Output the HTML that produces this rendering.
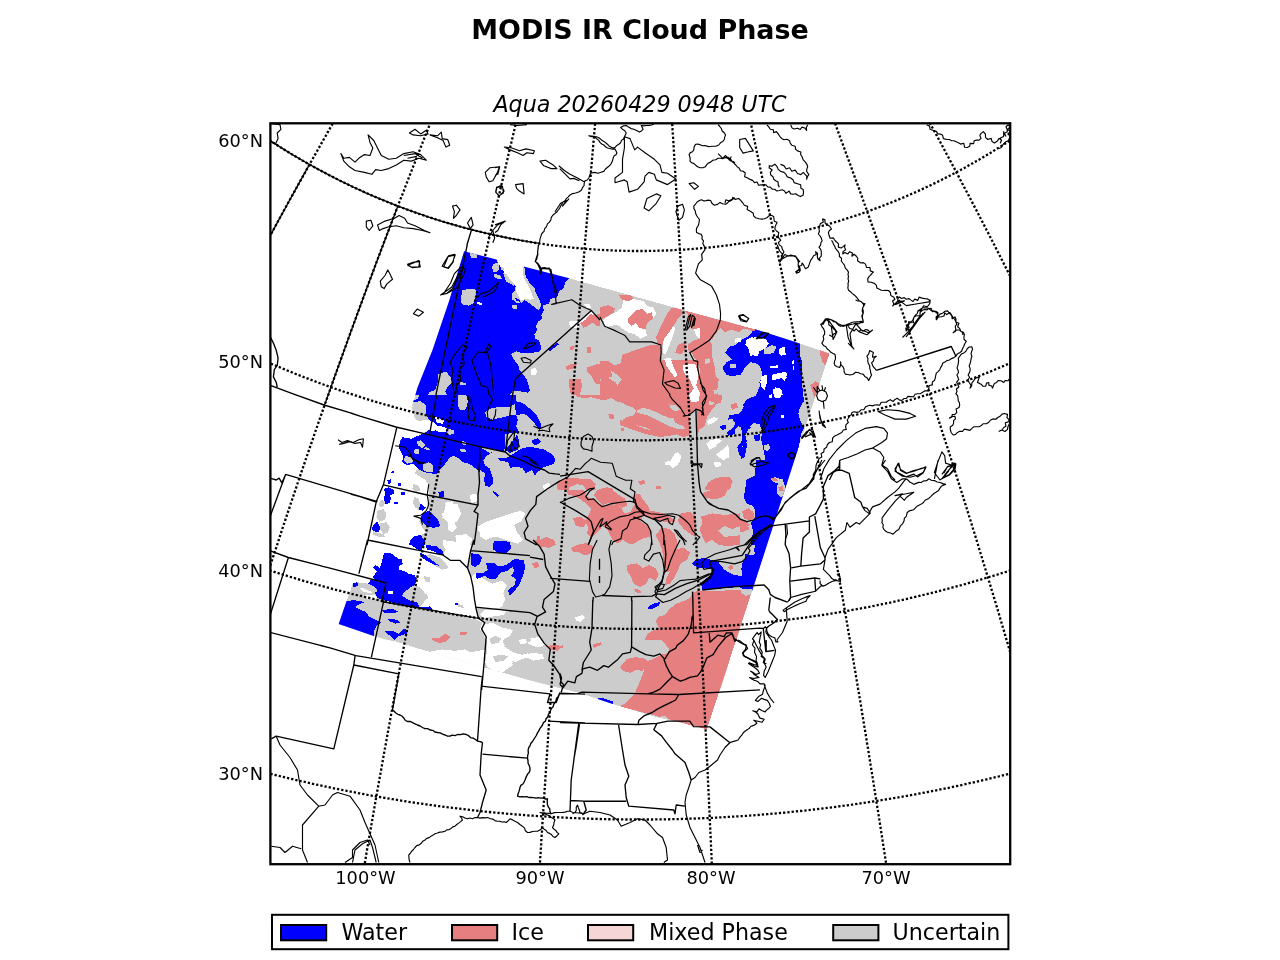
<!DOCTYPE html>
<html><head><meta charset="utf-8"><title>MODIS IR Cloud Phase</title>
<style>html,body{margin:0;padding:0;background:#fff}svg{display:block}.t{filter:grayscale(1)}</style></head>
<body>
<svg width="1280" height="960" viewBox="0 0 1280 960">
<defs><clipPath id="mc"><rect x="270.4" y="123.3" width="739.8" height="740.9"/></clipPath></defs>
<rect width="1280" height="960" fill="#fff"/>
<g clip-path="url(#mc)">
<clipPath id="sc"><path d="M464.1,251.2 L570.3,278.6 L682.8,309.8 L756.2,329.4 L795.3,341.9 L829.7,353.6 L794.5,460.0 L746.0,610.0 L707.0,729.4 L653.8,716.4 L619.4,706.2 L581.9,693.8 L530.0,680.6 L373.8,636.1 L338.7,624.0 L352.5,583.8 L413.8,400.0 L417.5,387.5 L432.5,350.0 L449.4,300.0Z"/></clipPath>
<g shape-rendering="crispEdges" clip-path="url(#sc)">
<path fill="#cccccc" d="M464.1,251.2 L570.3,278.6 L682.8,309.8 L756.2,329.4 L795.3,341.9 L829.7,353.6 L794.5,460.0 L746.0,610.0 L707.0,729.4 L653.8,716.4 L619.4,706.2 L581.9,693.8 L530.0,680.6 L373.8,636.1 L338.7,624.0 L352.5,583.8 L413.8,400.0 L417.5,387.5 L432.5,350.0 L449.4,300.0Z"/>
<path fill="#ffffff" d="M497.7,259.1 L523.4,266.1 L522.7,273.1 L524.2,278.6 L527.3,284.1 L530.5,290.3 L532.8,296.6 L534.4,298.9 L530.5,299.7 L525.0,298.9 L523.4,300.5 L520.3,299.7 L516.4,291.9 L515.6,286.4 L512.5,283.3 L506.2,278.6 L504.7,273.1 L503.1,270.0 L500.0,266.1 L497.7,263.0Z M603.1,320.0 L609.4,315.3 L615.6,312.2 L621.9,307.5 L623.4,299.7 L628.1,298.1 L637.5,299.7 L643.8,301.2 L646.9,305.9 L653.1,307.5 L656.2,313.8 L653.1,318.4 L651.6,312.2 L646.9,313.8 L642.2,309.1 L635.9,310.6 L628.1,318.4 L631.2,326.2 L635.9,323.1 L639.1,327.8 L645.3,329.4 L646.9,335.6 L640.6,338.8 L634.4,334.1 L628.1,332.5 L623.4,329.4 L617.2,324.7 L609.4,326.2 L606.2,327.8Z M664.1,334.1 L668.8,326.2 L673.4,323.1 L675.0,329.4 L671.9,338.8 L668.8,346.6 L665.6,354.4 L662.5,352.8 L662.5,345.0Z M664.1,359.1 L670.3,357.5 L675.0,363.8 L678.1,370.0 L676.6,377.8 L671.9,374.7 L667.2,370.0Z M682.8,368.4 L687.5,365.3 L693.8,363.8 L695.3,370.0 L693.8,377.8 L689.1,382.5 L684.4,379.4Z M693.8,329.4 L700.0,327.8 L703.1,332.5 L701.6,338.8 L696.9,337.2Z M297.5,395.0 L414.7,395.0 L412.3,404.4 L413.9,415.3 L418.6,420.8 L428.8,420.0 L433.4,422.3 L438.1,426.2 L433.4,430.9 L427.2,430.2 L422.5,434.1 L417.8,435.9 L411.6,438.8 L402.2,437.2 L399.8,441.9 L399.1,448.1 L403.0,455.9 L402.2,462.2 L406.9,465.3 L413.1,463.8 L417.8,468.4 L414.7,473.1 L419.4,476.2 L425.6,480.2 L428.8,485.6 L428.8,495.0 L427.2,504.4 L428.8,510.6 L422.5,515.3 L419.4,521.6 L422.5,527.8 L425.6,532.5 L419.4,535.6 L413.1,538.8 L410.0,545.0 L297.5,545.0Z M689.7,395.0 L700.6,395.0 L703.8,398.1 L700.6,402.8 L694.4,403.6 L689.7,399.7Z M706.1,445.0 L710.0,440.3 L717.8,438.8 L722.5,440.3 L716.2,445.0 L710.0,448.1Z M716.2,454.4 L722.5,449.7 L728.0,445.0 L729.5,451.2 L728.8,457.5 L724.1,459.1 L719.4,457.5Z M664.7,462.2 L670.9,460.6 L674.1,454.4 L677.2,452.0 L681.1,455.2 L680.3,460.6 L677.2,465.3 L672.5,468.4 L669.4,464.5 L665.5,464.5Z M706.9,421.6 L714.7,417.7 L717.8,418.4 L713.1,423.1 L708.4,424.7Z M314.4,544.7 L410.0,544.7 L470.6,544.7 L471.4,550.9 L469.1,560.3 L467.5,568.1 L470.6,575.9 L473.0,586.9 L474.5,599.4 L476.1,608.8 L478.4,618.1 L484.7,622.8 L481.6,629.1 L486.2,636.9 L484.7,649.4 L483.9,665.0 L483.1,690.0 L314.4,690.0Z M573.8,616.6 L583.1,615.8 L584.7,619.7 L578.4,622.8 L573.8,620.5Z M530.0,638.4 L540.9,636.9 L542.5,643.1 L534.7,644.7Z M530.0,652.5 L542.5,654.1 L544.1,658.8 L533.1,658.8Z M619.1,554.1 L623.8,554.8 L623.8,559.5 L619.8,558.0Z M574.8,618.0 L581.9,615.6 L585.0,617.2 L581.9,621.1 L576.4,621.1Z"/>
<path fill="#0000ff" d="M461.7,248.9 L470.3,250.9 L496.9,258.3 L497.7,263.0 L500.0,266.1 L503.1,270.0 L504.7,273.1 L506.2,278.6 L512.5,283.3 L515.6,286.4 L514.8,290.3 L512.5,293.4 L511.7,297.3 L518.8,298.9 L521.1,303.6 L524.2,299.7 L529.7,303.6 L535.9,308.3 L539.1,309.8 L541.4,305.2 L535.9,300.5 L532.8,296.6 L530.5,290.3 L527.3,284.1 L524.2,278.6 L522.7,273.1 L523.4,267.7 L526.2,264.5 L571.1,276.2 L565.6,281.7 L563.3,288.8 L559.4,291.1 L557.0,297.3 L550.0,298.9 L549.2,303.6 L543.0,305.2 L543.8,310.6 L541.4,315.3 L542.2,318.4 L538.3,321.6 L535.9,326.2 L537.5,330.2 L534.4,334.1 L535.2,338.8 L539.1,340.3 L540.6,345.0 L541.4,348.9 L539.1,352.0 L530.5,352.8 L520.3,352.8 L516.4,351.2 L510.9,354.4 L514.1,359.8 L518.8,366.1 L519.5,370.0 L523.4,374.7 L526.6,379.4 L528.9,385.6 L529.7,390.3 L528.1,392.7 L518.8,391.1 L512.5,391.1 L510.2,395.0 L412.5,395.0 L459.4,251.2Z M754.7,330.3 L800.0,342.2 L800.0,395.0 L785.2,395.0 L782.8,390.3 L776.6,388.8 L771.9,382.5 L765.6,390.3 L760.9,390.3 L759.4,382.5 L762.5,376.2 L760.9,368.4 L757.8,363.8 L750.0,362.2 L745.3,366.9 L740.6,374.7 L732.8,376.2 L725.0,373.1 L723.4,366.9 L726.6,362.2 L732.8,359.1 L731.2,354.4 L725.0,352.8 L729.7,346.6 L735.9,345.0 L740.6,340.3 L746.9,337.2 L750.0,334.1Z M753.1,328.6 L793.0,338.8 L795.3,346.6 L799.2,352.8 L801.6,360.6 L802.3,371.6 L801.6,382.5 L803.1,391.9 L803.9,401.2 L800.0,407.5 L798.4,413.8 L800.0,420.0 L803.9,427.8 L801.6,432.5 L800.0,438.8 L799.2,445.0 L797.7,451.2 L793.8,463.8 L792.2,470.0 L753.9,470.0 L757.8,466.9 L762.5,463.8 L765.6,460.6 L764.1,452.8 L762.5,445.0 L760.9,438.8 L762.5,432.5 L759.4,429.4 L753.1,426.2 L748.4,429.4 L745.3,435.6 L746.9,441.9 L743.8,445.0 L739.1,449.7 L737.5,446.6 L742.2,440.3 L742.2,432.5 L740.6,426.2 L735.9,421.6 L731.2,416.9 L728.9,415.3 L739.1,413.8 L743.8,407.5 L743.0,404.4 L750.0,399.7 L756.2,395.0 L759.4,387.2 L761.7,379.4 L763.3,371.6 L761.7,365.3 L756.2,361.4 L748.4,361.4 L745.3,365.3 L740.6,370.0 L735.9,373.1 L731.2,376.2 L726.6,374.7 L723.4,370.0 L722.7,366.1 L728.1,364.5 L732.8,360.6 L729.7,357.5 L725.8,353.6 L730.5,348.1 L737.5,346.6 L742.2,343.4 L746.9,341.9 L751.6,335.6Z M391.2,471.6 L393.6,471.2 L393.6,473.1 L391.2,473.1Z M387.3,480.2 L390.5,479.4 L391.2,483.3 L388.1,484.1Z M397.5,483.3 L400.6,483.3 L400.9,485.6 L397.8,485.6Z M401.4,491.9 L405.3,491.9 L405.3,495.0 L401.4,495.0Z M384.2,488.8 L388.9,487.2 L394.4,490.3 L393.6,494.2 L389.7,495.0 L391.2,498.1 L389.7,502.8 L385.8,504.4 L383.4,498.9 L385.0,495.0Z M394.4,502.0 L398.3,502.0 L398.3,504.4 L394.4,504.4Z M373.3,524.7 L377.2,521.6 L380.3,527.8 L378.8,532.5 L374.8,531.7 L371.7,529.4Z M413.9,536.4 L420.9,534.8 L424.1,540.3 L424.8,545.0 L409.2,545.0 L410.0,541.1Z M414.7,504.4 L419.4,502.8 L425.6,507.5 L422.5,510.6 L417.8,509.1Z M414.7,395.0 L413.1,402.0 L420.9,401.2 L426.4,405.9 L425.6,412.2 L428.8,420.0 L433.4,422.3 L438.1,426.2 L434.2,430.9 L428.8,430.2 L422.5,434.1 L417.8,435.9 L411.6,438.8 L402.2,437.2 L399.8,441.9 L399.1,448.1 L403.0,455.9 L402.2,462.2 L406.9,465.3 L413.1,463.8 L419.4,470.0 L427.2,473.1 L436.6,473.9 L441.2,468.4 L445.2,463.8 L450.6,456.7 L456.9,457.5 L463.1,462.2 L469.4,463.8 L475.6,468.4 L479.5,471.6 L479.5,447.3 L489.7,448.9 L497.5,450.5 L503.8,451.2 L508.4,446.6 L516.2,435.6 L519.4,432.5 L516.2,426.2 L517.8,420.0 L516.2,415.3 L510.0,415.3 L505.3,416.9 L497.5,418.4 L492.8,420.0 L486.6,416.9 L485.0,412.2 L491.2,408.3 L500.6,406.7 L508.4,407.5 L514.7,404.4 L516.2,401.2 L516.2,395.0Z M480.3,447.3 L489.7,452.8 L492.8,452.0 L486.6,455.9 L483.4,460.6 L485.0,465.3 L489.7,468.4 L491.2,473.1 L492.8,477.8 L492.8,484.1 L489.7,487.2 L485.0,485.6 L484.2,479.4 L485.0,473.1 L481.9,471.6 L479.5,468.4Z M516.2,401.2 L522.5,402.8 L530.3,409.1 L536.6,415.3 L541.2,424.7 L539.7,430.9 L536.6,426.2 L533.4,421.6 L527.2,415.3 L522.5,413.8 L516.2,415.3 L514.7,404.4Z M497.5,458.3 L506.9,457.5 L514.7,452.8 L522.5,448.1 L530.3,446.6 L544.4,449.7 L552.2,454.4 L555.3,459.1 L553.8,463.8 L549.1,465.3 L542.8,467.7 L536.6,473.1 L535.0,476.2 L531.9,470.0 L525.6,473.1 L522.5,468.4 L517.8,466.9 L510.0,467.7 L508.4,462.2 L500.6,460.6Z M531.9,440.3 L538.1,438.0 L541.2,441.9 L536.6,445.0 L532.7,444.2Z M505.3,434.1 L516.2,432.5 L519.4,441.9 L517.8,449.7 L510.0,452.8 L504.5,449.7Z M422.5,513.8 L428.8,510.6 L433.4,515.3 L438.1,520.0 L440.5,526.2 L433.4,527.8 L427.2,526.2 L422.5,521.6 L420.2,518.4Z M438.1,491.9 L443.6,491.1 L444.4,496.6 L439.7,497.3Z M493.6,491.1 L499.1,495.0 L497.5,496.6 L492.8,492.7Z M494.4,541.1 L506.9,541.1 L510.0,545.0 L492.8,545.0Z M413.1,395.0 L419.4,395.0 L417.8,398.9 L413.9,400.5Z M745.2,401.2 L749.1,398.1 L760.0,395.0 L760.0,423.9 L753.8,424.7 L747.5,424.7 L742.8,427.8 L738.1,426.2 L735.0,429.4 L731.9,434.1 L727.2,434.1 L728.8,430.9 L733.4,427.8 L735.0,423.1 L731.9,418.4 L727.2,420.0 L730.3,415.3 L735.0,416.9 L741.2,420.0 L744.4,415.3 L742.8,409.1Z M720.9,426.2 L725.6,424.7 L726.4,428.6 L721.7,430.2Z M737.3,447.3 L742.8,446.6 L744.4,441.9 L747.5,443.4 L745.9,451.2 L744.4,457.5 L740.5,459.1 L741.2,452.8Z M753.8,435.6 L760.0,434.1 L760.0,440.3 L755.3,441.9Z M745.9,480.2 L760.0,473.1 L760.0,545.0 L750.6,545.0 L752.2,535.6 L755.3,526.2 L753.8,520.0 L755.3,513.8 L753.8,504.4 L747.5,502.8 L744.4,498.1 L745.9,488.8Z M716.2,462.2 L719.4,461.4 L720.2,465.3 L717.0,466.1Z M756.2,460.0 L800.0,460.0 L756.2,591.2 L731.2,586.6 L702.3,590.0 L701.6,585.0 L704.7,581.9 L710.9,577.2 L713.3,570.9 L709.4,567.8 L703.1,569.4 L701.6,563.1 L704.7,560.0 L710.9,558.4 L715.6,560.0 L718.8,563.1 L723.4,567.8 L726.6,572.5 L732.8,576.4 L742.2,575.6 L741.4,569.4 L742.2,563.1 L744.5,560.0 L745.3,553.8 L751.6,555.3 L755.5,553.8 L753.9,550.6 L755.5,544.4 L757.8,536.6 L753.9,533.4 L752.3,528.8 L750.8,522.5 L753.1,520.9 L756.2,514.7 L754.7,508.4 L751.6,505.3 L746.9,503.8 L743.8,497.5 L745.3,488.1 L746.9,480.3 L754.7,475.6 L755.5,467.8Z M692.5,563.4 L698.8,558.8 L709.7,557.2 L717.5,560.3 L722.2,566.6 L730.0,568.9 L730.0,588.4 L703.4,590.0 L701.9,583.8 L706.6,579.1 L709.7,574.4 L705.0,571.2 L700.3,568.1 L694.1,567.3Z M648.8,605.6 L656.6,603.3 L659.7,605.6 L655.0,608.8 L648.8,608.8Z M648.3,606.2 L653.8,603.1 L660.0,603.9 L656.9,607.8 L650.6,609.4Z M597.5,697.7 L603.8,698.4 L613.1,701.6 L613.1,704.7 L605.3,703.1 L598.3,700.8Z"/>
<path fill="#cccccc" d="M470.3,252.8 L477.3,254.4 L476.6,258.3 L471.9,258.3 L470.0,255.2Z M493.0,263.8 L498.4,263.0 L499.2,268.4 L496.9,272.3 L493.0,271.6 L492.2,266.9Z M494.5,273.9 L500.0,275.5 L501.6,278.6 L496.9,278.6 L493.8,276.2Z M501.6,266.9 L503.9,268.4 L503.1,270.8 L500.8,269.2Z M503.1,272.3 L506.2,273.9 L509.4,278.6 L514.8,284.8 L514.1,286.4 L510.2,283.3 L506.2,281.7 L504.4,277.0Z M462.5,290.3 L467.2,289.1 L475.0,289.5 L476.6,291.9 L475.8,297.3 L473.4,303.6 L468.8,305.6 L464.1,305.2 L460.9,302.0 L461.2,296.6Z M511.7,305.2 L516.4,305.2 L517.5,308.3 L514.8,309.4 L511.7,307.5Z M511.7,296.6 L514.8,297.3 L516.4,300.5 L519.5,301.6 L520.3,303.6 L516.4,302.8 L512.5,299.7Z M437.5,374.7 L443.0,372.3 L446.9,372.3 L450.8,377.8 L452.3,382.5 L448.4,385.6 L445.3,391.1 L446.9,395.0 L428.1,395.0 L429.7,391.9 L435.2,390.3 L436.7,385.6 L438.3,380.2Z M460.2,382.2 L465.6,382.8 L465.6,384.8 L460.2,384.5Z M522.7,267.7 L525.0,268.4 L525.0,273.1 L526.6,277.8 L529.7,283.3 L534.4,288.0 L535.9,293.4 L539.1,298.9 L541.4,305.2 L539.1,309.8 L535.9,308.3 L529.7,303.6 L532.8,301.2 L534.4,298.9 L532.8,296.6 L530.5,290.3 L527.3,284.1 L524.2,278.6 L522.7,273.1Z M765.6,348.1 L771.9,345.0 L776.6,346.6 L773.4,352.8 L767.2,354.4Z M731.2,363.8 L735.9,363.8 L735.9,368.4 L731.2,368.4Z M764.1,348.9 L771.9,346.6 L776.6,348.1 L773.4,351.2 L768.8,354.4 L764.1,353.6Z M753.1,423.1 L759.4,423.9 L761.7,429.4 L757.8,432.5 L751.6,429.4 L750.0,426.2Z M764.1,445.0 L768.8,444.2 L770.3,448.1 L767.2,451.2 L764.1,449.7Z M752.3,441.9 L757.0,441.1 L758.6,445.0 L753.9,446.6Z M729.7,364.5 L733.6,363.8 L734.4,366.9 L730.5,367.7Z M413.1,402.8 L420.9,401.2 L425.6,405.9 L424.8,412.2 L421.7,416.9 L416.2,420.0 L413.9,415.3 L412.3,409.1Z M380.3,499.7 L385.0,501.2 L384.2,505.9 L380.3,507.5 L378.8,504.4Z M377.2,510.6 L383.4,509.1 L386.6,513.8 L385.0,520.0 L379.5,521.6 L376.4,516.9Z M380.3,523.1 L386.6,522.3 L389.7,527.0 L388.1,532.5 L383.4,534.1 L380.3,529.4Z M372.5,530.9 L377.2,532.5 L383.4,534.1 L385.0,537.2 L377.2,536.4 L372.5,534.8Z M413.1,484.1 L418.6,485.6 L420.2,490.3 L416.2,491.9 L412.3,488.8Z M413.9,496.6 L418.6,498.9 L420.2,504.4 L418.6,509.8 L415.5,507.5 L413.1,502.8Z M458.4,395.0 L466.2,395.0 L467.8,401.2 L466.2,409.1 L460.0,410.6 L457.7,404.4Z M416.2,441.9 L420.9,440.3 L425.6,445.0 L422.5,448.1 L418.6,445.8Z M424.8,446.6 L430.3,448.9 L428.8,450.5 L424.1,448.9Z M413.9,449.7 L419.4,448.9 L418.6,453.6 L414.7,454.4Z M460.0,448.9 L466.2,449.7 L466.2,452.0 L460.8,451.6Z M461.6,441.1 L466.2,441.9 L465.5,445.0 L461.6,444.2Z M405.3,455.9 L411.6,457.5 L413.1,462.2 L406.9,463.8 L403.8,460.6Z M422.5,463.8 L428.8,462.2 L433.4,465.3 L432.7,471.6 L427.2,472.3 L422.5,470.0Z M447.5,428.6 L453.8,430.2 L454.5,434.1 L449.1,434.8 L446.7,431.7Z M449.8,457.5 L453.8,455.9 L460.0,459.1 L456.9,461.4 L452.2,460.6Z M770.3,478.8 L775.0,477.2 L782.8,479.5 L785.2,486.6 L784.4,492.8 L781.2,497.5 L777.3,493.6 L776.6,488.1 L778.1,483.4 L773.4,481.9Z M352.7,583.0 L358.1,582.2 L365.9,584.5 L373.8,586.9 L383.1,591.6 L383.9,600.2 L392.5,602.5 L403.4,605.6 L411.2,607.2 L423.8,608.8 L433.1,610.3 L442.5,613.4 L455.0,615.0 L467.5,618.1 L476.9,619.7 L482.3,622.8 L480.0,629.1 L486.2,635.3 L485.5,649.4 L470.6,652.5 L464.4,649.4 L455.0,650.9 L442.5,649.4 L430.0,651.7 L423.8,650.2 L411.2,646.2 L398.8,642.3 L389.4,640.0 L381.6,640.0 L373.8,640.0 L333.1,627.5 L345.6,602.5 L350.3,591.6Z M401.9,595.5 L405.0,591.6 L411.2,586.9 L415.2,585.3 L419.1,586.9 L423.8,591.6 L426.9,597.8 L423.8,602.5 L419.8,607.2 L417.5,602.5 L411.2,600.9 L405.0,597.8Z M425.3,540.0 L439.4,540.0 L442.5,544.7 L445.6,549.4 L443.3,554.8 L439.4,554.8 L442.5,550.9 L436.2,546.2 L426.9,544.7Z M423.8,555.6 L430.0,554.1 L439.4,557.2 L445.6,563.4 L448.8,568.1 L442.5,569.7 L436.2,566.6 L430.0,561.9Z M451.9,540.0 L462.8,540.0 L459.7,544.7 L453.4,543.9Z M423.8,575.9 L430.0,577.5 L430.0,582.2 L425.3,581.4Z M420.6,593.1 L426.9,593.9 L428.4,599.4 L422.2,598.6Z M456.6,603.3 L462.8,605.6 L464.4,608.8 L458.1,606.4Z"/>
<path fill="#ffffff" d="M476.6,302.0 L482.0,302.8 L482.0,304.7 L476.6,304.4Z M568.8,322.3 L571.9,320.8 L579.7,321.6 L589.8,310.6 L593.8,313.8 L584.4,323.1 L576.6,327.8 L570.3,327.0Z M530.5,369.2 L535.2,367.7 L537.2,370.8 L535.9,374.7 L531.2,374.7Z M584.4,304.4 L589.8,304.1 L591.4,307.5 L586.7,307.8Z M746.9,338.8 L756.2,337.2 L765.6,338.8 L768.8,343.4 L765.6,348.1 L759.4,346.6 L756.2,354.4 L750.0,355.9 L748.4,348.1 L745.3,345.0Z M779.7,348.1 L784.4,346.6 L785.2,352.8 L781.2,355.9Z M770.3,366.1 L778.1,365.3 L778.1,368.4 L770.3,368.4Z M771.9,374.7 L785.9,371.6 L787.5,376.2 L776.6,379.4 L771.9,379.4Z M760.9,377.8 L765.6,376.2 L767.2,382.5 L764.1,388.8 L760.9,385.6Z M775.0,387.2 L781.2,388.8 L782.8,395.0 L776.6,395.0Z M735.9,338.8 L740.6,338.0 L741.4,341.9 L737.5,342.7Z M746.9,341.9 L751.6,337.2 L757.8,338.8 L765.6,340.3 L768.8,343.4 L765.6,348.1 L759.4,351.2 L757.8,355.9 L751.6,355.2 L750.0,349.7 L746.9,346.6Z M734.4,338.8 L739.1,338.0 L738.3,341.9 L735.2,342.7Z M779.7,348.1 L784.4,347.3 L785.9,354.4 L781.2,355.9 L778.9,352.8Z M770.3,366.1 L777.3,366.1 L777.3,367.7 L770.3,367.7Z M771.9,374.7 L785.9,372.3 L786.7,377.8 L784.4,380.9 L781.2,377.0 L775.0,380.2 L771.9,379.4Z M761.7,376.2 L767.2,374.7 L766.4,382.5 L764.8,390.3 L761.7,387.2 L760.2,382.5Z M773.4,388.8 L779.7,388.0 L782.0,391.9 L781.2,397.3 L775.0,398.1 L773.4,393.4Z M768.8,395.0 L771.9,394.2 L771.9,398.1 L768.8,398.1Z M780.5,414.5 L783.6,415.3 L784.4,418.4 L781.2,417.7Z M792.2,360.6 L793.8,360.3 L794.1,363.8 L792.5,364.1Z M793.0,366.1 L794.5,366.1 L794.2,370.0 L792.7,369.7Z M706.2,443.4 L712.5,440.3 L718.8,441.9 L715.6,446.6 L709.4,449.7Z M720.3,454.4 L725.0,452.8 L726.6,459.1 L721.9,460.6Z M707.8,420.0 L714.1,416.9 L717.2,420.0 L710.9,424.7Z M431.9,424.7 L441.2,426.2 L447.5,428.6 L445.2,432.5 L438.1,431.7 L432.7,428.6Z M435.0,416.9 L444.4,420.0 L442.8,423.9 L436.6,422.3Z M441.2,513.8 L447.5,510.6 L453.8,515.3 L450.6,520.0 L444.4,518.4Z M444.4,502.8 L452.2,501.2 L453.8,507.5 L447.5,509.1Z M469.4,495.0 L476.4,493.4 L477.2,501.2 L471.7,502.8Z M447.5,523.1 L453.8,521.6 L456.9,527.8 L452.2,532.5 L447.5,529.4Z M455.3,535.6 L466.2,534.1 L472.5,538.8 L469.4,545.0 L456.9,545.0Z M489.7,529.4 L500.6,527.8 L510.0,530.9 L505.3,535.6 L494.4,537.2Z M510.0,513.8 L520.9,510.6 L525.6,513.8 L516.2,518.4Z M500.6,518.4 L508.4,516.9 L506.9,523.1 L501.4,522.3Z M477.2,526.2 L485.0,524.7 L486.6,530.9 L478.8,532.5Z M542.8,485.6 L549.1,482.5 L550.6,487.2 L544.4,490.3Z M714.1,461.6 L720.3,461.6 L721.1,466.2 L714.8,467.0Z M475.3,572.8 L486.2,580.6 L492.5,583.8 L501.9,580.6 L506.6,585.3 L503.4,593.1 L505.0,599.4 L501.9,607.2 L492.5,608.8 L486.2,607.2 L476.9,607.2 L474.5,599.4 L473.0,586.9 L471.4,577.5Z M484.7,610.3 L495.6,609.5 L506.6,611.1 L503.4,615.0 L492.5,616.6 L484.7,618.1 L480.0,615.0Z M484.7,624.4 L492.5,622.8 L501.9,627.5 L509.7,629.1 L508.1,633.8 L498.8,635.3 L489.4,633.8 L486.2,630.6Z M487.8,640.0 L495.6,636.9 L501.9,640.0 L505.0,646.2 L498.8,649.4 L495.6,657.2 L500.3,663.4 L495.6,669.7 L489.4,665.0 L486.2,657.2Z M519.1,640.0 L525.3,638.4 L526.9,643.1 L520.6,644.7Z M505.0,658.8 L511.2,657.2 L512.8,663.4 L506.6,665.0Z"/>
<path fill="#e67f7f" d="M579.7,323.1 L585.2,320.0 L590.6,313.8 L594.5,315.3 L600.0,313.8 L600.0,326.2 L596.1,325.5 L592.2,322.3 L587.5,326.2 L583.6,327.8Z M570.3,346.6 L575.0,345.8 L573.4,349.7 L570.3,350.5Z M586.7,346.6 L590.6,346.6 L590.9,352.8 L587.2,352.8Z M565.6,366.9 L571.9,363.8 L577.3,364.5 L573.4,368.4 L567.2,370.0Z M586.7,368.4 L593.8,367.7 L600.0,374.7 L600.0,384.1 L595.3,383.3 L591.4,376.2 L587.5,371.6Z M569.5,379.4 L580.5,378.6 L582.0,385.6 L579.7,395.0 L571.1,395.0 L568.8,385.6Z M600.0,307.5 L607.8,305.2 L614.8,308.3 L614.1,312.2 L607.8,316.1 L601.6,319.2 L600.0,318.4Z M618.8,295.0 L631.2,295.0 L633.6,298.9 L628.1,301.2 L621.9,299.7Z M628.1,318.4 L635.9,310.6 L642.2,309.1 L646.9,313.8 L651.6,312.2 L653.1,318.4 L646.9,323.1 L645.3,329.4 L639.1,327.8 L635.9,323.1 L631.2,326.2 L628.1,323.1Z M671.9,307.5 L681.2,309.1 L682.8,313.8 L678.1,318.4 L673.4,326.2 L668.8,332.5 L664.1,338.8 L662.5,345.0 L657.8,345.0 L656.2,337.2 L659.4,329.4 L662.5,323.1 L667.2,313.8Z M684.4,310.6 L756.2,329.7 L753.9,331.2 L740.6,327.5 L729.7,325.0 L720.3,323.4 L718.8,321.6 L712.5,338.8 L701.6,345.0 L693.8,351.2 L689.1,352.8 L687.5,345.0 L693.8,340.3 L700.0,338.8 L703.1,332.5 L700.0,327.8 L693.8,329.4 L689.1,326.2 L687.5,313.8Z M623.4,354.4 L631.2,352.8 L640.6,357.5 L645.3,348.1 L651.6,345.0 L660.2,345.0 L661.7,354.4 L660.2,363.8 L662.5,370.0 L663.3,380.9 L668.8,390.3 L671.9,395.0 L645.3,395.0 L643.8,385.6 L637.5,384.1 L631.2,385.6 L623.4,380.9 L617.2,374.7 L609.4,370.0 L600.0,371.6 L600.0,360.6 L607.8,360.6 L614.1,365.3 L620.3,363.8Z M600.0,380.9 L607.8,377.8 L615.6,382.5 L620.3,390.3 L623.4,395.0 L600.0,395.0Z M692.2,352.8 L700.0,345.0 L709.4,340.3 L712.5,345.0 L711.7,354.4 L714.1,363.8 L715.6,373.1 L714.8,382.5 L717.2,391.9 L718.0,395.0 L706.2,395.0 L701.6,382.5 L700.0,370.0 L696.9,360.6 L693.8,357.5Z M681.2,363.8 L687.5,360.6 L689.1,370.0 L685.9,379.4 L681.2,374.7Z M675.0,352.8 L678.1,345.0 L684.4,341.9 L685.9,348.1 L681.2,354.4Z M820.3,348.9 L829.7,353.6 L825.0,365.3 L822.7,362.2 L820.3,355.9Z M810.2,385.6 L815.6,380.9 L820.3,384.1 L814.8,398.1 L812.5,391.9Z M700.0,320.0 L723.4,320.0 L720.3,327.8 L709.4,341.9 L712.5,351.2 L710.9,363.8 L712.5,371.6 L718.8,379.4 L717.2,390.3 L715.6,401.2 L710.9,407.5 L707.8,413.8 L704.7,426.2 L700.0,429.4Z M723.4,320.0 L745.3,327.0 L739.1,332.5 L731.2,329.4 L725.0,332.5 L720.3,327.8Z M556.9,482.5 L560.0,480.9 L560.0,491.9 L557.7,490.3Z M536.6,535.6 L544.4,537.2 L552.2,540.3 L555.3,545.0 L538.1,545.0Z M575.6,395.0 L669.4,395.0 L672.5,399.7 L681.9,407.5 L685.0,415.3 L689.7,416.9 L689.7,435.6 L683.4,437.2 L675.6,434.1 L667.8,432.5 L661.6,434.1 L653.8,432.5 L647.5,427.8 L641.2,426.2 L633.4,424.7 L625.6,423.1 L622.5,420.0 L627.2,416.9 L633.4,415.3 L636.6,410.6 L633.4,407.5 L627.2,405.9 L622.5,402.8 L616.2,401.2 L611.6,398.1 L606.9,399.7 L600.6,399.7 L591.2,397.3 L583.4,398.1 L577.2,396.6Z M695.9,395.0 L717.8,395.0 L716.2,404.4 L710.0,412.2 L705.3,420.0 L700.6,426.2 L697.5,434.1 L696.7,410.6Z M706.9,395.0 L722.5,395.0 L720.9,402.8 L714.7,404.4Z M730.3,404.4 L736.6,402.8 L738.1,407.5 L731.9,409.8Z M608.4,414.5 L613.1,413.8 L614.7,418.4 L610.0,419.2Z M620.9,427.8 L624.1,427.8 L624.1,430.9 L620.9,430.6Z M704.5,488.8 L708.4,482.5 L716.2,477.8 L725.6,477.0 L731.9,480.2 L731.1,487.2 L725.6,493.4 L717.8,497.3 L710.0,498.1 L704.5,495.0Z M560.0,480.2 L569.4,477.8 L580.3,478.6 L591.2,479.4 L595.9,484.1 L594.4,488.8 L600.6,491.9 L606.9,487.2 L613.1,488.8 L616.2,495.0 L622.5,496.6 L628.8,502.8 L635.0,504.4 L638.1,501.2 L641.2,507.5 L647.5,510.6 L656.9,512.2 L669.4,513.0 L678.8,515.3 L686.6,518.4 L689.7,523.1 L695.9,529.4 L697.5,538.8 L695.9,545.0 L560.0,545.0Z M700.6,516.9 L710.0,513.8 L722.5,515.3 L731.9,513.8 L739.7,518.4 L747.5,521.6 L749.1,529.4 L741.2,532.5 L731.9,530.9 L725.6,535.6 L719.4,543.4 L716.2,545.0 L697.5,545.0 L699.1,535.6 L695.9,529.4 L697.5,523.1Z M638.1,480.9 L644.4,480.2 L645.2,484.1 L639.7,484.8Z M656.1,486.4 L660.8,485.6 L660.8,488.8 L656.6,489.2Z M704.7,489.7 L710.9,480.3 L720.3,477.2 L729.7,477.2 L732.8,481.9 L729.7,488.1 L725.0,492.8 L718.8,495.9 L710.9,497.5 L706.2,495.9Z M700.0,519.4 L706.2,514.7 L717.2,512.3 L725.0,513.1 L731.2,517.8 L737.5,520.9 L745.3,522.5 L750.0,524.1 L746.9,528.8 L740.6,530.3 L736.7,527.2 L731.2,524.1 L723.4,525.6 L721.9,533.4 L725.0,541.2 L729.7,544.4 L727.3,549.1 L720.3,547.5 L715.6,542.8 L712.5,538.1 L707.8,539.7 L704.7,547.5 L700.0,547.5Z M742.2,511.6 L748.4,508.4 L753.1,511.6 L754.7,517.8 L750.0,520.2 L743.8,518.6Z M701.6,590.5 L752.3,589.4 L746.1,610.0 L700.0,610.0Z M651.9,540.0 L664.4,540.0 L662.8,549.4 L663.6,563.4 L661.2,571.2 L658.1,563.4 L655.0,552.5Z M664.4,540.0 L680.0,540.0 L676.9,549.4 L673.8,557.2 L670.6,565.0 L665.9,571.2 L664.4,577.5 L665.9,582.2 L662.8,586.9 L659.7,583.8 L658.1,577.5 L661.2,571.2 L662.8,563.4 L659.7,555.6 L658.1,549.4Z M680.0,549.4 L686.2,546.2 L695.6,544.7 L701.9,549.4 L711.2,549.4 L730.0,549.4 L730.0,557.2 L709.7,557.2 L698.8,557.2 L692.5,561.9 L686.2,563.4 L680.0,569.7 L676.9,575.9 L670.6,580.6 L665.9,580.6 L667.5,574.4 L672.2,566.6 L675.3,557.2Z M680.0,540.0 L730.0,540.0 L730.0,550.9 L701.9,549.4 L686.2,546.2 L678.4,547.8Z M692.5,591.6 L730.0,590.0 L730.0,658.8 L721.4,690.0 L636.2,690.0 L639.4,683.8 L642.5,675.9 L645.6,665.0 L651.9,661.9 L659.7,658.8 L665.9,655.6 L670.6,649.4 L676.9,646.2 L673.8,641.6 L667.5,646.2 L662.8,641.6 L658.1,636.9 L651.9,633.8 L644.1,635.3 L648.8,630.6 L655.0,629.1 L659.7,622.8 L655.0,618.1 L659.7,615.0 L664.4,611.9 L670.6,607.2 L676.9,602.5 L684.7,597.8Z M670.6,591.6 L678.4,586.9 L686.2,585.3 L692.5,586.9 L692.5,593.1 L684.7,597.8 L676.9,602.5 L670.6,602.5 L665.9,599.4Z M626.9,567.3 L633.1,565.0 L639.4,569.7 L645.6,568.1 L648.8,575.9 L653.4,577.5 L651.9,585.3 L645.6,586.9 L642.5,580.6 L637.8,582.2 L633.1,579.1 L630.0,572.8Z M533.1,540.0 L555.0,540.0 L553.4,544.7 L547.2,549.4 L542.5,547.8 L536.2,544.7Z M570.6,549.4 L576.9,544.7 L584.7,546.2 L587.8,552.5 L583.1,555.6 L576.9,552.5 L572.2,553.3Z M611.2,540.0 L626.9,540.0 L623.8,546.2 L617.5,549.4 L612.8,546.2Z M531.6,563.4 L537.8,561.9 L539.4,566.6 L534.7,568.1Z M620.6,666.6 L626.9,658.8 L636.2,657.2 L645.6,658.8 L645.6,665.0 L642.5,671.2 L636.2,669.7 L630.0,672.8 L623.8,671.2Z M592.5,644.7 L600.3,642.3 L601.9,644.7 L594.1,647.8Z M545.6,646.2 L555.0,644.7 L562.8,646.2 L558.1,650.9 L550.3,649.4Z M631.6,585.3 L637.8,586.9 L639.4,591.6 L634.7,590.8Z M675.6,600.0 L749.1,600.0 L706.9,729.4 L619.4,706.2 L625.6,703.1 L630.3,698.4 L635.0,693.8 L638.1,685.9 L641.2,678.1 L643.6,671.9 L644.4,665.6 L638.1,665.6 L631.9,667.2 L627.2,671.9 L622.5,670.3 L620.2,667.2 L622.5,664.1 L627.2,660.9 L631.9,657.8 L638.1,657.8 L644.4,658.6 L647.5,660.9 L652.2,659.4 L655.3,657.8 L661.6,654.7 L667.8,653.1 L669.4,648.4 L666.2,645.3 L663.1,640.6 L658.4,637.5 L650.6,635.9 L642.8,635.9 L644.4,632.8 L650.6,631.2 L656.9,629.7 L660.0,625.0 L655.3,623.4 L653.8,618.8 L660.0,617.2 L663.1,614.1 L667.8,610.9 L672.5,606.2Z M592.8,645.3 L600.6,642.2 L601.4,644.5 L594.4,646.9Z M560.0,646.1 L563.1,645.3 L563.1,648.4 L560.0,648.4Z M622.5,355.0 L635.0,350.0 L650.0,345.0 L660.0,347.5 L662.5,362.5 L665.0,380.0 L670.0,392.5 L680.0,405.0 L685.0,415.0 L680.0,420.0 L670.0,422.5 L660.0,420.0 L650.0,415.0 L640.0,405.0 L630.0,397.5 L620.0,395.0 L617.5,385.0 L625.0,375.0 L620.0,365.0Z M587.5,367.5 L597.5,363.8 L610.0,367.5 L612.5,376.2 L602.5,380.0 L592.5,377.5Z M620.0,420.0 L632.5,423.8 L645.0,428.8 L660.0,432.0 L675.0,430.0 L685.0,426.2 L687.5,430.0 L675.0,435.0 L660.0,437.0 L645.0,433.8 L630.0,428.8 L620.0,425.0Z M662.5,360.0 L697.5,360.0 L700.0,378.8 L705.0,395.0 L702.5,410.0 L695.0,408.8 L690.0,415.0 L683.8,415.0 L677.5,407.5 L670.0,396.2 L662.5,385.0 L661.2,372.5Z"/>
<path fill="#0000ff" d="M547.7,348.9 L557.8,342.7 L559.1,344.2 L550.0,351.2Z M719.5,426.2 L725.0,424.7 L726.6,427.8 L721.1,429.4Z M726.6,432.5 L734.4,429.4 L735.2,434.1 L728.1,435.6Z M737.5,448.1 L742.2,449.7 L743.0,457.5 L739.8,455.9Z M345.6,601.7 L351.9,600.2 L361.2,600.9 L363.6,602.5 L358.1,604.8 L355.0,607.2 L361.2,610.3 L365.9,611.9 L369.1,616.6 L375.3,619.7 L381.6,622.8 L376.9,625.2 L374.5,629.8 L373.8,640.0 L333.1,627.5 L340.9,602.5Z M353.4,583.0 L357.3,582.2 L358.1,586.1 L353.4,586.9Z M381.6,610.3 L392.5,608.8 L398.8,611.9 L392.5,613.4 L384.7,612.7Z M387.8,618.9 L397.2,619.7 L400.3,622.8 L395.6,623.6 L389.4,621.2Z M384.7,631.4 L392.5,630.6 L398.8,633.8 L403.4,629.1 L408.1,629.8 L406.6,633.8 L398.8,636.1 L394.1,640.0 L389.4,635.3Z M383.9,553.3 L390.9,553.3 L398.8,558.8 L401.9,559.5 L402.7,564.2 L398.8,565.8 L399.5,569.7 L405.0,571.2 L408.1,573.6 L414.4,575.2 L416.7,578.3 L415.2,584.5 L411.2,586.9 L405.0,591.6 L401.9,595.5 L405.0,597.8 L411.2,600.9 L417.5,602.5 L419.8,607.2 L430.0,606.4 L433.1,610.3 L423.8,608.8 L412.8,607.5 L403.4,605.6 L392.5,602.5 L383.9,600.2 L383.1,591.6 L386.2,583.0 L373.8,579.1 L373.0,576.7 L376.9,571.2 L373.0,568.1 L375.3,565.0 L380.0,568.1 L382.3,560.3Z M409.7,541.6 L414.4,540.0 L425.3,540.0 L423.8,546.2 L420.6,550.9 L417.5,549.4 L412.8,546.2Z M425.3,544.7 L436.2,546.2 L442.5,550.9 L444.1,555.6 L439.4,554.8 L433.1,550.9 L426.9,549.4Z M419.1,552.5 L423.8,554.1 L430.0,558.8 L436.2,563.4 L439.4,565.8 L434.7,565.0 L428.4,561.9 L422.2,558.0Z M455.0,602.8 L458.1,602.8 L458.4,604.8 L455.3,604.8Z M471.4,553.3 L478.4,554.1 L482.3,557.2 L480.0,563.4 L475.3,567.3 L471.4,565.0Z M492.5,543.1 L498.8,540.8 L509.7,542.3 L511.2,547.8 L506.6,552.5 L498.8,553.3 L493.3,549.4Z M486.2,563.4 L494.1,562.7 L498.8,566.6 L506.6,565.0 L514.4,558.8 L523.8,560.3 L525.3,568.1 L522.2,577.5 L519.1,585.3 L512.8,593.1 L509.7,596.2 L508.1,590.0 L514.4,585.3 L515.9,579.1 L511.2,575.9 L514.4,571.2 L512.8,566.6 L506.6,571.2 L500.3,572.8 L495.6,579.1 L489.4,579.1 L484.7,575.9 L476.9,579.1 L475.3,573.6 L483.1,572.8 L487.8,569.7Z"/>
<path fill="#cccccc" d="M704.7,359.1 L709.4,358.3 L710.2,363.0 L705.5,363.8Z M713.3,390.3 L717.2,389.5 L718.0,393.4 L714.1,394.2Z M709.4,401.2 L714.1,402.0 L713.3,405.2 L709.4,405.2Z M636.6,410.6 L642.8,407.5 L650.6,409.8 L660.0,413.8 L669.4,418.4 L675.6,423.1 L683.4,426.2 L685.0,429.4 L678.8,429.4 L669.4,426.2 L660.0,421.6 L653.8,418.4 L647.5,415.3 L641.2,413.8 L637.3,413.0Z M669.4,404.4 L675.6,405.2 L680.3,409.8 L675.6,411.4 L670.2,408.3Z M669.4,418.4 L674.1,418.4 L674.8,422.3 L670.2,423.1Z M722.5,398.1 L731.9,396.6 L735.0,402.8 L727.2,405.9Z M569.4,487.2 L577.2,484.1 L583.4,485.6 L586.6,490.3 L581.9,495.0 L574.1,496.6 L567.8,491.9Z M600.6,493.4 L606.9,490.3 L614.7,495.0 L619.4,501.2 L613.1,504.4 L605.3,502.8 L599.8,498.9Z M560.0,507.5 L572.5,510.6 L581.9,515.3 L588.1,518.4 L591.2,524.7 L588.1,530.9 L580.3,532.5 L577.2,537.2 L569.4,535.6 L563.1,529.4 L560.0,527.8Z M619.4,504.4 L628.8,504.4 L630.3,510.6 L625.6,513.8 L620.2,510.6Z M647.5,515.3 L660.0,513.8 L672.5,516.1 L674.8,521.6 L669.4,524.7 L660.0,521.6 L652.2,520.0Z M669.4,529.4 L678.8,526.2 L688.1,529.4 L692.8,535.6 L689.7,541.9 L681.9,545.0 L672.5,545.0 L669.4,535.6Z M611.6,532.5 L619.4,529.4 L625.6,526.2 L628.8,530.9 L622.5,535.6 L616.2,541.9 L611.6,545.0 L608.4,540.3Z M653.8,532.5 L661.6,530.9 L667.8,535.6 L666.2,545.0 L655.3,545.0 L652.2,538.8Z M722.5,524.7 L731.9,523.1 L738.1,527.8 L731.9,530.9 L724.1,529.4Z M740.6,589.7 L752.3,589.4 L750.8,594.4 L745.3,595.9 L741.4,592.8Z M698.8,541.6 L706.6,540.0 L711.2,544.7 L705.0,547.8 L699.5,546.2Z M717.5,540.0 L730.0,540.0 L730.0,547.8 L722.2,546.2Z M660.0,715.6 L666.2,716.4 L667.8,718.8 L661.6,718.0Z M540.0,490.0 L740.0,490.0 L740.0,640.0 L540.0,640.0Z"/>
<path fill="#ffffff" d="M359.7,588.4 L367.5,586.1 L375.3,591.6 L369.1,593.1 L362.8,591.6Z M362.8,594.7 L375.3,595.5 L378.4,598.6 L367.5,598.6Z M403.4,568.1 L408.9,567.3 L409.7,569.7 L404.2,570.5Z M387.8,591.6 L392.5,590.8 L393.3,593.9 L388.6,593.9Z"/>
<path fill="#e67f7f" d="M771.1,478.0 L775.0,477.5 L778.1,481.1 L773.4,481.1Z M778.1,487.3 L782.8,485.8 L783.6,490.5 L779.7,491.2Z M728.1,567.8 L731.2,564.7 L733.6,567.8 L730.5,570.2Z M431.6,638.4 L439.4,637.7 L445.6,633.8 L450.3,636.9 L445.6,641.6 L439.4,643.1 L433.1,640.8Z M459.7,632.2 L467.5,632.2 L465.9,635.3 L460.5,634.5Z M566.6,490.0 L583.8,490.0 L586.9,496.2 L593.1,499.4 L599.4,504.1 L605.6,505.6 L613.4,504.1 L621.2,507.2 L624.4,513.4 L630.6,511.9 L633.8,505.6 L640.0,504.1 L646.2,507.2 L649.4,511.9 L643.1,516.6 L640.0,521.2 L647.8,525.9 L652.5,532.2 L649.4,536.9 L643.1,538.4 L636.9,541.6 L632.2,544.7 L627.5,543.1 L622.8,540.0 L618.1,543.1 L613.4,541.6 L610.3,535.3 L607.2,529.1 L602.5,525.9 L599.4,530.6 L594.7,535.3 L590.0,536.9 L586.9,533.8 L588.4,527.5 L585.3,521.2 L588.4,515.0 L591.6,508.8 L586.9,504.1 L580.6,499.4 L574.4,496.2 L568.1,494.7Z M540.0,540.0 L546.2,536.9 L554.1,540.0 L555.6,544.7 L549.4,547.8 L543.1,547.0 L540.0,547.8Z M571.2,547.8 L577.5,544.7 L586.9,543.1 L593.1,546.2 L591.6,552.5 L585.3,555.6 L579.1,552.5 L572.8,551.7Z M572.8,518.1 L580.6,516.6 L586.9,521.2 L583.8,527.5 L575.9,525.9Z M627.5,565.0 L636.9,563.4 L643.1,568.1 L649.4,565.0 L655.6,568.1 L658.8,574.4 L655.6,580.6 L649.4,577.5 L646.2,583.8 L640.0,586.9 L633.8,583.8 L630.6,575.9 L626.7,569.7Z M633.8,588.4 L640.0,590.0 L641.6,593.1 L635.3,592.3Z M661.9,527.5 L669.7,529.1 L674.4,533.8 L677.5,541.6 L675.9,552.5 L672.8,563.4 L669.7,571.2 L665.0,572.8 L663.4,558.8 L661.9,549.4 L658.8,541.6 L655.6,535.3Z M680.6,513.4 L690.0,511.9 L696.2,516.6 L696.2,536.9 L690.0,533.8 L683.8,529.1 L677.5,521.2Z M674.4,549.4 L683.8,547.8 L690.0,552.5 L686.9,560.3 L680.6,563.4 L677.5,571.2 L674.4,577.5 L669.7,583.8 L665.0,585.3 L666.6,577.5 L671.2,568.1 L672.8,558.8Z M700.9,516.6 L711.9,513.4 L724.4,515.0 L740.0,513.4 L740.0,525.9 L732.2,529.1 L724.4,525.9 L718.1,530.6 L724.4,536.9 L740.0,535.3 L740.0,544.7 L727.5,546.2 L718.1,544.7 L711.9,540.0 L705.6,543.1 L702.5,536.9 L699.4,529.1 L702.5,522.8Z M643.1,510.3 L658.8,511.9 L669.7,516.6 L675.9,521.2 L669.7,522.8 L661.9,521.2 L652.5,519.7 L646.2,516.6Z M693.1,591.6 L740.0,590.0 L740.0,640.0 L644.7,640.0 L647.8,633.8 L652.5,630.6 L658.8,627.5 L655.6,621.2 L658.8,616.6 L665.0,615.0 L669.7,608.8 L675.9,604.1 L683.8,600.9 L690.0,597.8Z M702.5,493.1 L711.9,490.0 L727.5,490.0 L724.4,496.2 L715.0,499.4 L705.6,497.8Z M597.5,490.0 L605.0,487.5 L612.5,490.0 L618.8,495.0 L625.0,498.8 L627.5,505.0 L622.5,507.5 L616.2,505.0 L610.0,502.5 L602.5,505.0 L597.5,500.0 L593.8,495.0Z M633.8,495.0 L640.0,493.8 L642.5,498.8 L647.5,505.0 L650.0,510.0 L645.0,512.5 L640.0,510.0 L635.0,505.0 L632.5,500.0Z"/>
<path fill="#0000ff" d="M691.6,563.4 L697.8,558.8 L705.6,558.0 L711.9,560.3 L718.1,561.9 L724.4,569.7 L732.2,574.4 L740.0,575.9 L740.0,586.9 L702.5,590.0 L700.9,583.8 L705.6,579.1 L711.9,574.4 L713.4,569.7 L705.6,568.1 L697.8,568.1Z M647.8,607.2 L652.5,604.1 L660.3,601.7 L658.8,605.6 L652.5,608.8 L647.8,609.5Z M371.2,579.4 L386.2,583.8 L383.8,600.0 L377.5,598.1 L375.0,592.5 L371.2,588.8 L367.5,586.2 L368.8,582.5Z"/>
<path fill="#ffffff" d="M575.2,617.3 L582.2,615.0 L585.3,617.3 L580.6,622.0 L575.9,620.5Z M483.8,624.2 L489.6,628.5 L498.3,630.0 L507.1,628.5 L512.9,630.0 L510.0,635.8 L504.2,638.8 L501.3,644.6 L505.6,647.5 L510.0,650.4 L515.8,653.3 L521.7,654.8 L527.5,653.3 L533.3,654.8 L539.2,657.7 L542.1,659.2 L533.3,660.6 L527.5,657.7 L521.7,659.2 L515.8,662.1 L510.0,660.6 L512.9,665.0 L508.5,667.9 L502.7,672.3 L495.4,670.8 L488.1,667.9 L485.2,662.1 L486.7,654.8 L487.4,641.7 L482.3,632.9Z M518.8,641.7 L524.6,638.8 L527.5,641.7 L523.1,644.6Z M527.5,643.1 L536.3,637.3 L542.1,640.2 L545.0,644.6 L539.2,647.5 L533.3,646.0Z M475.0,589.2 L483.8,593.5 L489.6,597.9 L495.4,596.5 L504.2,597.9 L502.7,603.8 L495.4,606.7 L488.1,608.1 L475.0,607.4Z M480.0,525.0 L487.5,521.3 L498.8,517.5 L510.0,513.8 L517.5,511.9 L525.0,513.8 L521.3,521.3 L513.8,525.0 L517.5,532.5 L523.1,540.0 L517.5,543.8 L506.3,540.0 L495.0,536.3 L485.6,540.0 L480.0,536.3Z M446.3,502.5 L457.5,504.4 L461.3,513.8 L457.5,521.3 L450.0,525.0 L442.5,517.5Z M442.5,540.0 L457.5,541.9 L468.8,551.3 L468.8,558.8 L461.3,558.8 L450.0,551.3 L442.5,545.6Z M682.5,365.0 L695.0,363.8 L698.8,375.0 L696.2,385.0 L700.0,392.5 L698.8,401.2 L691.2,402.5 L688.8,395.0 L693.8,388.8 L690.0,380.0 L683.8,372.5Z M665.0,360.0 L671.2,360.0 L673.8,367.5 L677.5,375.0 L675.0,377.5 L670.0,371.2 L666.2,365.0Z"/>
<path fill="#cccccc" d="M489.6,638.8 L495.4,635.8 L501.3,638.8 L498.3,643.1 L491.0,643.9Z M492.5,656.3 L501.3,654.8 L508.5,656.3 L504.2,660.6 L495.4,662.1Z M358.8,583.8 L366.2,583.1 L373.8,586.2 L377.5,590.0 L376.2,592.5 L370.0,591.2 L363.8,588.8Z"/>
</g>
<path fill="none" stroke="#000" stroke-width="1.15" stroke-linejoin="round" d="M538.3,245.0 L537.5,254.4 L535.2,261.4 L537.5,263.8 L539.8,268.4 L540.6,273.9 L541.4,268.4 L550.8,269.2 L553.9,284.1 L556.2,290.3 L555.5,296.6 L556.2,303.6 L551.6,304.4 L571.9,299.7 L579.7,305.2 L591.4,310.6 L600.0,320.0 M476.6,298.1 L481.2,293.4 L487.5,291.9 L493.8,287.2 L498.4,282.5 L496.9,287.2 L493.8,291.9 L487.5,295.0 L482.8,297.3 M407.8,265.3 L418.8,260.6 L420.3,266.9 L412.5,267.7Z M443.8,266.9 L448.4,255.9 L454.7,254.4 L453.1,262.2 L448.4,268.4Z M440.6,295.0 L451.6,287.2 L462.5,266.9 L465.6,270.0 L457.8,287.2 L446.9,293.4Z M413.3,313.8 L417.2,309.1 L423.4,312.2 L418.8,316.1Z M493.8,395.0 L492.2,379.4 L490.6,363.8 L487.5,352.8 L478.1,352.0 L471.9,360.6 L475.0,370.0 L481.2,385.6 L487.5,387.2 L489.1,395.0 M457.8,395.0 L456.2,385.6 L460.9,380.9 L459.4,370.0 L464.1,363.8 L462.5,354.4 L467.2,346.6 L462.5,345.0 L454.7,354.4 L450.0,362.2 L453.1,370.0 L451.6,379.4 L454.7,395.0 M484.4,352.8 L489.1,343.4 L490.6,346.6 L485.9,352.8Z M523.4,348.9 L528.1,343.4 L535.9,342.7 L532.8,345.8 L526.6,348.1Z M521.1,358.3 L525.0,357.5 L531.2,360.6 L530.5,363.0 L523.4,362.2Z M703.9,245.0 L705.0,249.7 L701.6,254.4 L702.3,259.8 L698.4,263.8 L695.6,273.1 L700.0,279.4 L709.4,284.8 L711.7,286.4 L716.4,295.0 L719.5,304.4 L720.6,313.8 L720.3,320.0 L716.4,330.9 L709.4,340.3 L700.0,346.6 L689.8,352.8 L692.2,357.5 L693.8,360.6 L697.7,361.4 L697.7,368.4 L699.2,376.2 L703.1,390.3 L706.2,395.0 M600.0,316.9 L604.7,326.2 L615.6,330.9 L625.0,335.6 L629.7,341.9 L639.1,341.9 L651.6,341.9 L660.9,345.0 L661.2,352.8 L660.2,360.6 L664.1,370.0 L663.3,376.2 L662.5,384.1 L670.3,395.0 M664.8,382.5 L673.4,380.6 L678.1,383.3 L680.5,388.4 L675.0,388.0 L667.2,384.8Z M739.1,315.6 L743.0,314.5 L748.4,318.4 L746.9,321.6 L741.4,319.2Z M757.0,337.2 L764.1,332.8 L768.8,333.3 L762.5,338.0Z M685.2,329.4 L688.3,316.9 L690.6,314.5 L688.3,323.1 L686.7,330.2 L689.8,326.2 L692.2,315.3 L694.5,316.9 L691.4,327.8 L693.8,323.1 L695.3,318.4 L693.8,326.2 M777.3,245.0 L779.7,251.2 L782.8,254.4 L779.7,262.2 L782.0,259.1 L787.5,255.9 L795.3,255.9 L800.0,262.2 M800.0,268.4 L795.3,272.3 M700.0,382.5 L704.7,388.8 L706.2,396.6 L702.3,402.8 L703.1,410.6 L701.6,415.3 M756.2,338.8 L762.5,332.5 L768.8,333.3 L764.1,338.0Z M762.5,432.5 L761.7,421.6 L764.1,413.8 L768.8,407.5 L775.0,405.2 L773.4,410.6 L768.8,416.9 L767.2,423.1 L764.1,429.4Z M763.3,427.8 L765.6,416.9 L769.5,411.4 L773.4,407.5 M787.5,455.2 L790.6,452.5 L795.0,454.1 L794.5,457.5 L790.6,458.8Z M750.0,463.8 L754.7,459.1 L759.4,457.5 L760.9,461.4 L768.8,463.0 L762.5,465.3 L754.7,466.9Z M801.6,438.8 L806.2,434.1 L809.4,429.4 L812.5,432.5 L815.6,437.2 L812.5,435.6 L809.4,432.5 M395.2,445.8 L405.3,447.3 L410.0,452.8 L411.6,457.5 L419.4,462.2 L425.6,463.0 L419.4,463.8 L413.1,459.1 L408.4,454.4 M428.8,484.1 L427.2,495.0 L428.8,504.4 L426.4,510.6 L420.9,515.3 L413.9,516.1 L420.9,518.4 L422.5,524.7 M467.8,395.0 L469.4,402.8 L467.8,413.8 L469.4,420.0 L474.1,420.8 L475.6,415.3 L472.5,409.1 L470.9,401.2 L471.7,395.0 M489.7,395.0 L492.8,399.7 L489.7,404.4 L487.3,412.2 L488.1,420.0 L492.8,420.8 L495.2,415.3 L495.9,409.1 M506.1,449.7 L507.7,440.3 L512.3,434.1 L514.7,432.5 L513.9,438.8 L517.8,441.9 L519.4,446.6 L514.7,448.9 L511.6,441.9 L510.0,448.1 L512.3,451.2 L508.4,449.7 M533.4,426.2 L539.7,428.6 L547.5,425.5 L553.0,423.9 L549.1,427.8 L549.8,431.7 L542.8,430.2 L538.1,430.9 M522.5,455.9 L528.8,457.5 L531.9,462.2 L538.1,465.3 L535.0,462.2 L530.3,459.1 M669.4,395.0 L672.5,399.7 L680.3,407.5 L685.0,415.3 L683.4,416.1 L688.1,415.3 L692.8,412.2 L695.9,409.1 L700.6,410.6 L703.8,415.3 L702.2,407.5 L705.3,401.2 L706.9,395.0 M581.1,441.9 L583.4,436.4 L588.1,434.1 L592.0,436.4 L593.6,441.1 L592.0,446.6 L592.0,451.2 L588.1,449.7 L583.4,448.9 L581.1,445.8Z M560.0,480.9 L567.8,477.0 L575.6,468.4 L580.3,469.2 L585.0,463.8 L588.1,461.4 L591.2,458.3 L600.6,462.2 L612.3,463.3 L616.2,476.2 L625.6,480.2 L631.9,480.2 L630.3,488.8 L635.0,491.9 L633.4,501.2 L636.6,504.4 M560.0,502.8 L569.4,498.1 L580.3,495.0 L585.0,491.9 L589.7,488.8 L594.4,488.0 L589.7,491.1 L585.8,496.6 L588.1,499.7 L593.6,498.9 L599.1,504.4 L602.2,506.7 L611.6,503.6 L622.5,502.0 L630.3,501.2 L635.0,502.8 L638.1,507.5 L642.8,511.4 M588.1,545.0 L593.6,532.5 L600.6,520.0 L603.0,518.4 L599.8,527.0 L606.9,521.6 L605.3,527.0 L611.6,530.2 M611.6,529.4 L606.9,524.7 L610.0,521.6 L619.4,516.9 L628.8,515.3 L635.0,512.2 L642.8,511.4 L644.4,515.3 L635.0,518.4 L630.3,520.0 L627.2,527.8 L622.5,530.9 L620.9,538.8 L613.1,541.9 L611.6,545.0 M642.8,511.4 L650.6,513.8 L660.0,514.5 L672.5,513.8 L678.8,515.3 L685.0,520.0 L689.7,524.7 L692.8,530.9 L697.5,535.6 L699.8,537.2 L695.9,541.9 L692.8,545.0 M653.8,518.4 L661.6,516.9 L667.8,515.3 L674.8,516.9 L672.5,524.7 L669.4,523.1 L667.8,518.4 L663.1,520.0 L660.0,521.6Z M674.1,529.4 L678.8,535.6 L683.4,540.3 L685.0,545.0 M674.1,529.4 L677.2,530.9 L681.9,537.2 L686.6,541.9 M633.4,516.9 L641.2,520.0 L647.5,524.7 L650.6,530.9 L652.2,545.0 M691.2,460.6 L693.6,463.8 L697.5,463.8 L702.2,463.8 L701.4,467.7 L699.1,464.5 L694.4,465.3 L691.2,463.8Z M750.6,465.3 L751.4,460.6 L756.9,457.5 L760.0,458.3 M760.0,462.2 L753.8,463.8 L750.6,465.3 M760.0,530.9 L753.8,535.6 L747.5,541.9 L744.4,545.0 M773.4,520.2 L778.1,513.1 L784.4,503.8 L790.6,497.5 L798.4,491.2 L806.2,488.1 L812.5,480.3 L815.6,472.5 L821.9,460.0 M769.5,517.8 L775.0,517.8 L781.2,510.0 L785.2,502.2 L793.8,495.2 L801.6,489.7 L809.4,483.4 L814.1,475.6 L817.2,469.4 L825.0,460.0 M704.7,559.2 L715.6,553.8 L729.7,549.8 L737.5,546.7 L746.9,544.4 L753.1,537.3 L762.5,529.5 L771.9,525.6 M710.9,560.8 L721.9,561.6 L734.4,563.9 L742.2,561.6 L746.9,556.9 L750.0,550.6 L748.4,548.3 L751.6,544.4 L759.4,535.0 L768.8,527.2 L773.4,525.6 M704.7,559.2 L701.6,563.9 L703.9,569.4 L710.9,567.8 L713.3,571.7 L710.9,577.2 L704.7,581.9 L700.0,583.4 M729.7,549.8 L735.9,547.5 L739.1,550.6 L737.5,547.5 M787.5,602.2 L790.6,597.5 L801.6,594.4 L815.6,591.2 L821.9,585.0 M786.7,524.8 L787.5,533.4 L785.9,538.1 M825.0,560.0 L823.4,569.4 L829.7,575.6 M825.0,557.7 L828.1,549.1 L832.8,542.8 L835.9,538.1 L837.5,536.6 L845.3,530.3 L846.9,522.5 L850.0,527.2 L856.2,522.5 L859.4,524.1 L865.6,517.8 L870.3,513.1 L867.2,508.4 L862.5,506.9 M597.2,540.0 L592.5,549.4 L590.2,563.4 L589.4,579.1 L592.5,591.6 L595.6,597.0 L601.9,595.5 L605.0,593.9 L609.7,586.9 L612.0,575.9 L611.2,563.4 L608.9,549.4 L611.2,540.0 M651.9,540.0 L650.3,549.4 L644.8,554.8 L644.1,558.8 L648.8,561.1 L653.4,554.1 L659.7,552.5 L662.8,560.3 L664.4,571.2 L662.0,580.6 L658.1,585.3 L655.0,591.6 L656.6,596.2 M680.0,540.0 L675.3,549.4 L670.6,560.3 L667.5,569.7 L664.4,572.0 M655.0,586.9 L659.7,583.8 L664.4,584.5 L662.8,588.4 L656.6,590.0Z M658.1,591.6 L665.9,590.0 L673.8,585.3 L680.0,580.6 L687.8,579.8 L695.6,579.1 L701.9,576.7 L709.7,573.6 M655.0,596.2 L662.8,602.5 L670.6,600.2 L678.4,596.2 L686.2,591.6 L692.5,588.4 L700.3,583.8 L706.6,579.1 L712.0,574.4 M270.6,123.6 L280.0,124.6 L280.9,129.3 L277.2,133.0 L278.1,138.6 L275.3,144.3 L270.6,141.4 M340.9,153.6 L343.8,158.3 L349.4,157.4 L355.0,162.1 L358.8,158.3 L364.4,154.6 L370.0,155.5 L372.8,148.0 L370.0,142.4 L368.1,134.9 L373.8,140.5 L377.5,148.0 L381.3,155.5 L388.8,159.3 L396.3,158.3 L403.8,153.6 L413.1,151.8 L420.6,154.6 L426.3,160.2 L418.8,158.3 L411.3,161.1 L403.8,160.2 L396.3,164.9 L388.8,168.6 L381.3,170.5 L375.6,169.6 L371.9,174.3 L364.4,172.4 L355.0,170.5 L349.4,166.8 L343.8,161.1Z M403.8,155.5 L415.0,153.6 L422.5,158.3 M407.5,158.3 L416.9,156.4 M409.4,133.0 L415.0,129.3 L420.6,133.9 L426.3,130.2 L428.1,133.9 L420.6,135.8 L413.1,134.9Z M430.0,134.9 L437.5,135.8 L441.3,132.1 L442.2,138.6 L447.8,139.6 L449.7,145.2 L445.9,147.1 L443.1,140.5 L437.5,137.7Z M485.3,172.4 L490.0,167.7 L499.4,166.8 L497.5,172.4 L492.8,180.8 L489.1,181.8 L486.3,177.1Z M496.6,187.4 L501.3,185.5 L504.1,191.1 L499.4,195.8 L495.6,192.1Z M452.5,206.1 L456.3,205.2 L460.0,209.9 L456.3,215.5 L453.4,218.3 L454.4,211.8Z M467.5,223.0 L471.3,217.4 L473.1,224.9 L470.3,228.6Z M488.1,238.0 L492.8,230.5 L497.5,224.9 L505.0,221.1 M492.8,230.5 L494.7,238.0 L492.8,242.7 M377.5,224.9 L385.0,221.1 L394.4,218.3 L399.1,215.5 L404.7,218.3 L407.5,223.0 L415.0,225.8 L424.4,230.5 L430.0,232.8 L422.5,230.5 L413.1,228.6 L403.8,227.7 L396.3,225.8 L388.8,226.8 L383.1,228.6 L379.4,230.5Z M366.3,221.1 L370.9,220.2 L372.8,225.8 L369.1,230.5 L366.3,226.8Z M407.5,264.3 L413.1,262.4 L419.7,261.4 L418.8,267.1 L411.3,267.1Z M380.3,281.1 L385.0,275.5 L387.8,269.9 L389.7,273.6 L392.5,279.3 L386.9,283.9 L384.1,288.6 L381.3,286.8Z M442.2,266.1 L447.8,256.8 L455.3,254.9 L452.5,262.4 L447.8,268.0Z M443.1,294.3 L450.6,283.0 L454.4,273.6 L460.0,268.0 L463.8,266.1 L460.9,273.6 L456.3,281.1 L452.5,288.6 L446.9,293.3Z M555.9,298.0 L555.9,295.1 L555.0,292.4 L554.0,290.0 L553.7,287.4 L553.9,284.8 L552.8,282.4 L553.0,279.8 L552.2,277.4 L551.0,275.2 L550.8,272.7 L549.9,270.4 L549.4,268.0 L546.9,268.2 L544.4,267.6 L541.9,268.0 L541.4,271.0 L540.0,273.6 L540.3,270.8 L540.9,268.0 L539.4,265.6 L537.7,263.2 L535.3,261.4 L536.7,259.3 L537.2,256.8 L537.9,254.3 L537.5,251.7 L538.1,249.3 L538.3,246.4 L539.1,243.6 L539.8,241.2 L540.1,238.6 L540.9,236.1 L541.9,233.5 L544.0,231.4 L544.7,228.6 L546.5,226.6 L547.4,223.9 L549.4,222.1 L550.8,219.9 L551.3,217.4 L552.8,215.2 L554.9,213.5 L556.9,211.8 L558.3,210.0 L559.7,208.2 L560.6,206.1 L562.0,204.2 L562.9,202.0 L565.1,200.7 L566.3,198.6 L568.3,196.9 L570.0,194.9 L572.7,193.6 L575.6,193.0 L578.7,192.0 L581.3,190.2 L582.5,187.7 L584.1,185.5 L584.2,183.1 L585.0,180.8 L587.3,180.0 L588.8,178.0 L589.7,175.7 L590.6,173.3 L594.4,172.4 L598.1,173.3 L600.9,172.3 L603.8,171.4 L605.2,169.2 L607.3,167.5 L609.4,165.8 L611.2,163.6 L612.4,161.1 L613.1,158.3 L613.9,156.1 L616.0,154.8 L616.9,152.7 L615.0,148.9 L612.4,149.3 L610.0,148.5 L607.5,148.0 L605.5,146.8 L603.9,145.0 L601.7,144.0 L600.0,142.4 L598.5,140.1 L596.4,138.5 L594.4,136.8 L591.6,136.1 L588.8,135.8 L591.2,136.6 L593.8,136.2 L596.3,136.8 L598.4,137.5 L600.2,138.7 L601.9,140.3 L603.8,141.4 L605.7,142.7 L607.4,144.2 L609.0,145.9 L611.0,147.1 L613.1,148.0 L615.3,147.2 L616.8,145.4 L618.8,144.3 L620.6,142.7 L621.5,140.4 L623.5,139.0 L624.4,136.8 L626.3,133.0 L624.8,130.7 L622.5,129.3 L620.6,127.4 L623.3,125.9 L626.3,125.5 L628.6,127.1 L631.0,128.6 L633.8,129.3 L636.6,130.6 L639.4,132.1 L641.4,130.9 L643.1,129.3 L641.3,125.5 L643.8,125.9 L646.3,125.5 L648.8,125.5 L651.7,125.0 L654.4,123.6 M558.8,165.8 L564.4,170.5 L570.0,174.3 L577.5,178.0 L584.1,181.8 M559.7,168.6 L570.0,178.9 L573.8,178.4 L579.4,180.8 M555.0,211.8 L560.6,203.3 L566.3,200.5 L562.5,206.1 L569.1,198.6 M540.0,161.1 L545.6,160.2 L553.1,164.9 L556.9,168.6 L551.3,168.6 L543.8,165.8Z M504.4,147.1 L511.9,148.0 L519.4,150.8 L525.9,148.9 L534.4,150.8 L533.4,153.6 L526.9,152.7 L523.1,155.5 L517.5,152.7 L510.0,149.9Z M515.6,184.6 L523.1,183.6 L524.1,193.9 L519.4,191.1 L516.6,188.3Z M495.0,167.7 L499.7,166.8 L497.8,174.3 L495.0,175.2 M496.9,187.4 L502.5,186.4 L503.4,193.0 L498.8,195.8 L495.9,192.1Z M495.0,224.9 L505.3,221.1 L500.6,224.9 L497.8,230.5 L495.0,232.4 M510.0,124.6 L517.5,125.5 L526.9,124.6 M624.4,136.8 L630.0,138.6 L634.7,149.9 L637.5,147.1 L645.0,152.7 L654.4,159.3 L660.0,164.9 L661.9,172.4 L667.5,173.3 L675.9,178.9 L667.5,184.6 L656.3,179.9 L654.4,174.3 L648.8,172.4 L645.0,176.1 L644.1,181.8 L637.5,189.3 L629.1,192.1 L627.2,181.8 L624.4,179.9 L615.0,182.7 L615.0,178.0 L622.5,172.4 L622.5,159.3 L624.4,148.0Z M644.1,208.0 L646.9,198.6 L656.3,193.9 L660.9,195.8 L656.3,203.3 L648.8,210.8Z M675.9,211.8 L677.8,206.1 L682.5,204.3 L684.4,209.9 L682.5,217.4 L678.8,220.2Z M689.1,183.6 L693.8,182.7 L698.4,186.4 L694.7,189.3Z M718.1,124.6 L719.8,126.5 L721.3,128.5 L722.2,131.0 L724.2,132.8 L725.6,134.9 L724.7,137.1 L724.3,139.5 L722.8,141.4 L720.5,142.8 L718.7,145.0 L716.3,146.1 L713.9,146.2 L711.6,146.2 L709.2,146.7 L706.9,146.1 L704.7,145.5 L702.3,145.7 L700.2,144.7 L698.0,144.1 L695.6,144.3 L694.1,146.9 L693.8,149.9 L692.5,151.8 L690.3,152.6 L689.1,154.6 L689.8,156.7 L690.2,158.9 L690.0,161.1 L691.7,162.8 L694.0,163.6 L695.7,165.2 L697.5,166.8 L700.2,167.8 L703.1,167.7 L705.4,166.8 L706.7,164.6 L708.4,163.0 L710.6,162.1 L712.8,160.2 L715.7,159.7 L718.1,158.3 L720.5,158.2 L722.8,158.7 L725.2,157.5 L727.5,158.3 L729.4,159.5 L731.0,161.1 L733.3,161.5 L735.0,163.0 M718.1,153.6 L722.8,158.3 L725.6,155.5 L729.4,160.2 L731.3,156.4 M735.0,197.7 L732.3,199.4 L729.4,200.5 L727.8,202.7 L725.6,204.3 L722.6,203.8 L720.0,202.4 L717.5,204.4 L714.4,205.2 L711.9,203.3 L710.6,200.5 L708.4,200.1 L706.1,200.6 L703.9,200.9 L701.6,199.8 L699.4,200.5 L697.1,202.0 L695.5,204.1 L693.8,206.1 L693.9,208.6 L695.2,210.8 L695.6,213.2 L696.6,215.5 L697.9,217.5 L699.4,219.3 L699.2,221.5 L698.8,223.7 L698.1,225.8 L696.8,227.9 L696.3,230.0 L696.6,232.4 L698.8,233.6 L701.3,234.3 L702.2,236.4 L701.9,238.8 L703.5,240.8 L702.8,243.3 L703.7,245.5 M790.7,124.8 L792.0,127.9 L794.3,129.0 L797.5,128.2 L800.2,129.5 L802.0,127.1 L804.8,128.0 L806.6,130.5 L806.3,127.5 L807.7,124.8 M766.9,124.8 L768.8,126.9 L770.3,129.3 L773.3,129.7 L773.7,132.7 L776.4,131.6 L778.2,133.9 L779.7,136.3 L781.6,138.4 L784.1,139.7 L787.1,139.3 L789.6,140.7 L790.2,143.2 L791.8,145.2 L795.2,146.3 L795.5,149.0 L797.5,150.9 L800.9,152.0 L800.6,154.5 L802.0,156.5 L803.2,159.9 L805.4,162.2 L806.9,164.3 L807.7,166.7 L806.9,168.9 L806.6,171.2 L808.8,174.6 L807.4,176.8 L806.6,179.2 L806.8,176.2 L805.0,174.3 L803.2,172.4 L800.9,174.6 L797.5,173.5 L795.2,170.1 L791.8,171.2 L789.6,167.8 L786.2,169.0 L783.9,165.6 L780.5,164.4 M769.2,165.6 L771.8,166.3 L774.8,164.2 L777.1,166.7 L778.2,169.4 L780.5,171.2 L783.9,172.4 L786.0,174.4 L787.3,176.9 L790.7,178.0 L793.0,179.8 L794.1,182.6 L797.5,183.7 L800.7,184.8 L800.9,188.2 L803.2,189.4 L803.5,192.2 L803.2,195.0 L800.5,196.6 L798.1,195.5 L795.7,193.8 L793.2,194.2 L790.7,193.9 L789.1,191.1 L785.9,193.3 L784.2,190.7 L782.1,189.7 L779.4,190.5 L776.6,190.9 L774.7,189.2 L772.2,189.1 L770.3,187.1 L767.8,187.0 L766.0,184.8 L763.5,184.8 L761.1,184.9 L758.6,185.3 L757.0,182.0 L754.5,182.6 L752.6,180.4 L750.0,179.4 L747.7,178.0 L744.6,176.8 L745.3,173.0 L743.1,171.2 L740.4,170.7 L739.3,168.3 L737.3,166.9 L735.8,165.0 L734.1,163.3 L732.0,161.6 L730.5,158.9 L728.3,157.4 L725.0,157.6 M769.2,165.6 L769.2,167.9 L772.1,169.8 L770.3,172.4 L770.8,175.0 L773.0,176.7 L773.7,179.2 L775.7,180.7 L778.1,182.0 L778.2,184.9 L779.4,187.1 M739.7,139.5 L745.4,138.4 L753.3,150.9 L747.7,152.0 L743.1,153.1 L739.7,147.5Z M725.0,203.0 L725.8,199.8 L729.8,201.3 L731.9,200.0 L732.9,197.3 L735.1,199.4 L738.7,198.5 L740.9,200.7 L742.7,202.8 L744.3,205.2 L747.7,206.4 L747.1,209.5 L749.9,210.9 L753.3,213.2 L753.6,215.9 L755.6,217.7 L759.0,218.8 L761.7,219.1 L764.4,218.8 L766.9,217.7 L768.9,215.9 L771.2,215.3 L773.7,216.6 L774.0,219.0 L774.3,221.3 L777.1,222.2 L776.1,224.4 L775.2,226.6 L774.8,229.0 L776.5,231.0 L778.8,232.7 L778.2,235.8 L778.8,238.0 L780.8,240.1 L778.3,242.7 L779.4,244.9 L781.7,246.6 L782.4,249.4 L783.9,251.7 L782.9,253.9 L781.2,255.8 L782.3,258.8 L780.5,260.7 L782.8,257.3 L784.8,254.5 L788.1,256.1 L790.7,255.1 L793.5,255.9 L795.9,257.0 L797.5,259.6 L798.4,262.2 L798.1,265.1 L799.8,267.5 L800.3,270.4 L799.1,272.2 L796.4,273.2 L797.4,271.1 L799.8,269.8 L798.2,266.2 L801.7,265.5 L802.0,263.0 L803.5,264.7 L804.4,266.7 L805.4,268.7 L808.1,267.2 L809.1,264.7 L810.0,262.1 L811.1,259.6 L812.5,257.8 L813.6,255.8 L816.2,254.6 L815.6,251.7 L817.6,253.5 L817.3,256.5 L818.0,259.0 L820.2,260.7 L819.2,258.5 L821.2,256.1 L821.3,253.8 L821.3,251.5 L820.7,249.3 L819.0,247.1 L820.6,245.1 L820.9,242.8 L822.1,240.7 L821.3,238.1 L820.1,236.0 L818.4,234.0 L819.4,231.3 L819.0,229.0 L819.6,226.4 L820.3,223.8 L823.3,221.9 L822.4,218.8 M822.4,218.8 L825.0,219.9 L825.0,222.9 L827.0,224.5 L829.7,226.3 L831.5,229.0 L829.2,230.8 L828.4,233.0 L829.2,235.8 L830.1,238.2 L833.3,237.9 L834.5,239.8 L836.0,241.5 L838.5,243.8 L838.3,247.1 L841.1,248.0 L843.1,246.6 L845.1,244.9 L844.5,247.1 L845.6,249.8 L843.0,251.6 L842.8,253.9 L844.9,252.6 L847.9,254.0 L849.6,251.7 L852.4,253.1 L851.9,256.2 L854.1,254.2 L856.4,256.2 L857.8,258.3 L857.5,260.7 L860.9,263.0 L863.4,262.6 L865.5,264.1 L866.5,267.4 L870.0,267.5 L870.3,270.9 L873.4,272.1 L871.8,273.6 L870.4,275.4 L868.8,276.9 L867.7,278.9 L868.0,281.9 L871.1,282.3 L874.5,283.4 L876.4,285.3 L876.8,287.9 L879.0,289.1 L881.3,290.2 L883.6,290.5 L885.9,290.2 L888.5,290.5 L890.4,292.5 L890.8,295.5 L893.5,296.9 L894.9,299.2 L892.6,301.0 L893.8,303.9 L892.7,306.0 L894.1,304.3 L896.4,303.2 L897.9,301.5 L897.8,298.6 L899.5,297.0 L901.5,298.5 L904.3,297.6 L906.2,299.2 L909.0,298.6 L911.0,300.1 L913.0,301.5 L914.7,299.1 L917.8,300.4 L919.1,297.1 L922.1,298.1 L924.8,298.6 L927.6,298.9 L930.0,300.4 L930.0,302.8 L928.9,304.9 L927.0,306.8 L923.6,305.7 L922.1,308.3 L920.8,310.4 L918.0,311.0 L917.2,313.6 L915.3,315.1 L914.0,317.2 L913.3,319.9 L911.5,321.5 L908.5,321.9 L909.0,324.4 L907.2,326.4 L907.2,328.8 L906.2,331.0 L905.8,328.1 L909.1,327.5 L907.9,324.3 L909.8,322.8 L913.5,322.5 L913.0,319.6 L914.1,317.1 L916.4,315.8 L920.0,315.7 L920.1,312.2 L922.1,310.6 L924.2,309.4 L926.7,309.9 L928.8,308.5 L931.2,308.3 L932.2,311.6 L935.8,311.2 L938.0,312.8 L937.7,315.1 L937.3,317.4 L936.8,319.6 L938.1,317.1 L941.3,316.8 L944.0,316.0 L944.8,312.8 L946.7,314.6 L949.9,312.6 L951.6,315.1 L953.0,317.4 L954.7,319.5 L956.1,321.9 L958.9,323.3 L957.7,326.8 L959.8,328.6 L960.6,331.0 L962.6,332.6 L962.9,335.0 M831.5,240.3 L832.8,242.1 L833.5,244.3 L834.7,246.1 L835.4,248.2 L836.8,250.0 L838.3,251.7 L839.4,253.9 L839.4,256.5 L841.6,258.2 L841.3,261.0 L842.8,263.0 L844.5,265.1 L845.2,267.8 L847.0,269.8 L848.5,272.1 L848.0,274.3 L848.5,276.6 L848.0,278.9 L848.7,281.1 L848.0,283.4 L848.2,285.7 L847.8,287.9 L848.5,290.2 L850.6,291.8 L852.4,293.6 L854.5,295.2 L856.4,297.0 L857.8,298.9 L859.3,300.9 L861.6,302.0 L863.2,303.8 L863.9,306.0 L862.5,308.3 L863.2,310.6 L863.3,312.8 L862.6,315.1 L862.4,317.4 L862.7,319.6 L863.2,321.9 L860.9,321.4 L858.7,321.9 L856.4,321.9 L854.0,322.0 L851.8,322.5 L849.6,323.5 L847.3,324.2 L845.2,325.6 L842.8,326.4 L840.7,324.7 L838.1,323.7 L836.0,321.9 L833.5,321.6 L831.6,320.0 L829.2,319.5 L827.0,318.5 M820.2,324.2 L823.4,324.1 L824.7,321.2 L827.0,319.6 L828.6,321.8 L828.9,324.9 L831.5,326.4 L833.3,328.5 L835.4,330.4 L836.0,333.2 L833.8,333.9 L832.0,336.5 L829.2,335.0 M847.3,324.2 L848.4,326.5 L849.8,328.5 L852.4,329.3 L854.1,331.0 L856.1,328.9 L858.9,331.6 L860.9,329.8 L863.0,331.2 L865.8,329.5 L868.1,330.1 L870.0,332.1 M926.6,124.8 L929.7,126.1 L930.0,129.3 L933.4,130.5 L936.3,131.4 L938.0,133.9 L940.3,134.1 L942.5,135.0 L943.4,138.6 L947.0,139.5 L949.4,139.5 L951.6,140.7 L953.9,140.7 L956.1,141.8 L958.4,142.8 L960.6,144.1 L963.8,143.3 L964.6,147.3 L967.4,147.5 L969.7,146.3 L970.1,143.4 L973.7,143.6 L974.2,140.7 L976.5,140.1 L979.1,140.1 L981.0,138.4 L979.8,135.5 L981.1,133.4 L983.3,131.6 L985.4,134.0 L985.5,137.3 L987.8,139.5 L991.2,138.4 L992.0,141.4 L994.6,142.9 L997.3,141.1 L999.1,138.4 L1001.5,140.2 L1000.3,142.9 L1001.5,140.8 L1000.3,138.0 L1003.6,136.5 L1003.7,134.1 L1003.7,131.6 L1004.4,134.1 L1005.9,136.1 L1004.2,133.4 L1007.3,131.7 L1007.1,129.3 L1006.0,126.7 L1008.2,124.8 L1010.0,126.9 L1007.6,129.4 L1010.6,131.4 L1007.8,134.0 L1010.3,136.0 L1009.3,138.4 L1008.4,140.8 L1005.9,141.8 L1004.1,143.4 L1002.6,145.2 L1001.3,147.4 L999.1,148.6 M738.6,316.2 L743.1,315.1 L748.8,318.5 L746.5,321.9 L740.9,320.8Z M876.3,370.3 L874.9,368.5 L873.4,366.9 L872.5,364.9 L871.6,362.8 L873.5,360.9 L874.1,358.0 L876.3,356.3 L872.5,357.2 L872.8,354.8 L873.4,352.5 L869.7,350.6 L868.8,353.7 L866.9,356.3 L867.9,358.5 L867.8,361.1 L868.3,363.5 L869.7,365.6 L869.7,368.1 L870.4,370.4 L870.7,372.7 L871.6,375.0 L870.1,377.8 L868.8,380.6 L867.3,378.1 L864.8,376.4 L863.1,374.1 L860.6,373.7 L858.2,372.5 L855.6,372.2 L853.1,374.2 L850.0,375.0 L847.7,374.5 L845.3,374.1 L844.1,371.7 L844.0,369.0 L842.8,366.6 L840.9,364.6 L840.6,361.9 L840.7,364.8 L839.7,367.5 L837.2,366.8 L835.0,365.6 L834.2,363.4 L834.6,361.1 L835.5,358.9 L835.4,356.6 L835.0,354.4 L832.9,353.5 L830.9,352.3 L829.4,350.6 L827.3,349.0 L825.8,346.7 L823.4,345.4 L821.9,343.1 L823.1,341.0 L823.8,338.8 L823.1,336.3 L824.6,334.2 L824.7,331.9 L823.8,329.2 L822.1,326.9 L820.9,324.4 L822.9,322.8 L824.2,320.7 L825.6,318.8 L828.2,318.9 L830.7,319.5 L833.1,320.6 L835.2,321.8 L836.9,323.4 L838.5,325.2 L840.6,326.3 L843.0,325.2 L845.6,325.4 L848.2,325.1 L850.6,324.5 L853.1,324.0 L855.6,323.4 L858.2,323.9 L860.6,322.8 L863.1,322.5 L863.1,320.2 L862.3,318.0 L861.8,315.8 L863.1,313.4 L862.2,311.3 L862.5,308.5 L863.5,306.1 L865.0,303.8 L862.5,303.1 L860.6,301.2 L857.9,301.0 L855.6,300.0 M827.5,318.8 L836.9,331.9 L833.1,339.4 L831.3,326.3 M846.3,325.3 L848.1,337.5 L851.9,346.9 L850.0,333.8 L855.6,324.4 M855.6,323.4 L861.3,330.0 L868.8,332.8 L872.5,330.0 L866.9,334.7 L859.4,331.9 M848.1,343.1 L853.8,348.8 L850.0,344.1 M893.1,305.6 L896.9,301.9 L904.4,300.9 L895.0,304.7 M898.8,300.0 L906.3,305.6 L917.5,303.8 L928.8,301.9 L930.6,300.0 M928.8,308.4 L931.2,310.6 L934.4,311.3 L936.6,312.8 L938.1,315.0 L936.1,316.9 L936.3,319.7 L936.6,317.2 L938.6,315.8 L940.0,314.1 L942.7,313.2 L944.7,311.3 L947.5,310.9 L949.4,313.1 L951.7,315.5 L952.2,318.8 L955.0,316.9 L956.0,319.3 L955.8,322.0 L956.9,324.4 L955.2,326.2 L955.8,328.9 L955.4,331.3 L953.1,332.8 L954.9,330.8 L957.1,330.0 L959.7,330.0 L961.2,331.6 L963.5,332.4 L964.4,334.7 L963.9,337.2 L964.1,339.5 L966.3,341.3 L964.8,343.7 L963.8,346.3 L962.5,348.8 L961.6,351.3 L959.6,352.8 L957.2,354.1 L955.9,356.3 L953.8,357.6 L951.5,358.6 L949.4,360.0 L946.9,360.6 L945.0,362.0 L942.8,363.0 L941.9,365.6 L940.6,367.6 L939.7,369.8 L938.1,371.6 L936.3,373.1 L935.7,375.6 L935.2,378.2 L934.4,380.6 L932.3,382.0 L932.3,384.9 L929.2,385.5 L928.8,388.1 L927.8,390.9 L925.0,390.7 L922.6,392.3 L920.3,393.7 L917.5,393.8 L915.1,394.2 L913.5,396.8 L910.8,396.6 L908.0,396.4 L906.3,398.4 L904.0,398.5 L901.9,400.4 L899.6,400.1 L897.2,398.2 L895.0,399.4 L893.1,401.5 L890.3,399.7 L888.2,400.7 L886.2,402.3 L883.8,402.2 L881.2,402.2 L879.7,405.2 L877.2,404.9 L874.7,405.0 L872.5,405.9 L869.8,405.3 L867.5,406.0 L865.4,407.1 L863.8,409.7 L861.3,409.7 L859.3,411.7 L856.9,412.4 L854.2,411.8 L851.9,412.5 L851.4,414.8 L849.1,416.0 L848.4,418.2 L847.2,420.0 L848.3,422.5 L846.0,424.6 L845.6,426.9 L846.3,429.4 L843.4,430.0 L841.7,432.5 L839.3,433.7 L836.9,435.0 L834.3,436.2 L832.6,438.2 L832.3,441.7 L829.4,442.5 L827.4,444.5 L826.6,447.2 L824.1,448.9 L823.8,451.9 L821.1,453.5 L821.8,457.1 L819.0,458.6 L818.1,461.3 L816.7,463.3 L816.0,465.6 L815.9,468.0 L815.7,470.4 L814.4,472.5 L813.1,474.9 L814.0,477.5 L813.4,480.0 M928.8,308.4 L923.1,307.5 L917.5,311.3 M902.5,337.5 L908.1,331.9 L917.5,320.6 L925.0,312.2 L919.4,316.9 L913.8,324.4 L910.0,331.9 L906.3,336.6 L913.8,326.3 L923.1,313.1 M967.2,348.8 L969.2,347.0 L971.9,346.9 L972.5,349.2 L971.6,351.6 L971.0,353.9 L971.9,356.3 L971.1,358.7 L970.7,361.3 L970.0,363.8 L969.1,365.9 L970.1,368.4 L970.1,370.7 L969.3,372.9 L968.1,375.0 L969.7,377.3 L967.8,380.1 L969.1,382.5 L971.0,385.1 L970.0,388.1 L971.7,385.8 L971.9,382.8 L973.8,380.6 L975.1,378.6 L977.1,377.6 L979.4,376.9 L978.4,379.7 L977.5,382.5 L979.6,383.4 L981.5,384.6 L983.1,386.3 L985.8,386.1 L986.5,383.1 L988.8,382.5 L988.8,385.1 L991.6,386.0 L992.5,388.1 L993.4,385.8 L994.3,383.6 L996.6,382.4 L998.1,380.6 L1001.2,380.7 L1003.8,382.5 L1005.1,380.5 L1008.1,380.8 L1009.4,378.8 M967.2,348.8 L965.9,351.2 L963.9,352.9 L961.3,354.1 L959.7,356.3 L958.3,358.4 L958.6,360.9 L958.3,363.3 L957.8,365.6 L957.0,367.9 L958.2,370.4 L958.4,372.8 L956.9,375.0 L957.9,377.3 L958.7,379.6 L956.6,382.1 L957.8,384.4 L958.8,387.0 L956.4,389.0 L957.0,391.5 L955.9,393.8 L957.6,395.7 L958.0,398.0 L958.2,400.5 L959.3,402.6 L959.7,405.0 L959.0,407.6 L956.1,409.1 L956.8,412.4 L955.0,414.4 L952.4,414.5 L951.5,417.3 L949.4,418.1 L952.0,416.6 L955.0,416.3 L955.4,418.8 L953.6,420.7 L953.6,423.1 L952.7,425.3 L950.2,426.9 L950.3,429.4 L951.1,432.5 L953.1,435.0 L955.6,434.4 L957.5,432.4 L959.8,431.3 L962.5,431.3 L964.4,429.1 L967.1,429.6 L969.9,430.4 L971.9,428.4 L974.0,426.8 L976.5,426.7 L979.1,426.8 L981.3,425.6 L983.3,423.7 L986.4,423.7 L988.8,422.2 L990.6,420.0 L992.9,418.9 L995.8,419.3 L997.8,417.5 L1000.0,416.3 L1002.1,414.1 L1004.6,413.5 L1007.5,414.4 L1007.0,417.7 L1009.4,420.0 L1008.1,421.9 L1005.3,422.8 L1005.9,426.2 L1003.8,427.5 L1001.9,430.0 L999.1,431.3 L1001.7,430.0 L1005.0,431.5 L1007.5,429.4 L1008.0,426.4 L1009.4,423.8 M878.1,411.6 L887.5,409.7 L898.8,410.6 L910.0,413.4 L915.6,416.3 L906.3,419.1 L895.0,419.1 L885.6,415.3Z M820.0,480.0 L823.8,468.8 L829.4,459.4 L836.9,450.0 L846.3,440.6 L855.6,433.1 L865.0,428.4 L876.3,426.6 L883.8,428.4 L887.5,433.1 L886.6,438.8 L881.9,442.5 L872.5,448.1 L865.0,450.0 L857.5,453.8 L848.1,457.5 L839.7,460.3 M872.5,448.1 L880.0,451.9 L883.8,457.5 L881.9,465.0 L887.5,468.8 L891.3,476.3 L895.0,480.0 M895.0,468.8 L898.8,463.1 L900.6,470.6 L906.3,473.4 L913.8,470.6 L921.3,468.8 L925.9,466.9 L923.1,472.5 L917.5,475.3 L910.0,477.2 L902.5,476.3 L896.9,472.5Z M940.0,480.0 L934.4,472.5 L938.1,461.3 L941.9,451.9 L944.7,455.6 L945.6,463.1 L951.3,465.0 L955.0,463.1 L954.1,468.8 L949.4,474.4 L943.8,477.2 L940.0,480.0 M941.9,474.4 L947.5,466.9 L953.1,465.0 M816.6,395.6 L818.1,391.5 L821.9,390.0 L826.0,391.9 L827.5,396.0 L825.6,400.3 L821.9,401.6 L818.1,399.8Z M813.4,387.2 L817.2,392.8 L817.2,386.3 L820.0,390.9 M821.9,385.3 L822.8,390.0 M825.6,387.2 L824.1,391.5 M823.4,401.6 L824.1,408.8 M819.1,410.6 L820.0,418.1 L822.8,425.6 L825.6,427.5 L820.9,420.0 L819.6,414.4 M801.3,437.8 L806.9,431.3 L812.5,429.4 L815.3,436.9 L811.6,434.1 L805.0,436.9 M788.1,453.8 L791.9,452.3 L795.3,455.3 L793.8,458.4 L789.6,457.9Z M862.6,506.9 L865.0,510.6 L868.8,513.4 L872.5,506.9 L880.0,504.1 L887.5,497.5 L895.0,491.9 L898.8,488.1 L904.4,480.6 L906.3,478.8 M881.9,518.1 L887.5,510.6 L895.0,501.3 L902.5,493.8 L895.0,495.6 L906.3,493.8 L913.8,492.3 L906.3,497.5 L904.4,500.3 L900.6,496.6 M881.9,518.1 L882.3,520.4 L881.9,522.7 L883.3,524.8 L882.9,527.2 L883.8,529.4 L885.5,531.0 L887.5,532.2 L890.4,533.0 L893.1,534.1 L895.9,531.3 L898.8,529.4 L900.6,525.6 L902.5,523.8 L904.0,521.1 L904.4,518.1 L906.3,516.3 L907.2,512.5 L910.0,510.6 L913.8,509.7 L915.6,507.7 L917.5,505.9 L921.3,504.1 L923.5,502.5 L925.0,500.3 L928.8,498.4 L930.7,496.6 L932.5,494.7 L934.3,493.2 L936.3,491.9 L938.6,490.4 L940.0,488.1 L941.4,486.2 L943.4,485.1 L945.6,484.4 L942.8,483.6 L940.0,482.5 L937.1,482.0 L934.4,480.6 L931.4,480.2 L928.8,478.8 L926.6,480.7 L923.6,480.9 L921.3,482.5 L918.6,482.4 L916.2,483.4 L913.8,484.4 L911.8,483.0 L909.7,482.0 L908.1,480.2 L906.3,478.8 M934.4,478.8 L936.3,469.4 L938.1,460.0 M941.9,478.8 L947.5,471.3 L953.1,465.6 L955.9,463.8 L955.0,469.4 L949.4,475.0 L943.8,477.8 L941.9,478.8 M943.8,473.1 L947.5,466.6 L952.2,464.7 L948.4,471.3 L944.7,475.9 M895.0,471.3 L897.8,463.8 L900.6,469.4 L906.3,473.1 L913.8,471.3 L921.3,468.4 L925.9,467.5 L923.1,473.1 L917.5,476.9 L913.8,474.1 L906.3,476.9 L900.6,474.1Z M885.6,460.0 L881.9,465.6 L887.5,471.3 L891.3,478.8 L896.9,482.5 L902.5,478.8 L906.3,478.8 M786.3,608.1 L787.2,621.3 L782.5,632.5 L776.9,640.0 M276.2,736.2 L280.0,745.0 L290.0,757.5 L297.5,770.0 L300.0,785.0 L307.5,795.0 L318.8,806.2 L325.0,805.0 L332.5,795.0 L337.5,792.5 L350.0,796.2 L360.0,810.0 L365.0,822.5 L370.0,833.8 L375.0,845.0 L378.8,862.5 M318.8,806.2 L302.5,825.0 L302.5,850.0 L307.5,862.5 M271.2,846.2 L280.0,847.5 L285.0,852.5 L292.5,846.2 L301.2,848.8 M345.0,862.5 L352.5,857.5 L352.5,850.0 L360.0,842.5 L367.5,840.0 L370.0,845.0 M410.0,862.5 L409.2,860.1 L408.9,857.5 L408.8,855.0 L410.4,853.2 L411.8,851.2 L413.5,849.5 L415.0,847.5 L416.7,845.6 L419.3,844.9 L421.2,843.3 L422.8,841.2 L425.0,840.0 L426.8,838.4 L429.1,837.6 L430.9,836.2 L433.1,835.1 L435.0,833.8 L437.5,833.0 L439.9,832.1 L442.5,831.9 L445.0,831.2 L446.8,829.9 L449.2,829.6 L451.1,828.4 L452.8,826.9 L455.0,826.2 L456.7,824.5 L458.7,823.1 L460.6,821.6 L462.5,820.0 L461.4,818.0 L460.0,816.2 L462.6,816.7 L465.0,818.0 L467.5,818.8 L469.9,818.0 L472.6,818.7 L475.0,817.6 L477.5,817.5 L480.0,818.1 L482.5,817.6 L485.0,817.9 L487.5,817.5 L490.0,818.5 L492.6,819.1 L494.9,820.6 L497.5,821.2 L499.7,821.2 L501.9,822.0 L504.1,821.7 L506.2,822.5 L508.2,820.7 L510.0,818.8 L512.6,819.9 L515.0,821.3 L517.5,822.5 L519.9,824.5 L522.5,826.2 L524.5,828.1 L525.4,830.8 L527.5,832.5 L530.0,832.4 L532.5,831.5 L535.0,831.3 L537.5,831.2 L540.3,829.8 L542.5,827.5 L544.1,829.2 L546.2,830.5 L547.5,832.5 L549.6,833.4 L551.5,834.6 L552.9,836.5 L555.0,837.5 L557.0,835.7 L558.8,833.8 L557.0,832.4 L555.8,830.4 L554.0,829.2 L552.5,827.5 L553.7,825.1 L554.0,822.5 L555.0,820.0 L553.3,818.6 L551.2,817.5 L549.6,815.9 L547.5,815.0 L545.1,814.0 L542.5,813.3 L540.0,812.5 L542.2,812.8 L544.5,812.7 L546.8,813.2 L549.0,813.4 L551.2,813.8 L554.3,812.6 L557.5,812.5 L560.0,812.5 L562.6,812.4 L565.1,812.1 L567.5,811.2 L570.1,811.2 L572.5,812.3 L575.0,812.5 L576.3,810.2 L576.2,807.4 L577.5,805.0 L578.3,807.5 L579.3,810.0 L580.0,812.5 L582.5,813.3 L585.0,813.8 M352.5,862.5 L355.0,850.0 L362.5,843.8 L370.0,840.0 L372.5,847.5 L375.0,857.5 L376.2,862.5 M730.0,742.5 L725.0,747.5 L720.0,755.0 L717.5,760.0 L710.0,766.2 L705.0,770.0 L698.8,772.5 L695.0,777.5 L691.2,780.0 L688.8,787.5 L686.2,795.0 L685.0,802.5 L686.2,815.0 L690.0,827.5 L695.0,837.5 L700.0,847.5 L705.0,862.5 M697.5,845.0 L700.0,852.5 L702.5,850.0 M572.5,813.8 L575.0,812.5 L583.8,813.8 L590.0,811.2 L600.0,812.5 L610.0,815.0 L617.5,820.0 L621.2,826.2 L630.0,822.5 L637.5,818.8 L645.0,820.0 L650.0,825.0 L657.5,833.8 L662.5,837.5 L666.2,847.5 L667.5,860.0 L663.8,862.5 M338.1,439.7 L341.9,442.5 L347.5,440.6 L353.1,442.5 L358.8,439.7 L363.4,438.8 L362.5,447.2 L360.6,442.5 L355.0,443.4 L349.4,441.6 L343.8,443.4 L339.1,444.4 M738.1,640.0 L740.5,641.2 L742.3,643.1 L744.3,644.3 L746.5,645.2 L745.4,649.4 L742.8,652.5 L743.3,655.6 L745.3,656.9 L747.5,657.7 L749.5,659.0 L751.7,659.8 L753.9,660.5 L755.8,661.9 L757.9,665.0 L753.8,664.5 L751.2,663.5 L748.5,663.4 L751.2,665.2 L753.8,667.1 L755.9,668.5 L757.9,670.2 L759.5,673.3 L755.8,674.4 L753.4,672.6 L750.6,671.2 L752.5,672.5 L753.9,674.3 L755.8,675.4 L759.0,677.5 L756.3,677.9 L753.8,678.5 L749.6,677.5 L751.6,678.9 L753.8,680.1 L755.9,680.7 L757.9,681.7 L760.0,683.8 L764.2,683.8 L765.2,685.8 L764.2,688.4 M764.2,684.8 L767.3,693.1 L770.4,698.3 L774.1,703.0 M753.8,640.0 L755.8,644.2 L759.0,650.4 L762.1,655.6 L765.2,658.8 L764.2,662.9 L766.2,667.1 L764.2,671.2 L763.6,675.4 L765.2,677.5 L768.3,671.2 L770.4,666.0 L772.5,660.8 L774.6,655.6 L775.6,650.4 L773.5,645.2 L771.5,640.0 M764.2,688.4 L763.2,691.2 L762.6,694.2 L759.0,696.2 L757.1,698.3 L755.3,700.4 L757.9,701.5 L759.7,699.9 L761.6,698.3 L764.2,699.4 L767.3,700.4 L769.4,703.5 L770.4,706.7 L768.3,708.8 L766.5,710.1 L765.2,711.9 L762.1,710.8 L759.0,708.8 L756.9,711.9 L752.7,710.8 L755.6,712.0 L757.9,714.0 L758.8,716.1 L760.0,718.1 L764.2,719.2 L762.1,722.3 L757.9,721.2 L753.8,720.2 L755.5,721.6 L756.9,723.3 L753.8,725.4 L750.6,726.5 L749.4,728.3 L747.5,729.6 L745.3,731.0 L743.3,732.7 L742.0,734.9 L740.2,736.9 L738.1,740.0 L735.4,740.9 L732.7,741.6 L730.0,742.5 M776.9,640.0 L777.9,641.9 L775.8,641.9 L774.8,637.7 L771.7,636.7 L768.5,634.6 L767.0,631.5 L766.5,628.3 M765.9,632.5 L769.6,637.7 L771.5,640.0 M753.8,640.0 L752.4,638.8 L754.0,636.7 L755.5,634.6 L757.1,632.5 L758.6,634.6 L761.2,632.0 L760.9,634.4 L760.2,636.7 L759.7,640.0 M759.7,640.0 L759.2,641.9 L760.7,645.0 L759.7,648.1 L761.1,650.1 L762.3,652.3 L761.2,656.5 L764.4,658.5 L763.3,662.7 L766.5,663.8 M753.8,640.0 L753.4,641.9 L752.4,645.0 L755.0,648.1 L754.5,652.3 L755.6,654.4 L756.6,656.5 L756.0,660.6 L757.6,663.8 M829.7,575.6 L831.6,578.3 L834.2,579.9 L836.2,579.9 L838.2,581.0 L840.4,581.5 L839.9,578.9 L839.9,576.2 L837.3,574.2 L839.4,573.6 L839.6,576.6 L840.6,579.4 L840.4,581.5 L836.2,580.4 L832.1,581.5 L829.0,583.0 L825.8,585.1 L822.7,586.1 L820.1,583.5 L820.1,580.4 M783.1,610.1 L788.3,606.5 L794.6,602.3 L800.8,599.2 L807.1,596.6 L810.2,595.5 L807.1,598.6 L806.0,601.2 L800.8,603.3 L794.6,605.9 L788.3,609.1 L784.2,611.7Z"/>
<path fill="none" stroke="#000" stroke-width="1.35" stroke-linejoin="round" d="M467.2,245.0 L435.9,395.0 M591.4,310.6 L515.6,378.6 L512.5,395.0 M350.6,413.0 L360.0,416.1 L395.9,427.0 L429.5,434.8 L479.5,446.6 L505.3,452.0 L510.0,455.9 L522.5,460.6 L535.0,466.9 L544.4,470.0 L549.1,473.1 L555.3,473.9 L560.0,474.4 M396.7,427.8 L383.4,484.8 L376.4,501.2 L367.0,545.0 M383.4,484.8 L427.2,495.0 L478.0,505.2 M479.5,446.6 L480.0,457.5 L478.8,470.0 L479.5,482.5 L478.0,495.0 L478.0,505.2 L474.1,511.4 L478.0,513.8 L476.4,527.8 L474.1,545.0 M350.6,494.2 L360.0,496.6 L376.4,502.0 M436.6,395.0 L429.5,434.8 M512.3,395.0 L505.3,452.0 M560.0,480.9 L547.5,488.8 L536.6,496.6 L535.8,504.4 L530.3,510.6 L525.6,518.4 L528.0,526.2 L524.1,532.5 L525.6,538.8 L536.6,545.0 M695.9,409.1 L696.7,434.1 L697.5,463.8 L699.1,482.5 L700.6,491.9 L706.9,501.2 L713.9,506.2 M560.0,476.2 L588.1,471.6 L635.0,499.7 L636.6,507.5 L644.4,515.3 L655.3,520.0 L661.6,526.2 L663.9,535.6 L663.9,545.0 M560.0,502.0 L575.6,510.6 L588.1,518.4 L591.2,521.6 L593.6,530.9 L591.2,537.2 L588.9,543.4 M707.0,501.4 L709.4,503.8 L718.8,508.4 L728.1,510.0 L735.9,514.7 L740.6,519.4 L746.9,521.7 L753.1,520.2 L759.4,517.0 L765.6,515.9 L770.3,517.0 L773.4,520.2 M709.4,561.6 L742.2,555.3 L751.6,541.2 L760.9,531.1 L770.3,524.8 L773.4,525.6 M709.4,561.6 L712.5,569.4 L710.9,577.2 L703.1,583.4 L700.0,585.0 M702.3,590.0 L731.2,586.9 L764.1,585.0 L768.8,589.7 L770.3,594.4 L775.0,597.5 L787.5,602.2 M770.3,597.5 L768.8,610.0 M773.4,525.6 L785.2,524.1 L809.4,520.9 M785.2,524.1 L785.9,535.0 L785.2,544.4 L789.1,553.8 L790.6,567.8 L789.8,580.3 L790.6,597.5 L789.1,600.6 M809.4,520.9 L809.4,531.9 L803.1,538.1 L801.6,553.8 L800.8,566.2 M791.4,567.8 L800.8,566.2 L820.3,563.9 L825.0,560.0 M814.8,516.2 L820.3,547.5 L825.0,557.7 L825.0,560.0 M809.4,520.9 L809.4,517.0 L815.6,513.9 L823.4,499.1 L823.4,486.6 L828.1,475.6 L834.4,470.9 L839.1,466.2 L839.8,460.0 M834.4,470.9 L841.4,470.2 L849.2,473.3 L854.7,497.5 L860.9,502.2 L862.5,506.9 M790.6,581.1 L814.8,578.0 L820.3,578.8 M814.8,578.0 L815.6,591.2 M367.5,540.0 L358.9,573.6 M320.6,565.8 L330.0,568.1 L386.2,583.0 L381.6,601.7 M381.6,601.7 L423.8,608.8 L476.9,618.1 M383.9,600.2 L371.4,657.2 M320.6,645.5 L330.0,647.8 L355.8,655.6 L481.6,676.7 M367.5,540.0 L417.5,550.2 L442.5,554.8 L450.3,560.3 L459.7,560.3 L467.5,568.1 L470.6,575.9 L473.0,586.9 L474.5,599.4 L476.1,608.8 L478.4,618.1 L484.7,622.8 L481.6,629.1 L486.2,636.9 L483.9,665.0 L481.6,690.0 M473.8,540.0 L470.6,550.9 L467.5,568.1 M470.6,550.6 L530.0,555.6 M475.3,607.2 L530.0,612.7 M599.5,558.8 L599.5,569.7 M599.5,575.9 L599.5,583.0 M664.4,540.0 L665.9,554.1 L664.4,571.2 L662.0,582.2 L658.9,586.9 L656.6,593.9 L664.4,594.7 L675.3,588.4 L686.2,583.8 L698.8,579.8 L711.2,573.6 L714.4,568.9 M550.3,578.3 L590.2,581.4 M533.1,540.0 L539.4,546.2 L544.1,554.1 L545.6,566.6 L550.3,575.9 L555.0,583.8 L553.4,591.6 L544.1,599.4 L542.5,607.2 L545.6,611.9 L537.0,616.6 L534.7,624.4 L537.8,633.8 L544.1,643.1 L550.3,649.4 L548.8,660.3 L553.4,665.0 L559.7,674.4 L561.2,682.2 L563.6,684.5 M530.0,557.2 L543.3,559.5 M593.3,597.0 L592.8,602.5 M601.9,595.5 L631.6,596.6 L651.9,596.2 L656.6,593.9 M631.6,596.6 L631.6,600.9 M692.5,591.6 L693.0,602.5 M530.0,612.7 L537.0,616.2 M563.6,684.5 L561.2,692.3 M592.8,600.0 L592.0,628.1 L589.7,642.2 L591.2,650.0 L583.4,662.5 L581.9,670.3 M631.9,600.0 L631.6,646.9 M560.0,684.4 L563.1,687.5 L567.8,681.2 L574.8,682.8 L576.4,676.6 L581.9,673.4 L582.7,668.8 L589.7,667.2 L597.5,670.3 L603.8,665.6 L608.4,667.2 L613.1,663.3 L617.8,659.4 L622.5,653.9 L630.3,652.3 L631.6,646.9 L639.7,651.6 L645.9,654.7 L653.8,656.2 L660.0,653.9 L664.7,659.4 M664.7,659.4 L669.4,651.6 L675.6,648.4 L677.2,645.3 L683.4,640.6 L688.1,634.4 L691.2,625.0 L692.0,617.2 L692.8,615.6 M663.9,659.4 L666.2,665.6 L669.4,671.9 L672.5,676.6 L680.3,681.2 L685.0,679.7 L689.7,677.3 L697.5,675.8 L700.6,671.9 L703.8,665.6 L706.9,657.8 L713.1,654.7 L717.8,646.9 L725.6,637.5 L731.9,633.6 L735.0,641.4 L736.6,639.1 M672.5,676.6 L666.2,682.8 L660.0,689.1 L653.8,692.2 L647.5,693.8 M692.8,600.0 L693.6,632.8 L760.0,628.1 M709.2,633.1 L710.0,642.2 L717.8,635.2 L724.1,636.7 L726.4,632.8 L731.9,632.8 L735.0,640.6 M735.0,639.1 L739.7,642.2 L745.9,645.3 L747.5,648.4 L742.8,653.1 L744.4,656.2 L750.6,659.4 M560.0,693.8 L577.2,693.8 L581.9,692.2 L647.5,693.8 L678.8,694.5 L760.0,689.8 M678.8,694.5 L675.6,700.0 L669.4,703.1 L663.1,706.2 L656.9,709.4 L652.2,712.5 L644.4,715.6 L638.9,720.3 L638.1,724.2 M560.0,722.7 L638.1,724.5 L656.9,723.4 L667.8,721.1 L689.7,721.1 L693.6,726.6 L710.0,726.9 L730.3,743.0 M579.5,724.2 L575.6,750.0 M618.6,725.0 L622.5,750.0 M656.9,723.4 L653.8,729.7 L661.6,735.9 L666.2,742.2 L672.5,750.0 M560.0,673.4 L561.6,678.1 L560.0,684.4 M226.6,109.5 L236.0,116.6 L245.5,123.6 L255.0,130.4 L264.7,137.0 L274.5,143.4 L284.3,149.6 L294.2,155.7 L304.2,161.5 L314.3,167.2 L324.5,172.7 L334.7,178.0 L345.0,183.1 L355.3,188.0 L365.8,192.8 L376.3,197.3 L386.8,201.7 L397.4,205.9 L408.0,209.9 L418.7,213.7 L429.5,217.3 L440.3,220.8 L451.1,224.0 L462.0,227.1 L472.9,230.0 L483.8,232.7 L494.8,235.2 L505.8,237.5 L516.9,239.7 L527.9,241.6 L539.0,243.4 M309.5,164.5 L304.5,173.4 L299.5,182.3 L294.6,191.2 L289.7,200.0 L284.8,209.0 L279.9,217.9 L275.0,226.8 L270.2,235.7 L265.3,244.6 L260.5,253.6 L255.7,262.5 L250.9,271.5 M397.9,206.1 L391.5,222.7 L385.2,239.3 L378.9,255.8 L372.7,272.4 L366.5,289.0 L360.4,305.6 L354.3,322.2 L348.3,338.8 L342.3,355.5 L336.3,372.1 L330.4,388.7 L324.5,405.4 M471.3,230.5 L466.8,245.5 M876.3,370.3 L951.3,346.5 L955.9,356.3 M829.4,480.0 L833.1,472.5 L839.7,468.8 L839.7,460.3 M355.0,656.2 L353.8,665.0 L398.8,673.8 L392.5,710.0 M353.8,665.0 L333.8,748.8 L276.2,736.2 L271.2,738.8 M392.5,710.0 L394.3,711.4 L395.9,713.0 L397.8,714.3 L400.0,715.0 L402.1,716.3 L403.8,717.9 L405.0,720.0 L407.3,721.5 L410.2,721.4 L412.5,722.7 L415.0,723.8 L417.5,725.0 L420.1,726.0 L422.5,727.5 L424.9,728.6 L427.7,728.6 L430.0,730.0 L432.7,730.3 L434.9,732.0 L437.5,732.5 L440.2,732.9 L442.6,734.1 L445.1,735.0 L447.5,736.2 L450.0,736.0 L452.5,735.2 L455.1,735.6 L457.5,734.5 L460.4,734.7 L463.3,733.8 L466.2,734.5 L468.6,735.7 L470.5,737.6 L473.2,738.2 L475.5,739.5 L477.5,741.2 L480.1,741.6 L482.5,742.5 M482.5,676.2 L481.2,687.5 L477.5,741.2 M481.2,686.2 L550.0,693.8 L547.5,702.5 L556.2,702.5 L560.0,692.5 M482.5,742.5 L481.2,753.8 L480.0,775.0 L486.2,790.0 L482.5,802.5 L480.0,812.5 L477.5,817.5 M482.5,754.2 L527.5,758.2 M560.0,692.5 L559.1,694.5 L558.1,696.6 L556.6,698.3 L556.0,700.5 L555.0,702.5 L553.7,704.3 L553.2,706.6 L551.6,708.3 L550.6,710.3 L550.0,712.5 L548.4,714.4 L547.8,716.8 L546.1,718.7 L545.4,721.1 L543.3,722.7 L542.5,725.0 L541.1,727.0 L539.6,728.9 L538.7,731.2 L537.3,733.2 L536.3,735.5 L535.0,737.5 L533.7,739.5 L532.5,741.5 L530.9,743.3 L530.1,745.6 L528.8,747.5 L528.1,750.1 L528.4,752.9 L527.7,755.5 L527.5,758.2 L528.0,760.6 L528.0,763.0 L529.1,765.3 L529.9,767.6 L530.0,770.0 L529.3,772.2 L527.7,773.9 L526.7,775.9 L525.8,777.9 L525.0,780.0 L524.1,782.1 L522.9,784.0 L520.8,785.4 L520.0,787.5 L519.5,789.7 L518.8,791.9 L518.0,794.0 L517.5,796.2 L519.8,796.9 L522.1,796.7 L524.4,796.9 L526.8,796.6 L529.0,797.5 L531.3,797.5 L533.6,797.7 L535.9,798.2 L538.3,797.7 L540.6,798.1 L542.9,797.9 L545.2,799.0 L547.5,798.8 L547.2,801.9 L547.5,805.0 L548.5,807.2 L549.8,809.2 L550.0,811.7 L551.2,813.8 M548.8,721.2 L585.0,723.0 M578.8,723.0 L571.2,780.0 L570.0,811.2 M560.0,693.2 L585.0,694.2 M575.5,750.0 L573.8,760.0 M622.5,750.0 L625.0,765.0 L628.8,776.2 L625.0,785.0 L626.2,797.5 L628.8,806.2 L673.8,810.0 L675.0,813.8 L676.2,805.0 L685.0,806.2 M570.0,800.5 L583.8,801.2 L626.2,801.2 M583.8,801.2 L586.2,810.0 L582.5,815.0 M672.5,750.0 L675.0,753.8 L685.0,762.5 L688.8,772.5 L691.2,780.0 M268.8,384.8 L293.1,393.8 L324.1,405.0 L351.3,413.1 M270.6,337.5 L273.4,343.1 L276.3,350.6 L278.1,358.1 L277.2,365.6 L274.4,369.4 L273.4,376.9 L276.3,382.5 L277.2,387.2 M285.6,474.4 L377.5,501.6 M268.8,477.8 L276.3,480.0 L279.1,478.1 L281.9,482.8 L285.6,474.4 L272.5,510.0 M272.5,510.1 L268.8,520.0 M268.8,550.4 L288.4,557.5 L321.3,565.9 M288.4,557.5 L268.8,619.4 M268.8,632.1 L321.3,645.6 M766.2,640.0 L766.2,651.5 L774.6,650.4 M768.8,610.0 L769.6,611.7 L772.7,614.8 L775.8,617.9 L777.4,619.5 L774.8,622.1 L771.7,624.2 L768.5,626.2 L766.5,628.3 L765.9,632.5 M760.0,628.1 L763.3,628.5 L765.9,652.3 M763.3,628.5 L765.4,626.8 L766.5,628.3 M750.6,659.4 L756.0,662.7 L758.1,666.9 L754.0,665.8 L748.8,662.7"/>
<path fill="none" stroke="#000" stroke-width="2.3" stroke-dasharray="2.3 1.97" d="M-919.0,190.1 L-912.8,199.1 L-906.6,208.1 L-900.4,216.9 L-894.1,225.7 L-887.9,234.5 L-881.5,243.2 L-875.2,251.8 L-868.8,260.4 L-862.4,268.8 L-856.0,277.3 L-849.6,285.6 L-843.1,293.9 L-836.6,302.2 L-830.1,310.3 L-823.5,318.5 L-816.9,326.5 L-810.3,334.5 L-803.7,342.4 L-797.1,350.3 L-790.4,358.1 L-783.7,365.8 L-777.0,373.5 L-770.3,381.1 L-763.6,388.7 L-756.8,396.2 L-750.0,403.6 L-743.2,411.0 L-736.4,418.3 L-729.6,425.6 L-722.7,432.8 L-715.8,440.0 L-709.0,447.0 L-702.0,454.1 L-695.1,461.1 L-688.2,468.0 L-681.2,474.8 L-674.3,481.7 L-667.3,488.4 L-660.3,495.1 L-653.3,501.8 L-646.3,508.3 L-639.2,514.9 L-632.2,521.4 L-625.1,527.8 L-618.0,534.2 L-610.9,540.5 L-603.8,546.8 L-596.7,553.0 L-589.6,559.1 L-582.4,565.2 L-575.3,571.3 L-568.1,577.3 L-561.0,583.3 L-553.8,589.2 L-546.6,595.0 L-539.4,600.8 L-532.2,606.6 L-525.0,612.3 L-517.7,617.9 L-510.5,623.5 L-503.3,629.1 L-496.0,634.6 L-488.8,640.0 L-481.5,645.4 L-474.2,650.8 L-466.9,656.1 L-459.6,661.4 L-452.3,666.6 L-445.0,671.8 L-437.7,676.9 L-430.4,682.0 L-423.1,687.0 L-415.7,692.0 L-408.4,696.9 L-401.0,701.8 L-393.7,706.6 L-386.3,711.4 L-379.0,716.2 L-371.6,720.9 L-364.2,725.6 L-356.8,730.2 L-349.5,734.8 L-342.1,739.3 L-334.7,743.8 L-327.3,748.2 L-319.9,752.6 L-312.5,757.0 L-305.0,761.3 L-297.6,765.6 L-290.2,769.8 L-282.8,774.0 L-275.4,778.2 L-267.9,782.3 L-260.5,786.3 L-253.1,790.3 L-245.6,794.3 L-238.2,798.3 L-230.7,802.2 L-223.3,806.0 L-215.8,809.8 L-208.4,813.6 L-200.9,817.4 L-193.4,821.1 L-186.0,824.7 L-178.5,828.3 L-171.0,831.9 L-163.6,835.4 L-156.1,838.9 L-148.6,842.4 L-141.2,845.8 L-133.7,849.2 L-126.2,852.6 L-118.7,855.9 L-111.2,859.1 L-103.7,862.4 L-96.2,865.6 L-88.8,868.7 L-81.3,871.9 L-73.8,874.9 L-66.3,878.0 L-58.8,881.0 L-51.3,884.0 L-43.8,886.9 L-36.3,889.8 L-28.8,892.7 L-21.3,895.5 L-13.8,898.3 L-6.3,901.0 L1.2,903.8 L8.7,906.5 L16.2,909.1 L23.7,911.7 L31.2,914.3 L38.8,916.8 L46.3,919.3 L53.8,921.8 L61.3,924.3 L68.8,926.7 L76.3,929.0 L83.8,931.4 L91.3,933.7 L98.8,935.9 L106.3,938.2 L113.9,940.4 L121.4,942.5 L128.9,944.7 L136.4,946.8 L143.9,948.8 L151.4,950.9 L158.9,952.9 L166.5,954.8 L174.0,956.8 L181.5,958.7 L189.0,960.5 L196.5,962.4 L204.0,964.2 L211.6,966.0 L219.1,967.7 L226.6,969.4 L234.1,971.1 L241.6,972.7 L249.1,974.3 L256.7,975.9 L264.2,977.4 L271.7,979.0 L279.2,980.4 L286.7,981.9 L294.2,983.3 L301.8,984.7 L309.3,986.0 L316.8,987.4 L324.3,988.7 L331.8,989.9 L339.3,991.2 L346.8,992.4 L354.4,993.5 L361.9,994.7 L369.4,995.8 L376.9,996.8 L384.4,997.9 L391.9,998.9 L399.5,999.9 L407.0,1000.8 L414.5,1001.7 L422.0,1002.6 L429.5,1003.5 L437.0,1004.3 L444.5,1005.1 L452.1,1005.9 L459.6,1006.6 L467.1,1007.3 L474.6,1008.0 L482.1,1008.7 L489.6,1009.3 L497.1,1009.9 L504.7,1010.4 L512.2,1010.9 L519.7,1011.4 L527.2,1011.9 L534.7,1012.3 L542.2,1012.7 L549.7,1013.1 L557.3,1013.5 L564.8,1013.8 L572.3,1014.1 L579.8,1014.3 L587.3,1014.5 L594.8,1014.7 L602.3,1014.9 L609.8,1015.0 L617.4,1015.1 L624.9,1015.2 L632.4,1015.3 L639.9,1015.3 L647.4,1015.3 L654.9,1015.2 L662.4,1015.1 L670.0,1015.0 L677.5,1014.9 L685.0,1014.7 L692.5,1014.6 L700.0,1014.3 L707.5,1014.1 L715.0,1013.8 L722.5,1013.5 L730.1,1013.1 L737.6,1012.8 L745.1,1012.4 L752.6,1011.9 L760.1,1011.5 L767.6,1011.0 L775.1,1010.4 L782.7,1009.9 L790.2,1009.3 L797.7,1008.7 L805.2,1008.0 L812.7,1007.4 L820.2,1006.6 L827.7,1005.9 L835.3,1005.1 L842.8,1004.3 L850.3,1003.5 L857.8,1002.7 L865.3,1001.8 L872.8,1000.9 L880.3,999.9 L887.9,998.9 L895.4,997.9 L902.9,996.9 L910.4,995.8 L917.9,994.7 L925.4,993.5 L933.0,992.4 L940.5,991.2 L948.0,990.0 L955.5,988.7 L963.0,987.4 L970.5,986.1 L978.1,984.7 L985.6,983.3 L993.1,981.9 L1000.6,980.5 L1008.1,979.0 L1015.6,977.5 L1023.1,975.9 L1030.7,974.4 L1038.2,972.8 L1045.7,971.1 L1053.2,969.4 L1060.7,967.7 L1068.2,966.0 L1075.8,964.2 L1083.3,962.4 L1090.8,960.6 L1098.3,958.7 L1105.8,956.8 L1113.3,954.9 L1120.9,952.9 L1128.4,950.9 L1135.9,948.9 L1143.4,946.8 L1150.9,944.7 L1158.4,942.6 L1165.9,940.4 L1173.5,938.2 L1181.0,936.0 L1188.5,933.7 L1196.0,931.4 L1203.5,929.1 L1211.0,926.7 L1218.5,924.3 L1226.0,921.9 L1233.5,919.4 L1241.1,916.9 L1248.6,914.4 L1256.1,911.8 L1263.6,909.2 L1271.1,906.5 L1278.6,903.8 L1286.1,901.1 L1293.6,898.4 L1301.1,895.6 L1308.6,892.7 L1316.1,889.9 L1323.6,887.0 L1331.1,884.0 L1338.6,881.1 L1346.1,878.1 L1353.6,875.0 L1361.1,871.9 L1368.6,868.8 L1376.1,865.7 L1383.5,862.5 L1391.0,859.2 L1398.5,856.0 L1406.0,852.7 L1413.5,849.3 L1421.0,845.9 L1428.4,842.5 L1435.9,839.0 L1443.4,835.5 L1450.9,832.0 L1458.3,828.4 L1465.8,824.8 L1473.3,821.1 L1480.7,817.5 L1488.2,813.7 L1495.6,809.9 L1503.1,806.1 L1510.5,802.3 L1518.0,798.4 L1525.4,794.4 L1532.9,790.4 L1540.3,786.4 L1547.7,782.4 L1555.2,778.3 L1562.6,774.1 L1570.0,769.9 L1577.4,765.7 L1584.9,761.4 L1592.3,757.1 L1599.7,752.7 L1607.1,748.3 L1614.5,743.9 L1621.9,739.4 L1629.3,734.9 L1636.6,730.3 L1644.0,725.7 L1651.4,721.0 L1658.8,716.3 L1666.1,711.6 L1673.5,706.8 L1680.8,701.9 L1688.2,697.0 L1695.5,692.1 L1702.9,687.1 L1710.2,682.1 L1717.5,677.0 L1724.8,671.9 L1732.1,666.7 L1739.4,661.5 L1746.7,656.3 L1754.0,650.9 L1761.3,645.6 L1768.6,640.2 L1775.8,634.7 L1783.1,629.2 L1790.3,623.7 L1797.6,618.1 L1804.8,612.4 L1812.0,606.7 L1819.2,601.0 L1826.4,595.2 L1833.6,589.3 L1840.8,583.4 L1848.0,577.5 L1855.1,571.5 L1862.3,565.4 L1869.4,559.3 L1876.5,553.1 L1883.6,546.9 L1890.7,540.6 L1897.8,534.3 L1904.9,528.0 L1912.0,521.5 L1919.0,515.1 L1926.1,508.5 L1933.1,501.9 L1940.1,495.3 L1947.1,488.6 L1954.1,481.8 L1961.1,475.0 L1968.0,468.2 L1974.9,461.2 L1981.9,454.3 L1988.8,447.2 L1995.7,440.1 L2002.5,433.0 L2009.4,425.8 M-682.4,43.9 L-677.8,51.9 L-673.2,60.0 L-668.6,67.9 L-664.0,75.9 L-659.3,83.7 L-654.5,91.5 L-649.8,99.3 L-645.0,107.0 L-640.2,114.7 L-635.3,122.3 L-630.5,129.9 L-625.5,137.4 L-620.6,144.9 L-615.6,152.3 L-610.6,159.6 L-605.6,167.0 L-600.5,174.2 L-595.4,181.4 L-590.3,188.6 L-585.2,195.7 L-580.0,202.8 L-574.8,209.8 L-569.6,216.8 L-564.3,223.7 L-559.0,230.6 L-553.7,237.4 L-548.4,244.2 L-543.0,250.9 L-537.7,257.6 L-532.3,264.2 L-526.8,270.8 L-521.4,277.4 L-515.9,283.9 L-510.4,290.3 L-504.9,296.7 L-499.4,303.1 L-493.8,309.4 L-488.2,315.6 L-482.6,321.8 L-477.0,328.0 L-471.4,334.1 L-465.7,340.2 L-460.1,346.2 L-454.4,352.2 L-448.6,358.1 L-442.9,364.0 L-437.2,369.9 L-431.4,375.7 L-425.6,381.4 L-419.8,387.2 L-414.0,392.8 L-408.1,398.4 L-402.3,404.0 L-396.4,409.6 L-390.5,415.0 L-384.6,420.5 L-378.7,425.9 L-372.8,431.3 L-366.8,436.6 L-360.9,441.9 L-354.9,447.1 L-348.9,452.3 L-342.9,457.4 L-336.9,462.5 L-330.8,467.6 L-324.8,472.6 L-318.7,477.6 L-312.7,482.5 L-306.6,487.4 L-300.5,492.3 L-294.4,497.1 L-288.3,501.8 L-282.1,506.6 L-276.0,511.3 L-269.8,515.9 L-263.7,520.5 L-257.5,525.1 L-251.3,529.6 L-245.1,534.1 L-238.9,538.5 L-232.7,542.9 L-226.5,547.3 L-220.2,551.6 L-214.0,555.9 L-207.7,560.2 L-201.4,564.4 L-195.2,568.5 L-188.9,572.7 L-182.6,576.8 L-176.3,580.8 L-170.0,584.8 L-163.6,588.8 L-157.3,592.8 L-151.0,596.7 L-144.6,600.5 L-138.3,604.3 L-131.9,608.1 L-125.6,611.9 L-119.2,615.6 L-112.8,619.3 L-106.4,622.9 L-100.0,626.5 L-93.6,630.1 L-87.2,633.6 L-80.8,637.1 L-74.4,640.5 L-67.9,644.0 L-61.5,647.3 L-55.0,650.7 L-48.6,654.0 L-42.1,657.3 L-35.7,660.5 L-29.2,663.7 L-22.7,666.9 L-16.3,670.0 L-9.8,673.1 L-3.3,676.2 L3.2,679.2 L9.7,682.2 L16.2,685.2 L22.7,688.1 L29.2,691.0 L35.7,693.8 L42.3,696.6 L48.8,699.4 L55.3,702.2 L61.9,704.9 L68.4,707.6 L74.9,710.2 L81.5,712.8 L88.0,715.4 L94.6,718.0 L101.2,720.5 L107.7,723.0 L114.3,725.4 L120.9,727.8 L127.4,730.2 L134.0,732.5 L140.6,734.9 L147.2,737.1 L153.8,739.4 L160.4,741.6 L167.0,743.8 L173.6,745.9 L180.2,748.1 L186.8,750.2 L193.4,752.2 L200.0,754.2 L206.6,756.2 L213.2,758.2 L219.8,760.1 L226.4,762.0 L233.1,763.9 L239.7,765.7 L246.3,767.5 L253.0,769.3 L259.6,771.0 L266.2,772.7 L272.9,774.4 L279.5,776.0 L286.1,777.6 L292.8,779.2 L299.4,780.8 L306.1,782.3 L312.7,783.8 L319.4,785.2 L326.0,786.6 L332.7,788.0 L339.3,789.4 L346.0,790.7 L352.6,792.0 L359.3,793.3 L366.0,794.5 L372.6,795.8 L379.3,796.9 L386.0,798.1 L392.6,799.2 L399.3,800.3 L406.0,801.4 L412.6,802.4 L419.3,803.4 L426.0,804.3 L432.7,805.3 L439.3,806.2 L446.0,807.1 L452.7,807.9 L459.4,808.7 L466.0,809.5 L472.7,810.3 L479.4,811.0 L486.1,811.7 L492.8,812.4 L499.5,813.0 L506.1,813.6 L512.8,814.2 L519.5,814.7 L526.2,815.3 L532.9,815.7 L539.6,816.2 L546.3,816.6 L552.9,817.0 L559.6,817.4 L566.3,817.7 L573.0,818.1 L579.7,818.3 L586.4,818.6 L593.1,818.8 L599.8,819.0 L606.5,819.2 L613.1,819.3 L619.8,819.4 L626.5,819.5 L633.2,819.5 L639.9,819.5 L646.6,819.5 L653.3,819.5 L660.0,819.4 L666.7,819.3 L673.4,819.2 L680.1,819.0 L686.7,818.8 L693.4,818.6 L700.1,818.3 L706.8,818.1 L713.5,817.8 L720.2,817.4 L726.9,817.0 L733.6,816.6 L740.3,816.2 L746.9,815.8 L753.6,815.3 L760.3,814.8 L767.0,814.2 L773.7,813.6 L780.4,813.0 L787.1,812.4 L793.7,811.7 L800.4,811.0 L807.1,810.3 L813.8,809.5 L820.5,808.8 L827.1,807.9 L833.8,807.1 L840.5,806.2 L847.2,805.3 L853.8,804.4 L860.5,803.4 L867.2,802.4 L873.9,801.4 L880.5,800.3 L887.2,799.2 L893.9,798.1 L900.5,797.0 L907.2,795.8 L913.9,794.6 L920.5,793.3 L927.2,792.1 L933.8,790.8 L940.5,789.4 L947.2,788.1 L953.8,786.7 L960.5,785.3 L967.1,783.8 L973.8,782.3 L980.4,780.8 L987.0,779.3 L993.7,777.7 L1000.3,776.1 L1007.0,774.4 L1013.6,772.7 L1020.2,771.0 L1026.9,769.3 L1033.5,767.5 L1040.1,765.7 L1046.8,763.9 L1053.4,762.0 L1060.0,760.2 L1066.6,758.2 L1073.2,756.3 L1079.8,754.3 L1086.5,752.3 L1093.1,750.2 L1099.7,748.1 L1106.3,746.0 L1112.9,743.8 L1119.5,741.7 L1126.1,739.5 L1132.6,737.2 L1139.2,734.9 L1145.8,732.6 L1152.4,730.3 L1159.0,727.9 L1165.5,725.5 L1172.1,723.0 L1178.7,720.5 L1185.2,718.0 L1191.8,715.5 L1198.3,712.9 L1204.9,710.3 L1211.4,707.6 L1218.0,705.0 L1224.5,702.2 L1231.0,699.5 L1237.6,696.7 L1244.1,693.9 L1250.6,691.0 L1257.1,688.2 L1263.6,685.2 L1270.1,682.3 L1276.6,679.3 L1283.1,676.3 L1289.6,673.2 L1296.1,670.1 L1302.6,667.0 L1309.0,663.8 L1315.5,660.6 L1322.0,657.4 L1328.4,654.1 L1334.9,650.8 L1341.3,647.4 L1347.8,644.1 L1354.2,640.6 L1360.6,637.2 L1367.0,633.7 L1373.4,630.2 L1379.8,626.6 L1386.2,623.0 L1392.6,619.4 L1399.0,615.7 L1405.4,612.0 L1411.8,608.2 L1418.1,604.4 L1424.5,600.6 L1430.8,596.8 L1437.2,592.9 L1443.5,588.9 L1449.8,584.9 L1456.1,580.9 L1462.4,576.9 L1468.7,572.8 L1475.0,568.7 L1481.3,564.5 L1487.5,560.3 L1493.8,556.0 L1500.1,551.7 L1506.3,547.4 L1512.5,543.1 L1518.7,538.7 L1524.9,534.2 L1531.1,529.7 L1537.3,525.2 L1543.5,520.6 L1549.7,516.0 L1555.8,511.4 L1562.0,506.7 L1568.1,502.0 L1574.2,497.2 L1580.3,492.4 L1586.4,487.5 L1592.5,482.6 L1598.6,477.7 L1604.6,472.7 L1610.7,467.7 L1616.7,462.7 L1622.7,457.6 L1628.7,452.4 L1634.7,447.2 L1640.7,442.0 L1646.7,436.7 L1652.6,431.4 L1658.6,426.0 L1664.5,420.6 L1670.4,415.2 L1676.3,409.7 L1682.1,404.2 L1688.0,398.6 L1693.8,393.0 L1699.6,387.3 L1705.5,381.6 L1711.2,375.8 L1717.0,370.0 L1722.8,364.2 L1728.5,358.3 L1734.2,352.4 L1739.9,346.4 L1745.6,340.4 L1751.2,334.3 L1756.9,328.2 L1762.5,322.0 L1768.1,315.8 L1773.7,309.5 L1779.2,303.2 L1784.8,296.9 L1790.3,290.5 L1795.8,284.0 L1801.2,277.5 L1806.7,271.0 L1812.1,264.4 L1817.5,257.8 M-452.3,-72.8 L-449.1,-65.8 L-445.9,-58.9 L-442.6,-52.0 L-439.3,-45.2 L-436.0,-38.4 L-432.6,-31.6 L-429.2,-24.9 L-425.7,-18.2 L-422.2,-11.5 L-418.7,-4.9 L-415.1,1.7 L-411.6,8.2 L-407.9,14.7 L-404.3,21.2 L-400.6,27.6 L-396.9,34.0 L-393.2,40.3 L-389.4,46.7 L-385.6,52.9 L-381.8,59.2 L-377.9,65.4 L-374.0,71.6 L-370.1,77.7 L-366.1,83.8 L-362.2,89.8 L-358.2,95.9 L-354.1,101.8 L-350.1,107.8 L-346.0,113.7 L-341.9,119.6 L-337.8,125.4 L-333.6,131.2 L-329.4,136.9 L-325.2,142.7 L-321.0,148.3 L-316.7,154.0 L-312.4,159.6 L-308.1,165.2 L-303.8,170.7 L-299.4,176.2 L-295.1,181.7 L-290.7,187.1 L-286.2,192.5 L-281.8,197.8 L-277.3,203.2 L-272.8,208.4 L-268.3,213.7 L-263.8,218.9 L-259.2,224.0 L-254.7,229.2 L-250.1,234.3 L-245.5,239.3 L-240.8,244.4 L-236.2,249.4 L-231.5,254.3 L-226.8,259.2 L-222.1,264.1 L-217.4,268.9 L-212.6,273.8 L-207.9,278.5 L-203.1,283.3 L-198.3,288.0 L-193.5,292.6 L-188.7,297.3 L-183.8,301.9 L-179.0,306.4 L-174.1,310.9 L-169.2,315.4 L-164.3,319.9 L-159.3,324.3 L-154.4,328.7 L-149.4,333.0 L-144.4,337.4 L-139.5,341.6 L-134.5,345.9 L-129.4,350.1 L-124.4,354.3 L-119.3,358.4 L-114.3,362.5 L-109.2,366.6 L-104.1,370.6 L-99.0,374.6 L-93.9,378.6 L-88.8,382.5 L-83.6,386.4 L-78.5,390.3 L-73.3,394.2 L-68.1,398.0 L-62.9,401.7 L-57.7,405.5 L-52.5,409.2 L-47.3,412.8 L-42.1,416.5 L-36.8,420.1 L-31.5,423.6 L-26.3,427.2 L-21.0,430.7 L-15.7,434.1 L-10.4,437.6 L-5.1,441.0 L0.2,444.3 L5.6,447.7 L10.9,451.0 L16.3,454.3 L21.6,457.5 L27.0,460.7 L32.4,463.9 L37.8,467.0 L43.2,470.1 L48.6,473.2 L54.0,476.3 L59.5,479.3 L64.9,482.3 L70.3,485.2 L75.8,488.1 L81.2,491.0 L86.7,493.9 L92.2,496.7 L97.7,499.5 L103.2,502.3 L108.7,505.0 L114.2,507.7 L119.7,510.4 L125.2,513.0 L130.7,515.6 L136.3,518.2 L141.8,520.7 L147.4,523.2 L152.9,525.7 L158.5,528.2 L164.1,530.6 L169.6,533.0 L175.2,535.3 L180.8,537.7 L186.4,540.0 L192.0,542.2 L197.6,544.5 L203.2,546.7 L208.8,548.8 L214.5,551.0 L220.1,553.1 L225.7,555.2 L231.3,557.2 L237.0,559.3 L242.6,561.3 L248.3,563.2 L254.0,565.2 L259.6,567.1 L265.3,569.0 L271.0,570.8 L276.6,572.6 L282.3,574.4 L288.0,576.2 L293.7,577.9 L299.4,579.6 L305.1,581.3 L310.8,582.9 L316.5,584.5 L322.2,586.1 L327.9,587.6 L333.6,589.2 L339.3,590.7 L345.1,592.1 L350.8,593.6 L356.5,595.0 L362.3,596.3 L368.0,597.7 L373.7,599.0 L379.5,600.3 L385.2,601.6 L391.0,602.8 L396.7,604.0 L402.5,605.2 L408.2,606.3 L414.0,607.4 L419.8,608.5 L425.5,609.6 L431.3,610.6 L437.1,611.6 L442.8,612.6 L448.6,613.6 L454.4,614.5 L460.2,615.4 L465.9,616.2 L471.7,617.1 L477.5,617.9 L483.3,618.6 L489.1,619.4 L494.9,620.1 L500.7,620.8 L506.4,621.5 L512.2,622.1 L518.0,622.7 L523.8,623.3 L529.6,623.8 L535.4,624.3 L541.2,624.8 L547.0,625.3 L552.8,625.7 L558.6,626.1 L564.4,626.5 L570.2,626.9 L576.0,627.2 L581.8,627.5 L587.7,627.8 L593.5,628.0 L599.3,628.2 L605.1,628.4 L610.9,628.6 L616.7,628.7 L622.5,628.8 L628.3,628.8 L634.1,628.9 L639.9,628.9 L645.7,628.9 L651.5,628.8 L657.4,628.8 L663.2,628.7 L669.0,628.6 L674.8,628.4 L680.6,628.2 L686.4,628.0 L692.2,627.8 L698.0,627.5 L703.8,627.2 L709.6,626.9 L715.4,626.5 L721.2,626.2 L727.0,625.7 L732.8,625.3 L738.6,624.8 L744.4,624.4 L750.2,623.8 L756.0,623.3 L761.8,622.7 L767.6,622.1 L773.4,621.5 L779.2,620.8 L785.0,620.1 L790.8,619.4 L796.6,618.7 L802.3,617.9 L808.1,617.1 L813.9,616.2 L819.7,615.4 L825.5,614.5 L831.2,613.6 L837.0,612.6 L842.8,611.7 L848.6,610.7 L854.3,609.6 L860.1,608.6 L865.9,607.5 L871.6,606.4 L877.4,605.2 L883.1,604.0 L888.9,602.8 L894.6,601.6 L900.4,600.3 L906.1,599.1 L911.9,597.7 L917.6,596.4 L923.3,595.0 L929.1,593.6 L934.8,592.2 L940.5,590.7 L946.2,589.2 L951.9,587.7 L957.7,586.1 L963.4,584.6 L969.1,582.9 L974.8,581.3 L980.5,579.6 L986.2,577.9 L991.9,576.2 L997.5,574.5 L1003.2,572.7 L1008.9,570.9 L1014.6,569.0 L1020.2,567.1 L1025.9,565.2 L1031.6,563.3 L1037.2,561.3 L1042.9,559.3 L1048.5,557.3 L1054.1,555.2 L1059.8,553.2 L1065.4,551.0 L1071.0,548.9 L1076.6,546.7 L1082.3,544.5 L1087.9,542.3 L1093.5,540.0 L1099.1,537.7 L1104.6,535.4 L1110.2,533.0 L1115.8,530.6 L1121.4,528.2 L1126.9,525.8 L1132.5,523.3 L1138.0,520.8 L1143.6,518.2 L1149.1,515.7 L1154.6,513.1 L1160.2,510.4 L1165.7,507.8 L1171.2,505.1 L1176.7,502.3 L1182.2,499.6 L1187.7,496.8 L1193.1,494.0 L1198.6,491.1 L1204.1,488.2 L1209.5,485.3 L1215.0,482.3 L1220.4,479.4 L1225.8,476.3 L1231.3,473.3 L1236.7,470.2 L1242.1,467.1 L1247.5,464.0 L1252.8,460.8 L1258.2,457.6 L1263.6,454.3 L1268.9,451.1 L1274.3,447.8 L1279.6,444.4 L1284.9,441.1 L1290.3,437.7 L1295.6,434.2 L1300.9,430.8 L1306.1,427.3 L1311.4,423.7 L1316.7,420.2 L1321.9,416.6 L1327.2,412.9 L1332.4,409.3 L1337.6,405.6 L1342.8,401.8 L1348.0,398.1 L1353.2,394.3 L1358.3,390.4 L1363.5,386.5 L1368.6,382.6 L1373.8,378.7 L1378.9,374.7 L1384.0,370.7 L1389.1,366.7 L1394.2,362.6 L1399.2,358.5 L1404.3,354.4 L1409.3,350.2 L1414.3,346.0 L1419.3,341.7 L1424.3,337.5 L1429.3,333.2 L1434.3,328.8 L1439.2,324.4 L1444.1,320.0 L1449.0,315.5 L1453.9,311.1 L1458.8,306.5 L1463.7,302.0 L1468.5,297.4 L1473.4,292.8 L1478.2,288.1 L1483.0,283.4 L1487.8,278.6 L1492.5,273.9 L1497.3,269.1 L1502.0,264.2 L1506.7,259.3 L1511.4,254.4 L1516.1,249.5 L1520.7,244.5 L1525.3,239.5 L1530.0,234.4 L1534.6,229.3 L1539.1,224.2 L1543.7,219.0 L1548.2,213.8 L1552.7,208.6 L1557.2,203.3 L1561.7,198.0 L1566.1,192.6 L1570.5,187.2 L1574.9,181.8 L1579.3,176.4 L1583.7,170.9 L1588.0,165.3 L1592.3,159.7 L1596.6,154.1 L1600.9,148.5 L1605.1,142.8 L1609.3,137.1 L1613.5,131.3 L1617.6,125.5 L1621.8,119.7 L1625.9,113.8 M-228.1,-165.2 L-226.0,-159.4 L-223.8,-153.8 L-221.6,-148.1 L-219.4,-142.5 L-217.2,-136.9 L-214.9,-131.3 L-212.5,-125.7 L-210.2,-120.2 L-207.8,-114.7 L-205.4,-109.2 L-203.0,-103.8 L-200.5,-98.4 L-198.0,-93.0 L-195.5,-87.6 L-192.9,-82.3 L-190.3,-76.9 L-187.7,-71.6 L-185.0,-66.4 L-182.4,-61.1 L-179.7,-55.9 L-176.9,-50.7 L-174.2,-45.6 L-171.4,-40.4 L-168.6,-35.3 L-165.7,-30.2 L-162.8,-25.2 L-159.9,-20.2 L-157.0,-15.2 L-154.1,-10.2 L-151.1,-5.3 L-148.1,-0.3 L-145.1,4.6 L-142.0,9.4 L-138.9,14.3 L-135.8,19.1 L-132.7,23.8 L-129.6,28.6 L-126.4,33.3 L-123.2,38.0 L-120.0,42.7 L-116.7,47.3 L-113.5,52.0 L-110.2,56.5 L-106.9,61.1 L-103.5,65.6 L-100.2,70.1 L-96.8,74.6 L-93.4,79.1 L-90.0,83.5 L-86.5,87.9 L-83.1,92.2 L-79.6,96.6 L-76.1,100.9 L-72.6,105.2 L-69.0,109.4 L-65.5,113.7 L-61.9,117.9 L-58.3,122.0 L-54.7,126.2 L-51.0,130.3 L-47.4,134.4 L-43.7,138.4 L-40.0,142.5 L-36.3,146.5 L-32.5,150.4 L-28.8,154.4 L-25.0,158.3 L-21.2,162.2 L-17.4,166.1 L-13.6,169.9 L-9.8,173.7 L-5.9,177.5 L-2.1,181.2 L1.8,185.0 L5.7,188.7 L9.6,192.3 L13.6,196.0 L17.5,199.6 L21.5,203.2 L25.5,206.7 L29.5,210.3 L33.5,213.8 L37.5,217.2 L41.5,220.7 L45.6,224.1 L49.7,227.5 L53.7,230.8 L57.8,234.2 L61.9,237.5 L66.1,240.8 L70.2,244.0 L74.3,247.3 L78.5,250.4 L82.7,253.6 L86.9,256.8 L91.1,259.9 L95.3,263.0 L99.5,266.0 L103.7,269.1 L108.0,272.1 L112.2,275.0 L116.5,278.0 L120.8,280.9 L125.1,283.8 L129.4,286.7 L133.7,289.5 L138.1,292.3 L142.4,295.1 L146.7,297.9 L151.1,300.6 L155.5,303.3 L159.9,306.0 L164.2,308.6 L168.6,311.3 L173.1,313.9 L177.5,316.4 L181.9,319.0 L186.3,321.5 L190.8,324.0 L195.3,326.4 L199.7,328.9 L204.2,331.3 L208.7,333.6 L213.2,336.0 L217.7,338.3 L222.2,340.6 L226.7,342.9 L231.2,345.1 L235.8,347.4 L240.3,349.6 L244.9,351.7 L249.4,353.9 L254.0,356.0 L258.6,358.1 L263.2,360.1 L267.7,362.2 L272.3,364.2 L276.9,366.1 L281.6,368.1 L286.2,370.0 L290.8,371.9 L295.4,373.8 L300.1,375.6 L304.7,377.5 L309.4,379.2 L314.0,381.0 L318.7,382.8 L323.4,384.5 L328.0,386.2 L332.7,387.8 L337.4,389.5 L342.1,391.1 L346.8,392.7 L351.5,394.2 L356.2,395.7 L360.9,397.2 L365.6,398.7 L370.3,400.2 L375.1,401.6 L379.8,403.0 L384.5,404.4 L389.3,405.7 L394.0,407.1 L398.8,408.4 L403.5,409.6 L408.3,410.9 L413.1,412.1 L417.8,413.3 L422.6,414.4 L427.4,415.6 L432.1,416.7 L436.9,417.8 L441.7,418.9 L446.5,419.9 L451.3,420.9 L456.1,421.9 L460.9,422.9 L465.7,423.8 L470.5,424.7 L475.3,425.6 L480.1,426.4 L484.9,427.3 L489.8,428.1 L494.6,428.9 L499.4,429.6 L504.2,430.3 L509.0,431.0 L513.9,431.7 L518.7,432.4 L523.5,433.0 L528.4,433.6 L533.2,434.2 L538.0,434.7 L542.9,435.2 L547.7,435.7 L552.6,436.2 L557.4,436.7 L562.3,437.1 L567.1,437.5 L572.0,437.9 L576.8,438.2 L581.7,438.5 L586.5,438.8 L591.4,439.1 L596.2,439.3 L601.1,439.5 L605.9,439.7 L610.8,439.9 L615.6,440.0 L620.5,440.2 L625.4,440.2 L630.2,440.3 L635.1,440.3 L639.9,440.4 L644.8,440.3 L649.7,440.3 L654.5,440.2 L659.4,440.2 L664.2,440.0 L669.1,439.9 L673.9,439.7 L678.8,439.5 L683.6,439.3 L688.5,439.1 L693.4,438.8 L698.2,438.5 L703.1,438.2 L707.9,437.9 L712.8,437.5 L717.6,437.1 L722.5,436.7 L727.3,436.2 L732.1,435.8 L737.0,435.3 L741.8,434.7 L746.7,434.2 L751.5,433.6 L756.3,433.0 L761.2,432.4 L766.0,431.7 L770.8,431.1 L775.7,430.4 L780.5,429.6 L785.3,428.9 L790.1,428.1 L794.9,427.3 L799.8,426.5 L804.6,425.6 L809.4,424.7 L814.2,423.8 L819.0,422.9 L823.8,421.9 L828.6,420.9 L833.4,419.9 L838.2,418.9 L842.9,417.8 L847.7,416.7 L852.5,415.6 L857.3,414.5 L862.1,413.3 L866.8,412.1 L871.6,410.9 L876.3,409.7 L881.1,408.4 L885.8,407.1 L890.6,405.8 L895.3,404.4 L900.1,403.0 L904.8,401.6 L909.5,400.2 L914.3,398.8 L919.0,397.3 L923.7,395.8 L928.4,394.3 L933.1,392.7 L937.8,391.1 L942.5,389.5 L947.2,387.9 L951.9,386.2 L956.5,384.5 L961.2,382.8 L965.9,381.1 L970.5,379.3 L975.2,377.5 L979.8,375.7 L984.4,373.8 L989.1,372.0 L993.7,370.1 L998.3,368.1 L1002.9,366.2 L1007.5,364.2 L1012.1,362.2 L1016.7,360.2 L1021.3,358.1 L1025.9,356.0 L1030.4,353.9 L1035.0,351.8 L1039.6,349.6 L1044.1,347.4 L1048.6,345.2 L1053.2,343.0 L1057.7,340.7 L1062.2,338.4 L1066.7,336.1 L1071.2,333.7 L1075.7,331.3 L1080.2,328.9 L1084.6,326.5 L1089.1,324.0 L1093.5,321.5 L1098.0,319.0 L1102.4,316.5 L1106.8,313.9 L1111.2,311.3 L1115.6,308.7 L1120.0,306.1 L1124.4,303.4 L1128.8,300.7 L1133.1,297.9 L1137.5,295.2 L1141.8,292.4 L1146.2,289.6 L1150.5,286.7 L1154.8,283.9 L1159.1,281.0 L1163.4,278.1 L1167.6,275.1 L1171.9,272.1 L1176.1,269.1 L1180.4,266.1 L1184.6,263.0 L1188.8,260.0 L1193.0,256.8 L1197.2,253.7 L1201.4,250.5 L1205.5,247.3 L1209.7,244.1 L1213.8,240.9 L1218.0,237.6 L1222.1,234.3 L1226.2,230.9 L1230.2,227.6 L1234.3,224.2 L1238.4,220.8 L1242.4,217.3 L1246.4,213.8 L1250.4,210.3 L1254.4,206.8 L1258.4,203.3 L1262.4,199.7 L1266.3,196.1 L1270.3,192.4 L1274.2,188.8 L1278.1,185.1 L1282.0,181.3 L1285.8,177.6 L1289.7,173.8 L1293.5,170.0 L1297.3,166.2 L1301.1,162.3 L1304.9,158.4 L1308.7,154.5 L1312.4,150.5 L1316.2,146.6 L1319.9,142.6 L1323.6,138.5 L1327.3,134.5 L1330.9,130.4 L1334.6,126.3 L1338.2,122.1 L1341.8,118.0 L1345.4,113.8 L1348.9,109.5 L1352.5,105.3 L1356.0,101.0 L1359.5,96.7 L1363.0,92.4 L1366.5,88.0 L1369.9,83.6 L1373.3,79.2 L1376.7,74.7 L1380.1,70.3 L1383.4,65.7 L1386.8,61.2 L1390.1,56.7 L1393.4,52.1 L1396.6,47.5 L1399.9,42.8 L1403.1,38.1 L1406.3,33.4 L1409.5,28.7 L1412.6,24.0 L1415.8,19.2 L1418.9,14.4 L1421.9,9.5 L1425.0,4.7 L1428.0,-0.2 L1431.0,-5.1 L1434.0,-10.1 M-8.3,-237.1 L-7.0,-232.7 L-5.7,-228.4 L-4.4,-224.1 L-3.0,-219.7 L-1.7,-215.4 L-0.3,-211.1 L1.2,-206.9 L2.6,-202.6 L4.1,-198.4 L5.6,-194.1 L7.2,-189.9 L8.7,-185.7 L10.3,-181.6 L11.9,-177.4 L13.6,-173.3 L15.3,-169.1 L16.9,-165.0 L18.7,-160.9 L20.4,-156.8 L22.2,-152.8 L24.0,-148.7 L25.8,-144.7 L27.6,-140.7 L29.5,-136.7 L31.3,-132.7 L33.2,-128.8 L35.2,-124.8 L37.1,-120.9 L39.1,-117.0 L41.1,-113.1 L43.1,-109.3 L45.2,-105.4 L47.2,-101.6 L49.3,-97.8 L51.4,-94.0 L53.6,-90.2 L55.7,-86.5 L57.9,-82.7 L60.1,-79.0 L62.3,-75.3 L64.5,-71.6 L66.8,-68.0 L69.0,-64.3 L71.3,-60.7 L73.7,-57.1 L76.0,-53.5 L78.4,-49.9 L80.7,-46.4 L83.1,-42.9 L85.5,-39.4 L88.0,-35.9 L90.4,-32.4 L92.9,-29.0 L95.4,-25.5 L97.9,-22.1 L100.4,-18.7 L103.0,-15.4 L105.5,-12.0 L108.1,-8.7 L110.7,-5.4 L113.3,-2.1 L116.0,1.2 L118.6,4.4 L121.3,7.7 L124.0,10.9 L126.7,14.1 L129.4,17.2 L132.1,20.4 L134.9,23.5 L137.6,26.6 L140.4,29.7 L143.2,32.8 L146.0,35.8 L148.8,38.8 L151.7,41.8 L154.6,44.8 L157.4,47.8 L160.3,50.7 L163.2,53.6 L166.1,56.5 L169.1,59.4 L172.0,62.3 L175.0,65.1 L178.0,67.9 L181.0,70.7 L184.0,73.5 L187.0,76.3 L190.0,79.0 L193.1,81.7 L196.1,84.4 L199.2,87.1 L202.3,89.7 L205.4,92.3 L208.5,94.9 L211.6,97.5 L214.7,100.1 L217.9,102.6 L221.1,105.1 L224.2,107.6 L227.4,110.1 L230.6,112.6 L233.8,115.0 L237.0,117.4 L240.3,119.8 L243.5,122.2 L246.8,124.5 L250.0,126.9 L253.3,129.2 L256.6,131.5 L259.9,133.7 L263.2,136.0 L266.5,138.2 L269.9,140.4 L273.2,142.6 L276.5,144.7 L279.9,146.9 L283.3,149.0 L286.6,151.1 L290.0,153.1 L293.4,155.2 L296.8,157.2 L300.3,159.2 L303.7,161.2 L307.1,163.2 L310.6,165.1 L314.0,167.0 L317.5,168.9 L321.0,170.8 L324.4,172.6 L327.9,174.5 L331.4,176.3 L334.9,178.1 L338.4,179.8 L341.9,181.6 L345.5,183.3 L349.0,185.0 L352.5,186.7 L356.1,188.4 L359.7,190.0 L363.2,191.6 L366.8,193.2 L370.4,194.8 L374.0,196.3 L377.5,197.9 L381.1,199.4 L384.7,200.9 L388.4,202.3 L392.0,203.8 L395.6,205.2 L399.2,206.6 L402.9,208.0 L406.5,209.3 L410.2,210.6 L413.8,212.0 L417.5,213.3 L421.1,214.5 L424.8,215.8 L428.5,217.0 L432.2,218.2 L435.9,219.4 L439.6,220.5 L443.2,221.7 L447.0,222.8 L450.7,223.9 L454.4,225.0 L458.1,226.0 L461.8,227.0 L465.5,228.1 L469.3,229.0 L473.0,230.0 L476.7,231.0 L480.5,231.9 L484.2,232.8 L488.0,233.7 L491.7,234.5 L495.5,235.3 L499.2,236.2 L503.0,237.0 L506.8,237.7 L510.5,238.5 L514.3,239.2 L518.1,239.9 L521.9,240.6 L525.6,241.2 L529.4,241.9 L533.2,242.5 L537.0,243.1 L540.8,243.7 L544.6,244.2 L548.4,244.8 L552.2,245.3 L556.0,245.8 L559.8,246.2 L563.6,246.7 L567.4,247.1 L571.2,247.5 L575.0,247.9 L578.8,248.2 L582.6,248.6 L586.5,248.9 L590.3,249.2 L594.1,249.4 L597.9,249.7 L601.7,249.9 L605.5,250.1 L609.4,250.3 L613.2,250.5 L617.0,250.6 L620.8,250.7 L624.7,250.8 L628.5,250.9 L632.3,251.0 L636.1,251.0 L640.0,251.0 L643.8,251.0 L647.6,251.0 L651.4,250.9 L655.2,250.8 L659.1,250.7 L662.9,250.6 L666.7,250.5 L670.5,250.3 L674.4,250.1 L678.2,249.9 L682.0,249.7 L685.8,249.5 L689.6,249.2 L693.4,248.9 L697.3,248.6 L701.1,248.2 L704.9,247.9 L708.7,247.5 L712.5,247.1 L716.3,246.7 L720.1,246.2 L723.9,245.8 L727.7,245.3 L731.5,244.8 L735.3,244.2 L739.1,243.7 L742.9,243.1 L746.7,242.5 L750.5,241.9 L754.3,241.3 L758.0,240.6 L761.8,239.9 L765.6,239.2 L769.4,238.5 L773.1,237.7 L776.9,237.0 L780.7,236.2 L784.4,235.4 L788.2,234.5 L791.9,233.7 L795.7,232.8 L799.4,231.9 L803.2,231.0 L806.9,230.0 L810.6,229.1 L814.4,228.1 L818.1,227.1 L821.8,226.0 L825.5,225.0 L829.2,223.9 L833.0,222.8 L836.7,221.7 L840.4,220.6 L844.0,219.4 L847.7,218.2 L851.4,217.0 L855.1,215.8 L858.8,214.6 L862.4,213.3 L866.1,212.0 L869.7,210.7 L873.4,209.3 L877.0,208.0 L880.7,206.6 L884.3,205.2 L887.9,203.8 L891.5,202.4 L895.2,200.9 L898.8,199.4 L902.4,197.9 L906.0,196.4 L909.5,194.8 L913.1,193.2 L916.7,191.7 L920.3,190.0 L923.8,188.4 L927.4,186.7 L930.9,185.1 L934.4,183.4 L938.0,181.6 L941.5,179.9 L945.0,178.1 L948.5,176.3 L952.0,174.5 L955.5,172.7 L959.0,170.8 L962.4,169.0 L965.9,167.1 L969.3,165.1 L972.8,163.2 L976.2,161.2 L979.7,159.3 L983.1,157.3 L986.5,155.2 L989.9,153.2 L993.3,151.1 L996.6,149.0 L1000.0,146.9 L1003.4,144.8 L1006.7,142.6 L1010.1,140.4 L1013.4,138.2 L1016.7,136.0 L1020.0,133.8 L1023.3,131.5 L1026.6,129.2 L1029.9,126.9 L1033.1,124.6 L1036.4,122.3 L1039.6,119.9 L1042.9,117.5 L1046.1,115.1 L1049.3,112.6 L1052.5,110.2 L1055.7,107.7 L1058.9,105.2 L1062.0,102.7 L1065.2,100.2 L1068.3,97.6 L1071.4,95.0 L1074.5,92.4 L1077.6,89.8 L1080.7,87.1 L1083.8,84.5 L1086.9,81.8 L1089.9,79.1 L1092.9,76.3 L1096.0,73.6 L1099.0,70.8 L1102.0,68.0 L1104.9,65.2 L1107.9,62.4 L1110.8,59.5 L1113.8,56.6 L1116.7,53.7 L1119.6,50.8 L1122.5,47.9 L1125.4,44.9 L1128.2,41.9 L1131.1,38.9 L1133.9,35.9 L1136.7,32.8 L1139.5,29.8 L1142.3,26.7 L1145.1,23.6 L1147.8,20.5 L1150.6,17.3 L1153.3,14.2 L1156.0,11.0 L1158.7,7.8 L1161.3,4.5 L1164.0,1.3 L1166.6,-2.0 L1169.2,-5.3 L1171.8,-8.6 L1174.4,-11.9 L1177.0,-15.3 L1179.5,-18.6 L1182.0,-22.0 L1184.6,-25.4 L1187.0,-28.9 L1189.5,-32.3 L1192.0,-35.8 L1194.4,-39.3 L1196.8,-42.8 L1199.2,-46.3 L1201.6,-49.8 L1203.9,-53.4 L1206.3,-57.0 L1208.6,-60.6 L1210.9,-64.2 L1213.2,-67.9 L1215.4,-71.5 L1217.7,-75.2 L1219.9,-78.9 L1222.1,-82.6 L1224.2,-86.4 L1226.4,-90.1 L1228.5,-93.9 L1230.6,-97.7 L1232.7,-101.5 L1234.8,-105.3 L1236.8,-109.2 L1238.8,-113.0 L1240.8,-116.9 M208.6,-291.3 L209.2,-288.4 L209.9,-285.4 L210.5,-282.5 L211.2,-279.5 L212.0,-276.6 L212.7,-273.7 L213.5,-270.8 L214.2,-267.9 L215.0,-265.0 L215.8,-262.1 L216.7,-259.2 L217.5,-256.3 L218.4,-253.5 L219.3,-250.6 L220.2,-247.8 L221.1,-244.9 L222.1,-242.1 L223.0,-239.3 L224.0,-236.5 L225.0,-233.7 L226.0,-230.9 L227.1,-228.1 L228.1,-225.3 L229.2,-222.6 L230.3,-219.8 L231.4,-217.1 L232.5,-214.3 L233.6,-211.6 L234.8,-208.9 L236.0,-206.2 L237.1,-203.5 L238.4,-200.8 L239.6,-198.2 L240.8,-195.5 L242.1,-192.8 L243.3,-190.2 L244.6,-187.6 L245.9,-185.0 L247.3,-182.3 L248.6,-179.8 L250.0,-177.2 L251.3,-174.6 L252.7,-172.0 L254.1,-169.5 L255.5,-166.9 L257.0,-164.4 L258.4,-161.9 L259.9,-159.4 L261.4,-156.9 L262.9,-154.4 L264.4,-152.0 L265.9,-149.5 L267.4,-147.1 L269.0,-144.6 L270.5,-142.2 L272.1,-139.8 L273.7,-137.4 L275.3,-135.0 L277.0,-132.6 L278.6,-130.3 L280.3,-127.9 L281.9,-125.6 L283.6,-123.3 L285.3,-121.0 L287.0,-118.7 L288.7,-116.4 L290.5,-114.1 L292.2,-111.9 L294.0,-109.6 L295.7,-107.4 L297.5,-105.2 L299.3,-103.0 L301.1,-100.8 L303.0,-98.6 L304.8,-96.4 L306.7,-94.3 L308.5,-92.2 L310.4,-90.0 L312.3,-87.9 L314.2,-85.8 L316.1,-83.8 L318.0,-81.7 L320.0,-79.6 L321.9,-77.6 L323.9,-75.6 L325.8,-73.5 L327.8,-71.5 L329.8,-69.6 L331.8,-67.6 L333.8,-65.6 L335.9,-63.7 L337.9,-61.8 L340.0,-59.9 L342.0,-58.0 L344.1,-56.1 L346.2,-54.2 L348.3,-52.3 L350.4,-50.5 L352.5,-48.7 L354.6,-46.9 L356.7,-45.1 L358.9,-43.3 L361.0,-41.5 L363.2,-39.8 L365.4,-38.0 L367.5,-36.3 L369.7,-34.6 L371.9,-32.9 L374.1,-31.2 L376.4,-29.5 L378.6,-27.9 L380.8,-26.3 L383.1,-24.6 L385.3,-23.0 L387.6,-21.4 L389.9,-19.9 L392.1,-18.3 L394.4,-16.8 L396.7,-15.2 L399.0,-13.7 L401.3,-12.2 L403.7,-10.7 L406.0,-9.3 L408.3,-7.8 L410.7,-6.4 L413.0,-5.0 L415.4,-3.6 L417.8,-2.2 L420.1,-0.8 L422.5,0.6 L424.9,1.9 L427.3,3.2 L429.7,4.6 L432.1,5.9 L434.6,7.1 L437.0,8.4 L439.4,9.7 L441.8,10.9 L444.3,12.1 L446.7,13.3 L449.2,14.5 L451.7,15.7 L454.1,16.8 L456.6,18.0 L459.1,19.1 L461.6,20.2 L464.1,21.3 L466.6,22.4 L469.1,23.5 L471.6,24.5 L474.1,25.5 L476.6,26.5 L479.2,27.5 L481.7,28.5 L484.2,29.5 L486.8,30.4 L489.3,31.4 L491.9,32.3 L494.4,33.2 L497.0,34.1 L499.6,35.0 L502.2,35.8 L504.7,36.7 L507.3,37.5 L509.9,38.3 L512.5,39.1 L515.1,39.8 L517.7,40.6 L520.3,41.3 L522.9,42.1 L525.5,42.8 L528.1,43.5 L530.7,44.2 L533.3,44.8 L536.0,45.5 L538.6,46.1 L541.2,46.7 L543.8,47.3 L546.5,47.9 L549.1,48.4 L551.8,49.0 L554.4,49.5 L557.0,50.0 L559.7,50.5 L562.3,51.0 L565.0,51.5 L567.7,51.9 L570.3,52.4 L573.0,52.8 L575.6,53.2 L578.3,53.6 L581.0,53.9 L583.6,54.3 L586.3,54.6 L589.0,54.9 L591.7,55.3 L594.3,55.5 L597.0,55.8 L599.7,56.1 L602.4,56.3 L605.0,56.5 L607.7,56.7 L610.4,56.9 L613.1,57.1 L615.8,57.2 L618.5,57.4 L621.2,57.5 L623.8,57.6 L626.5,57.7 L629.2,57.8 L631.9,57.8 L634.6,57.9 L637.3,57.9 L640.0,57.9 L642.7,57.9 L645.3,57.9 L648.0,57.8 L650.7,57.8 L653.4,57.7 L656.1,57.6 L658.8,57.5 L661.5,57.4 L664.1,57.2 L666.8,57.1 L669.5,56.9 L672.2,56.7 L674.9,56.5 L677.6,56.3 L680.2,56.1 L682.9,55.8 L685.6,55.5 L688.3,55.3 L690.9,55.0 L693.6,54.6 L696.3,54.3 L699.0,54.0 L701.6,53.6 L704.3,53.2 L707.0,52.8 L709.6,52.4 L712.3,51.9 L714.9,51.5 L717.6,51.0 L720.2,50.5 L722.9,50.1 L725.5,49.5 L728.2,49.0 L730.8,48.5 L733.5,47.9 L736.1,47.3 L738.7,46.7 L741.4,46.1 L744.0,45.5 L746.6,44.8 L749.2,44.2 L751.8,43.5 L754.4,42.8 L757.1,42.1 L759.7,41.4 L762.3,40.6 L764.9,39.9 L767.5,39.1 L770.0,38.3 L772.6,37.5 L775.2,36.7 L777.8,35.8 L780.4,35.0 L782.9,34.1 L785.5,33.2 L788.0,32.3 L790.6,31.4 L793.1,30.5 L795.7,29.5 L798.2,28.6 L800.8,27.6 L803.3,26.6 L805.8,25.6 L808.3,24.5 L810.8,23.5 L813.3,22.4 L815.8,21.3 L818.3,20.2 L820.8,19.1 L823.3,18.0 L825.8,16.9 L828.3,15.7 L830.7,14.5 L833.2,13.4 L835.6,12.2 L838.1,10.9 L840.5,9.7 L843.0,8.4 L845.4,7.2 L847.8,5.9 L850.2,4.6 L852.6,3.3 L855.0,2.0 L857.4,0.6 L859.8,-0.8 L862.2,-2.1 L864.5,-3.5 L866.9,-4.9 L869.3,-6.3 L871.6,-7.8 L873.9,-9.2 L876.3,-10.7 L878.6,-12.2 L880.9,-13.7 L883.2,-15.2 L885.5,-16.7 L887.8,-18.3 L890.1,-19.8 L892.4,-21.4 L894.6,-23.0 L896.9,-24.6 L899.1,-26.2 L901.4,-27.9 L903.6,-29.5 L905.8,-31.2 L908.0,-32.8 L910.2,-34.5 L912.4,-36.3 L914.6,-38.0 L916.8,-39.7 L918.9,-41.5 L921.1,-43.2 L923.2,-45.0 L925.4,-46.8 L927.5,-48.6 L929.6,-50.5 L931.7,-52.3 L933.8,-54.2 L935.9,-56.0 L937.9,-57.9 L940.0,-59.8 L942.0,-61.7 L944.1,-63.6 L946.1,-65.6 L948.1,-67.5 L950.1,-69.5 L952.1,-71.5 L954.1,-73.5 L956.1,-75.5 L958.0,-77.5 L960.0,-79.6 L961.9,-81.6 L963.8,-83.7 L965.8,-85.8 L967.7,-87.9 L969.5,-90.0 L971.4,-92.1 L973.3,-94.2 L975.1,-96.4 L977.0,-98.6 L978.8,-100.7 L980.6,-102.9 L982.4,-105.1 L984.2,-107.3 L986.0,-109.6 L987.7,-111.8 L989.5,-114.1 L991.2,-116.3 L993.0,-118.6 L994.7,-120.9 L996.4,-123.2 L998.0,-125.5 L999.7,-127.9 L1001.4,-130.2 L1003.0,-132.6 L1004.6,-134.9 L1006.2,-137.3 L1007.8,-139.7 L1009.4,-142.1 L1011.0,-144.6 L1012.5,-147.0 L1014.1,-149.4 L1015.6,-151.9 L1017.1,-154.4 L1018.6,-156.8 L1020.1,-159.3 L1021.5,-161.8 L1023.0,-164.3 L1024.4,-166.9 L1025.8,-169.4 L1027.2,-172.0 L1028.6,-174.5 L1030.0,-177.1 L1031.4,-179.7 L1032.7,-182.3 L1034.0,-184.9 L1035.3,-187.5 L1036.6,-190.1 L1037.9,-192.8 L1039.2,-195.4 L1040.4,-198.1 L1041.6,-200.8 L1042.8,-203.4 L1044.0,-206.1 L1045.2,-208.8 M424.1,-329.5 L424.3,-328.0 L424.5,-326.5 L424.8,-325.0 L425.0,-323.5 L425.3,-322.1 L425.5,-320.6 L425.8,-319.1 L426.1,-317.6 L426.4,-316.1 L426.7,-314.7 L427.0,-313.2 L427.4,-311.7 L427.7,-310.2 L428.1,-308.8 L428.4,-307.3 L428.8,-305.9 L429.2,-304.4 L429.6,-303.0 L430.0,-301.5 L430.4,-300.1 L430.8,-298.6 L431.2,-297.2 L431.7,-295.7 L432.1,-294.3 L432.6,-292.9 L433.0,-291.5 L433.5,-290.0 L434.0,-288.6 L434.5,-287.2 L435.0,-285.8 L435.5,-284.4 L436.0,-283.0 L436.6,-281.6 L437.1,-280.2 L437.7,-278.8 L438.2,-277.5 L438.8,-276.1 L439.4,-274.7 L440.0,-273.3 L440.6,-272.0 L441.2,-270.6 L441.8,-269.3 L442.4,-267.9 L443.0,-266.6 L443.7,-265.2 L444.3,-263.9 L445.0,-262.6 L445.7,-261.3 L446.3,-259.9 L447.0,-258.6 L447.7,-257.3 L448.4,-256.0 L449.1,-254.7 L449.8,-253.4 L450.6,-252.1 L451.3,-250.9 L452.1,-249.6 L452.8,-248.3 L453.6,-247.1 L454.3,-245.8 L455.1,-244.5 L455.9,-243.3 L456.7,-242.1 L457.5,-240.8 L458.3,-239.6 L459.1,-238.4 L460.0,-237.1 L460.8,-235.9 L461.6,-234.7 L462.5,-233.5 L463.3,-232.3 L464.2,-231.2 L465.1,-230.0 L466.0,-228.8 L466.8,-227.6 L467.7,-226.5 L468.6,-225.3 L469.6,-224.2 L470.5,-223.0 L471.4,-221.9 L472.3,-220.8 L473.3,-219.6 L474.2,-218.5 L475.2,-217.4 L476.1,-216.3 L477.1,-215.2 L478.1,-214.1 L479.0,-213.1 L480.0,-212.0 L481.0,-210.9 L482.0,-209.9 L483.0,-208.8 L484.1,-207.8 L485.1,-206.7 L486.1,-205.7 L487.1,-204.7 L488.2,-203.7 L489.2,-202.6 L490.3,-201.6 L491.3,-200.6 L492.4,-199.7 L493.5,-198.7 L494.6,-197.7 L495.6,-196.7 L496.7,-195.8 L497.8,-194.8 L498.9,-193.9 L500.0,-193.0 L501.2,-192.0 L502.3,-191.1 L503.4,-190.2 L504.5,-189.3 L505.7,-188.4 L506.8,-187.5 L508.0,-186.6 L509.1,-185.8 L510.3,-184.9 L511.4,-184.0 L512.6,-183.2 L513.8,-182.4 L515.0,-181.5 L516.2,-180.7 L517.3,-179.9 L518.5,-179.1 L519.7,-178.3 L520.9,-177.5 L522.2,-176.7 L523.4,-175.9 L524.6,-175.2 L525.8,-174.4 L527.1,-173.7 L528.3,-172.9 L529.5,-172.2 L530.8,-171.5 L532.0,-170.7 L533.3,-170.0 L534.5,-169.3 L535.8,-168.6 L537.1,-168.0 L538.3,-167.3 L539.6,-166.6 L540.9,-166.0 L542.2,-165.3 L543.4,-164.7 L544.7,-164.0 L546.0,-163.4 L547.3,-162.8 L548.6,-162.2 L549.9,-161.6 L551.2,-161.0 L552.5,-160.4 L553.9,-159.9 L555.2,-159.3 L556.5,-158.7 L557.8,-158.2 L559.2,-157.7 L560.5,-157.1 L561.8,-156.6 L563.2,-156.1 L564.5,-155.6 L565.8,-155.1 L567.2,-154.6 L568.5,-154.2 L569.9,-153.7 L571.3,-153.2 L572.6,-152.8 L574.0,-152.4 L575.3,-151.9 L576.7,-151.5 L578.1,-151.1 L579.4,-150.7 L580.8,-150.3 L582.2,-149.9 L583.6,-149.6 L585.0,-149.2 L586.3,-148.8 L587.7,-148.5 L589.1,-148.1 L590.5,-147.8 L591.9,-147.5 L593.3,-147.2 L594.7,-146.9 L596.1,-146.6 L597.5,-146.3 L598.9,-146.0 L600.3,-145.8 L601.7,-145.5 L603.1,-145.3 L604.5,-145.0 L605.9,-144.8 L607.3,-144.6 L608.7,-144.4 L610.1,-144.2 L611.6,-144.0 L613.0,-143.8 L614.4,-143.6 L615.8,-143.5 L617.2,-143.3 L618.6,-143.2 L620.1,-143.0 L621.5,-142.9 L622.9,-142.8 L624.3,-142.7 L625.7,-142.6 L627.2,-142.5 L628.6,-142.4 L630.0,-142.4 L631.4,-142.3 L632.9,-142.2 L634.3,-142.2 L635.7,-142.2 L637.1,-142.1 L638.6,-142.1 L640.0,-142.1 L641.4,-142.1 L642.8,-142.1 L644.3,-142.2 L645.7,-142.2 L647.1,-142.2 L648.5,-142.3 L650.0,-142.4 L651.4,-142.4 L652.8,-142.5 L654.2,-142.6 L655.6,-142.7 L657.1,-142.8 L658.5,-142.9 L659.9,-143.0 L661.3,-143.2 L662.7,-143.3 L664.2,-143.5 L665.6,-143.6 L667.0,-143.8 L668.4,-144.0 L669.8,-144.2 L671.2,-144.4 L672.6,-144.6 L674.1,-144.8 L675.5,-145.0 L676.9,-145.3 L678.3,-145.5 L679.7,-145.8 L681.1,-146.0 L682.5,-146.3 L683.9,-146.6 L685.3,-146.9 L686.7,-147.2 L688.1,-147.5 L689.5,-147.8 L690.8,-148.1 L692.2,-148.5 L693.6,-148.8 L695.0,-149.2 L696.4,-149.5 L697.8,-149.9 L699.1,-150.3 L700.5,-150.7 L701.9,-151.1 L703.3,-151.5 L704.6,-151.9 L706.0,-152.4 L707.4,-152.8 L708.7,-153.2 L710.1,-153.7 L711.4,-154.2 L712.8,-154.6 L714.1,-155.1 L715.5,-155.6 L716.8,-156.1 L718.1,-156.6 L719.5,-157.1 L720.8,-157.7 L722.1,-158.2 L723.5,-158.7 L724.8,-159.3 L726.1,-159.8 L727.4,-160.4 L728.7,-161.0 L730.0,-161.6 L731.3,-162.2 L732.6,-162.8 L733.9,-163.4 L735.2,-164.0 L736.5,-164.7 L737.8,-165.3 L739.1,-165.9 L740.4,-166.6 L741.6,-167.3 L742.9,-167.9 L744.2,-168.6 L745.4,-169.3 L746.7,-170.0 L748.0,-170.7 L749.2,-171.4 L750.4,-172.2 L751.7,-172.9 L752.9,-173.6 L754.1,-174.4 L755.4,-175.1 L756.6,-175.9 L757.8,-176.7 L759.0,-177.5 L760.2,-178.3 L761.4,-179.1 L762.6,-179.9 L763.8,-180.7 L765.0,-181.5 L766.2,-182.3 L767.4,-183.2 L768.5,-184.0 L769.7,-184.9 L770.8,-185.7 L772.0,-186.6 L773.2,-187.5 L774.3,-188.4 L775.4,-189.3 L776.6,-190.2 L777.7,-191.1 L778.8,-192.0 L779.9,-192.9 L781.0,-193.9 L782.1,-194.8 L783.2,-195.8 L784.3,-196.7 L785.4,-197.7 L786.5,-198.7 L787.6,-199.6 L788.6,-200.6 L789.7,-201.6 L790.7,-202.6 L791.8,-203.6 L792.8,-204.6 L793.9,-205.7 L794.9,-206.7 L795.9,-207.7 L796.9,-208.8 L797.9,-209.8 L798.9,-210.9 L799.9,-212.0 L800.9,-213.0 L801.9,-214.1 L802.9,-215.2 L803.9,-216.3 L804.8,-217.4 L805.8,-218.5 L806.7,-219.6 L807.7,-220.7 L808.6,-221.9 L809.5,-223.0 L810.4,-224.1 L811.3,-225.3 L812.2,-226.4 L813.1,-227.6 L814.0,-228.8 L814.9,-229.9 L815.8,-231.1 L816.6,-232.3 L817.5,-233.5 L818.3,-234.7 L819.2,-235.9 L820.0,-237.1 L820.8,-238.3 L821.7,-239.6 L822.5,-240.8 L823.3,-242.0 L824.1,-243.3 L824.9,-244.5 L825.6,-245.8 L826.4,-247.0 L827.2,-248.3 L827.9,-249.6 L828.7,-250.8 L829.4,-252.1 L830.1,-253.4 L830.9,-254.7 L831.6,-256.0 L832.3,-257.3 L833.0,-258.6 L833.6,-259.9 L834.3,-261.2 L835.0,-262.5 L835.7,-263.9 L836.3,-265.2 L836.9,-266.5 L837.6,-267.9 L838.2,-269.2 L838.8,-270.6 L839.4,-272.0 L840.0,-273.3 L840.6,-274.7 L841.2,-276.1 L841.8,-277.4 L842.3,-278.8 L842.9,-280.2 L843.4,-281.6 L844.0,-283.0 L844.5,-284.4 L845.0,-285.8 L845.5,-287.2 M-743.6,767.2 L-739.4,761.4 L-735.1,755.6 L-730.9,749.9 L-726.6,744.2 L-722.4,738.5 L-718.1,732.8 L-713.9,727.1 L-709.6,721.5 L-705.3,715.9 L-701.1,710.3 L-696.8,704.7 L-692.5,699.2 L-688.3,693.6 L-684.0,688.1 L-679.7,682.6 L-675.4,677.2 L-671.2,671.7 L-666.9,666.3 L-662.6,660.8 L-658.3,655.5 L-654.0,650.1 L-649.7,644.7 L-645.4,639.4 L-641.1,634.1 L-636.8,628.8 L-632.6,623.5 L-628.3,618.2 L-624.0,613.0 L-619.6,607.8 L-615.3,602.6 L-611.0,597.4 L-606.7,592.2 L-602.4,587.0 L-598.1,581.9 L-593.8,576.8 L-589.5,571.7 L-585.2,566.6 L-580.8,561.6 L-576.5,556.5 L-572.2,551.5 L-567.9,546.5 L-563.5,541.5 L-559.2,536.5 L-554.9,531.5 L-550.6,526.6 L-546.2,521.7 L-541.9,516.8 L-537.6,511.9 L-533.2,507.0 L-528.9,502.1 L-524.5,497.3 L-520.2,492.5 L-515.9,487.7 L-511.5,482.9 L-507.2,478.1 L-502.8,473.3 L-498.5,468.6 L-494.1,463.8 L-489.7,459.1 L-485.4,454.4 L-481.0,449.7 L-476.7,445.1 L-472.3,440.4 L-467.9,435.8 L-463.6,431.2 L-459.2,426.5 L-454.8,422.0 L-450.5,417.4 L-446.1,412.8 L-441.7,408.3 L-437.4,403.7 L-433.0,399.2 L-428.6,394.7 L-424.2,390.2 L-419.8,385.7 L-415.5,381.3 L-411.1,376.8 L-406.7,372.4 L-402.3,368.0 L-397.9,363.6 L-393.5,359.2 L-389.1,354.8 L-384.7,350.4 L-380.3,346.1 L-375.9,341.8 L-371.5,337.4 L-367.1,333.1 L-362.7,328.8 L-358.3,324.5 L-353.9,320.3 L-349.5,316.0 L-345.1,311.8 L-340.7,307.6 L-336.2,303.3 L-331.8,299.1 L-327.4,294.9 L-323.0,290.8 L-318.6,286.6 L-314.1,282.4 L-309.7,278.3 L-305.3,274.2 L-300.8,270.1 L-296.4,266.0 L-292.0,261.9 L-287.5,257.8 L-283.1,253.7 L-278.7,249.7 L-274.2,245.6 L-269.8,241.6 L-265.3,237.6 L-260.9,233.6 L-256.4,229.6 L-252.0,225.6 L-247.5,221.6 L-243.1,217.7 L-238.6,213.7 L-234.1,209.8 L-229.7,205.9 L-225.2,202.0 L-220.7,198.1 L-216.3,194.2 L-211.8,190.3 L-207.3,186.5 L-202.8,182.6 L-198.4,178.8 L-193.9,174.9 L-189.4,171.1 L-184.9,167.3 L-180.4,163.5 L-175.9,159.7 L-171.4,155.9 L-166.9,152.2 L-162.4,148.4 L-157.9,144.7 L-153.4,140.9 L-148.9,137.2 L-144.4,133.5 L-139.9,129.8 L-135.4,126.1 L-130.9,122.4 L-126.3,118.8 L-121.8,115.1 L-117.3,111.5 L-112.8,107.8 L-108.2,104.2 L-103.7,100.6 L-99.2,97.0 L-94.6,93.4 L-90.1,89.8 L-85.5,86.2 L-81.0,82.6 L-76.5,79.1 L-71.9,75.5 L-67.3,72.0 L-62.8,68.5 L-58.2,65.0 L-53.7,61.4 L-49.1,57.9 L-44.5,54.5 L-40.0,51.0 L-35.4,47.5 L-30.8,44.1 L-26.2,40.6 L-21.6,37.2 L-17.0,33.7 L-12.5,30.3 L-7.9,26.9 L-3.3,23.5 L1.3,20.1 L5.9,16.7 L10.5,13.3 L15.2,10.0 L19.8,6.6 L24.4,3.3 L29.0,-0.1 L33.6,-3.4 L38.3,-6.7 L42.9,-10.0 L47.5,-13.3 L52.2,-16.6 L56.8,-19.9 L61.4,-23.2 L66.1,-26.5 L70.7,-29.7 L75.4,-33.0 L80.1,-36.2 L84.7,-39.4 L89.4,-42.7 L94.1,-45.9 L98.7,-49.1 L103.4,-52.3 L108.1,-55.5 L112.8,-58.7 L117.5,-61.8 L122.2,-65.0 L126.9,-68.1 L131.6,-71.3 L136.3,-74.4 L141.0,-77.6 L145.7,-80.7 L150.4,-83.8 L155.1,-86.9 L159.9,-90.0 L164.6,-93.1 L169.3,-96.2 L174.1,-99.2 L178.8,-102.3 L183.5,-105.4 L188.3,-108.4 L193.1,-111.5 L197.8,-114.5 L202.6,-117.5 L207.3,-120.5 L212.1,-123.5 L216.9,-126.5 L221.7,-129.5 L226.5,-132.5 L231.3,-135.5 L236.1,-138.5 L240.9,-141.4 L245.7,-144.4 L250.5,-147.3 L255.3,-150.2 L260.1,-153.2 L264.9,-156.1 L269.8,-159.0 L274.6,-161.9 L279.4,-164.8 L284.3,-167.7 L289.1,-170.6 L294.0,-173.5 L298.8,-176.3 L303.7,-179.2 L308.6,-182.1 L313.4,-184.9 L318.3,-187.7 L323.2,-190.6 L328.1,-193.4 L333.0,-196.2 L337.9,-199.0 L342.8,-201.8 L347.7,-204.6 L352.6,-207.4 L357.6,-210.2 L362.5,-212.9 L367.4,-215.7 L372.4,-218.5 L377.3,-221.2 L382.3,-223.9 L387.2,-226.7 L392.2,-229.4 L397.2,-232.1 L402.1,-234.8 L407.1,-237.5 L412.1,-240.2 L417.1,-242.9 L422.1,-245.6 L427.1,-248.3 L432.1,-251.0 L437.1,-253.6 L442.1,-256.3 L447.2,-258.9 L452.2,-261.6 L457.3,-264.2 L462.3,-266.8 L467.4,-269.4 L472.4,-272.0 L477.5,-274.6 L482.6,-277.2 L487.6,-279.8 L492.7,-282.4 L497.8,-285.0 L502.9,-287.6 L508.0,-290.1 L513.1,-292.7 L518.3,-295.2 L523.4,-297.8 L528.5,-300.3 L533.7,-302.8 L538.8,-305.3 L544.0,-307.8 L549.1,-310.4 L554.3,-312.8 L559.5,-315.3 L564.7,-317.8 L569.9,-320.3 L575.0,-322.8 L580.3,-325.2 L585.5,-327.7 L590.7,-330.1 L595.9,-332.6 L601.2,-335.0 L606.4,-337.4 L611.6,-339.9 L616.9,-342.3 L622.2,-344.7 L627.4,-347.1 L632.7,-349.5 L638.0,-351.8 M-529.7,906.5 L-526.4,900.7 L-523.0,895.0 L-519.7,889.2 L-516.3,883.5 L-513.0,877.7 L-509.6,872.0 L-506.2,866.3 L-502.9,860.7 L-499.5,855.0 L-496.1,849.4 L-492.8,843.7 L-489.4,838.1 L-486.0,832.6 L-482.6,827.0 L-479.2,821.4 L-475.8,815.9 L-472.4,810.4 L-469.0,804.8 L-465.6,799.4 L-462.2,793.9 L-458.8,788.4 L-455.4,783.0 L-452.0,777.5 L-448.6,772.1 L-445.1,766.7 L-441.7,761.3 L-438.3,756.0 L-434.9,750.6 L-431.4,745.3 L-428.0,739.9 L-424.6,734.6 L-421.1,729.3 L-417.7,724.1 L-414.2,718.8 L-410.8,713.5 L-407.3,708.3 L-403.9,703.1 L-400.4,697.9 L-397.0,692.7 L-393.5,687.5 L-390.0,682.3 L-386.5,677.2 L-383.1,672.0 L-379.6,666.9 L-376.1,661.8 L-372.6,656.7 L-369.2,651.6 L-365.7,646.5 L-362.2,641.5 L-358.7,636.4 L-355.2,631.4 L-351.7,626.4 L-348.2,621.4 L-344.7,616.4 L-341.2,611.4 L-337.7,606.4 L-334.2,601.5 L-330.6,596.5 L-327.1,591.6 L-323.6,586.7 L-320.1,581.7 L-316.6,576.9 L-313.0,572.0 L-309.5,567.1 L-306.0,562.2 L-302.4,557.4 L-298.9,552.6 L-295.3,547.7 L-291.8,542.9 L-288.2,538.1 L-284.7,533.3 L-281.1,528.6 L-277.6,523.8 L-274.0,519.0 L-270.4,514.3 L-266.9,509.6 L-263.3,504.8 L-259.7,500.1 L-256.1,495.4 L-252.6,490.8 L-249.0,486.1 L-245.4,481.4 L-241.8,476.8 L-238.2,472.1 L-234.6,467.5 L-231.0,462.9 L-227.4,458.3 L-223.8,453.7 L-220.2,449.1 L-216.6,444.5 L-213.0,439.9 L-209.4,435.4 L-205.8,430.8 L-202.1,426.3 L-198.5,421.7 L-194.9,417.2 L-191.2,412.7 L-187.6,408.2 L-184.0,403.7 L-180.3,399.2 L-176.7,394.8 L-173.0,390.3 L-169.4,385.9 L-165.7,381.4 L-162.1,377.0 L-158.4,372.6 L-154.7,368.2 L-151.1,363.8 L-147.4,359.4 L-143.7,355.0 L-140.0,350.6 L-136.4,346.2 L-132.7,341.9 L-129.0,337.5 L-125.3,333.2 L-121.6,328.9 L-117.9,324.6 L-114.2,320.2 L-110.5,315.9 L-106.8,311.6 L-103.1,307.4 L-99.4,303.1 L-95.6,298.8 L-91.9,294.6 L-88.2,290.3 L-84.5,286.1 L-80.7,281.8 L-77.0,277.6 L-73.3,273.4 L-69.5,269.2 L-65.8,265.0 L-62.0,260.8 L-58.3,256.6 L-54.5,252.4 L-50.7,248.3 L-47.0,244.1 L-43.2,240.0 L-39.4,235.8 L-35.6,231.7 L-31.9,227.6 L-28.1,223.4 L-24.3,219.3 L-20.5,215.2 L-16.7,211.1 L-12.9,207.0 L-9.1,203.0 L-5.3,198.9 L-1.5,194.8 L2.4,190.8 L6.2,186.7 L10.0,182.7 L13.8,178.6 L17.7,174.6 L21.5,170.6 L25.4,166.6 L29.2,162.5 L33.1,158.5 L36.9,154.6 L40.8,150.6 L44.6,146.6 L48.5,142.6 L52.4,138.7 L56.3,134.7 L60.1,130.7 L64.0,126.8 L67.9,122.9 L71.8,118.9 L75.7,115.0 L79.6,111.1 L83.5,107.2 L87.5,103.3 L91.4,99.4 L95.3,95.5 L99.2,91.6 L103.2,87.7 L107.1,83.9 L111.0,80.0 L115.0,76.1 L118.9,72.3 L122.9,68.4 L126.8,64.6 L130.8,60.8 L134.8,56.9 L138.8,53.1 L142.7,49.3 L146.7,45.5 L150.7,41.7 L154.7,37.9 L158.7,34.1 L162.7,30.3 L166.7,26.5 L170.8,22.8 L174.8,19.0 L178.8,15.2 L182.8,11.5 L186.9,7.7 L190.9,4.0 L195.0,0.3 L199.0,-3.5 L203.1,-7.2 L207.1,-10.9 L211.2,-14.6 L215.3,-18.3 L219.4,-22.0 L223.5,-25.7 L227.6,-29.4 L231.7,-33.1 L235.8,-36.8 L239.9,-40.5 L244.0,-44.1 L248.1,-47.8 L252.2,-51.5 L256.4,-55.1 L260.5,-58.8 L264.7,-62.4 L268.8,-66.0 L273.0,-69.7 L277.1,-73.3 L281.3,-76.9 L285.5,-80.5 L289.7,-84.1 L293.8,-87.7 L298.0,-91.3 L302.2,-94.9 L306.4,-98.5 L310.7,-102.1 L314.9,-105.7 L319.1,-109.3 L323.3,-112.8 L327.6,-116.4 L331.8,-120.0 L336.1,-123.5 L340.3,-127.1 L344.6,-130.6 L348.9,-134.2 L353.1,-137.7 L357.4,-141.2 L361.7,-144.8 L366.0,-148.3 L370.3,-151.8 L374.6,-155.3 L379.0,-158.8 L383.3,-162.3 L387.6,-165.8 L392.0,-169.3 L396.3,-172.8 L400.7,-176.3 L405.0,-179.8 L409.4,-183.2 L413.8,-186.7 L418.2,-190.2 L422.6,-193.6 L427.0,-197.1 L431.4,-200.6 L435.8,-204.0 L440.2,-207.4 L444.6,-210.9 L449.1,-214.3 L453.5,-217.7 L458.0,-221.2 L462.4,-224.6 L466.9,-228.0 L471.4,-231.4 L475.9,-234.8 L480.3,-238.2 L484.8,-241.6 L489.4,-245.0 L493.9,-248.4 L498.4,-251.8 L502.9,-255.2 L507.5,-258.6 L512.0,-261.9 L516.6,-265.3 L521.1,-268.7 L525.7,-272.0 L530.3,-275.4 L534.9,-278.8 L539.5,-282.1 L544.1,-285.5 L548.7,-288.8 L553.4,-292.1 L558.0,-295.5 L562.6,-298.8 L567.3,-302.1 L571.9,-305.4 L576.6,-308.8 L581.3,-312.1 L586.0,-315.4 L590.7,-318.7 L595.4,-322.0 L600.1,-325.3 L604.8,-328.6 L609.6,-331.9 L614.3,-335.1 L619.1,-338.4 L623.8,-341.7 L628.6,-345.0 L633.4,-348.2 L638.2,-351.5 M-316.5,1015.3 L-313.9,1009.5 L-311.3,1003.8 L-308.7,998.1 L-306.2,992.4 L-303.6,986.7 L-301.0,981.0 L-298.4,975.3 L-295.8,969.6 L-293.2,964.0 L-290.5,958.4 L-287.9,952.7 L-285.3,947.1 L-282.7,941.5 L-280.1,936.0 L-277.4,930.4 L-274.8,924.8 L-272.2,919.3 L-269.5,913.8 L-266.9,908.3 L-264.3,902.8 L-261.6,897.3 L-259.0,891.8 L-256.3,886.3 L-253.6,880.9 L-251.0,875.4 L-248.3,870.0 L-245.7,864.6 L-243.0,859.2 L-240.3,853.8 L-237.6,848.4 L-235.0,843.1 L-232.3,837.7 L-229.6,832.4 L-226.9,827.0 L-224.2,821.7 L-221.5,816.4 L-218.8,811.1 L-216.1,805.8 L-213.4,800.6 L-210.7,795.3 L-208.0,790.0 L-205.3,784.8 L-202.6,779.6 L-199.9,774.4 L-197.1,769.1 L-194.4,764.0 L-191.7,758.8 L-188.9,753.6 L-186.2,748.4 L-183.5,743.3 L-180.7,738.1 L-178.0,733.0 L-175.2,727.9 L-172.5,722.7 L-169.7,717.6 L-167.0,712.6 L-164.2,707.5 L-161.4,702.4 L-158.7,697.3 L-155.9,692.3 L-153.1,687.2 L-150.4,682.2 L-147.6,677.2 L-144.8,672.2 L-142.0,667.1 L-139.2,662.1 L-136.4,657.2 L-133.6,652.2 L-130.8,647.2 L-128.0,642.3 L-125.2,637.3 L-122.4,632.4 L-119.6,627.4 L-116.8,622.5 L-114.0,617.6 L-111.1,612.7 L-108.3,607.8 L-105.5,602.9 L-102.6,598.0 L-99.8,593.1 L-97.0,588.3 L-94.1,583.4 L-91.3,578.6 L-88.4,573.7 L-85.6,568.9 L-82.7,564.1 L-79.9,559.3 L-77.0,554.5 L-74.1,549.7 L-71.3,544.9 L-68.4,540.1 L-65.5,535.3 L-62.6,530.5 L-59.7,525.8 L-56.8,521.0 L-54.0,516.3 L-51.1,511.5 L-48.2,506.8 L-45.3,502.1 L-42.3,497.4 L-39.4,492.7 L-36.5,488.0 L-33.6,483.3 L-30.7,478.6 L-27.8,473.9 L-24.8,469.2 L-21.9,464.6 L-19.0,459.9 L-16.0,455.3 L-13.1,450.6 L-10.1,446.0 L-7.2,441.4 L-4.2,436.7 L-1.3,432.1 L1.7,427.5 L4.7,422.9 L7.6,418.3 L10.6,413.7 L13.6,409.1 L16.6,404.5 L19.5,400.0 L22.5,395.4 L25.5,390.9 L28.5,386.3 L31.5,381.8 L34.5,377.2 L37.5,372.7 L40.5,368.1 L43.6,363.6 L46.6,359.1 L49.6,354.6 L52.6,350.1 L55.7,345.6 L58.7,341.1 L61.8,336.6 L64.8,332.1 L67.8,327.6 L70.9,323.2 L74.0,318.7 L77.0,314.2 L80.1,309.8 L83.2,305.3 L86.2,300.9 L89.3,296.5 L92.4,292.0 L95.5,287.6 L98.6,283.2 L101.7,278.8 L104.8,274.3 L107.9,269.9 L111.0,265.5 L114.1,261.1 L117.2,256.7 L120.4,252.3 L123.5,248.0 L126.6,243.6 L129.8,239.2 L132.9,234.8 L136.1,230.5 L139.2,226.1 L142.4,221.8 L145.5,217.4 L148.7,213.1 L151.9,208.7 L155.1,204.4 L158.2,200.0 L161.4,195.7 L164.6,191.4 L167.8,187.1 L171.0,182.7 L174.2,178.4 L177.4,174.1 L180.7,169.8 L183.9,165.5 L187.1,161.2 L190.3,156.9 L193.6,152.6 L196.8,148.4 L200.1,144.1 L203.3,139.8 L206.6,135.5 L209.9,131.3 L213.1,127.0 L216.4,122.7 L219.7,118.5 L223.0,114.2 L226.3,110.0 L229.6,105.7 L232.9,101.5 L236.2,97.2 L239.5,93.0 L242.8,88.8 L246.1,84.5 L249.5,80.3 L252.8,76.1 L256.1,71.9 L259.5,67.6 L262.8,63.4 L266.2,59.2 L269.6,55.0 L272.9,50.8 L276.3,46.6 L279.7,42.4 L283.1,38.2 L286.5,34.0 L289.9,29.8 L293.3,25.6 L296.7,21.5 L300.1,17.3 L303.6,13.1 L307.0,8.9 L310.4,4.8 L313.9,0.6 L317.3,-3.6 L320.8,-7.7 L324.2,-11.9 L327.7,-16.1 L331.2,-20.2 L334.7,-24.4 L338.2,-28.5 L341.7,-32.7 L345.2,-36.8 L348.7,-41.0 L352.2,-45.1 L355.7,-49.3 L359.2,-53.4 L362.8,-57.5 L366.3,-61.7 L369.9,-65.8 L373.4,-69.9 L377.0,-74.1 L380.6,-78.2 L384.2,-82.3 L387.7,-86.4 L391.3,-90.5 L394.9,-94.7 L398.6,-98.8 L402.2,-102.9 L405.8,-107.0 L409.4,-111.1 L413.1,-115.2 L416.7,-119.3 L420.4,-123.4 L424.0,-127.5 L427.7,-131.6 L431.4,-135.7 L435.0,-139.8 L438.7,-143.9 L442.4,-148.0 L446.1,-152.1 L449.9,-156.2 L453.6,-160.3 L457.3,-164.4 L461.1,-168.4 L464.8,-172.5 L468.6,-176.6 L472.3,-180.7 L476.1,-184.8 L479.9,-188.9 L483.7,-192.9 L487.5,-197.0 L491.3,-201.1 L495.1,-205.2 L498.9,-209.2 L502.7,-213.3 L506.6,-217.4 L510.4,-221.4 L514.3,-225.5 L518.1,-229.6 L522.0,-233.6 L525.9,-237.7 L529.8,-241.8 L533.7,-245.8 L537.6,-249.9 L541.5,-254.0 L545.4,-258.0 L549.4,-262.1 L553.3,-266.1 L557.3,-270.2 L561.2,-274.3 L565.2,-278.3 L569.2,-282.4 L573.2,-286.4 L577.2,-290.5 L581.2,-294.5 L585.2,-298.6 L589.3,-302.6 L593.3,-306.7 L597.4,-310.7 L601.4,-314.8 L605.5,-318.8 L609.6,-322.9 L613.7,-326.9 L617.8,-331.0 L621.9,-335.0 L626.0,-339.1 L630.1,-343.1 L634.3,-347.2 L638.4,-351.2 M-104.9,1097.9 L-103.0,1092.2 L-101.1,1086.5 L-99.2,1080.8 L-97.2,1075.1 L-95.3,1069.5 L-93.4,1063.8 L-91.4,1058.2 L-89.5,1052.5 L-87.6,1046.9 L-85.6,1041.3 L-83.7,1035.7 L-81.7,1030.2 L-79.8,1024.6 L-77.8,1019.0 L-75.8,1013.5 L-73.9,1007.9 L-71.9,1002.4 L-69.9,996.9 L-68.0,991.4 L-66.0,985.9 L-64.0,980.4 L-62.0,974.9 L-60.1,969.5 L-58.1,964.0 L-56.1,958.6 L-54.1,953.1 L-52.1,947.7 L-50.1,942.3 L-48.1,936.9 L-46.1,931.5 L-44.1,926.1 L-42.1,920.8 L-40.1,915.4 L-38.1,910.0 L-36.0,904.7 L-34.0,899.4 L-32.0,894.0 L-30.0,888.7 L-27.9,883.4 L-25.9,878.1 L-23.9,872.8 L-21.8,867.5 L-19.8,862.3 L-17.7,857.0 L-15.7,851.7 L-13.6,846.5 L-11.6,841.2 L-9.5,836.0 L-7.5,830.8 L-5.4,825.6 L-3.4,820.4 L-1.3,815.2 L0.8,810.0 L2.9,804.8 L4.9,799.6 L7.0,794.5 L9.1,789.3 L11.2,784.2 L13.3,779.0 L15.4,773.9 L17.5,768.8 L19.5,763.6 L21.6,758.5 L23.8,753.4 L25.9,748.3 L28.0,743.2 L30.1,738.2 L32.2,733.1 L34.3,728.0 L36.4,723.0 L38.6,717.9 L40.7,712.9 L42.8,707.8 L44.9,702.8 L47.1,697.8 L49.2,692.7 L51.4,687.7 L53.5,682.7 L55.7,677.7 L57.8,672.7 L60.0,667.8 L62.1,662.8 L64.3,657.8 L66.5,652.8 L68.6,647.9 L70.8,642.9 L73.0,638.0 L75.1,633.0 L77.3,628.1 L79.5,623.2 L81.7,618.2 L83.9,613.3 L86.1,608.4 L88.3,603.5 L90.5,598.6 L92.7,593.7 L94.9,588.8 L97.1,583.9 L99.3,579.0 L101.5,574.2 L103.8,569.3 L106.0,564.4 L108.2,559.6 L110.4,554.7 L112.7,549.9 L114.9,545.0 L117.2,540.2 L119.4,535.4 L121.6,530.5 L123.9,525.7 L126.2,520.9 L128.4,516.1 L130.7,511.3 L132.9,506.4 L135.2,501.6 L137.5,496.9 L139.8,492.1 L142.0,487.3 L144.3,482.5 L146.6,477.7 L148.9,472.9 L151.2,468.2 L153.5,463.4 L155.8,458.6 L158.1,453.9 L160.4,449.1 L162.7,444.4 L165.0,439.6 L167.4,434.9 L169.7,430.2 L172.0,425.4 L174.4,420.7 L176.7,416.0 L179.0,411.2 L181.4,406.5 L183.7,401.8 L186.1,397.1 L188.4,392.4 L190.8,387.7 L193.2,383.0 L195.5,378.3 L197.9,373.6 L200.3,368.9 L202.7,364.2 L205.0,359.5 L207.4,354.8 L209.8,350.2 L212.2,345.5 L214.6,340.8 L217.0,336.1 L219.4,331.5 L221.9,326.8 L224.3,322.1 L226.7,317.5 L229.1,312.8 L231.6,308.2 L234.0,303.5 L236.4,298.9 L238.9,294.2 L241.3,289.6 L243.8,285.0 L246.2,280.3 L248.7,275.7 L251.2,271.0 L253.6,266.4 L256.1,261.8 L258.6,257.2 L261.1,252.5 L263.6,247.9 L266.1,243.3 L268.6,238.7 L271.1,234.0 L273.6,229.4 L276.1,224.8 L278.6,220.2 L281.1,215.6 L283.7,211.0 L286.2,206.4 L288.7,201.8 L291.3,197.2 L293.8,192.6 L296.4,188.0 L298.9,183.4 L301.5,178.8 L304.1,174.2 L306.6,169.6 L309.2,165.0 L311.8,160.4 L314.4,155.8 L317.0,151.2 L319.6,146.6 L322.2,142.0 L324.8,137.5 L327.4,132.9 L330.0,128.3 L332.6,123.7 L335.3,119.1 L337.9,114.5 L340.6,110.0 L343.2,105.4 L345.9,100.8 L348.5,96.2 L351.2,91.6 L353.8,87.1 L356.5,82.5 L359.2,77.9 L361.9,73.3 L364.6,68.8 L367.3,64.2 L370.0,59.6 L372.7,55.0 L375.4,50.5 L378.1,45.9 L380.9,41.3 L383.6,36.8 L386.3,32.2 L389.1,27.6 L391.8,23.0 L394.6,18.5 L397.3,13.9 L400.1,9.3 L402.9,4.7 L405.7,0.2 L408.5,-4.4 L411.3,-9.0 L414.1,-13.6 L416.9,-18.1 L419.7,-22.7 L422.5,-27.3 L425.3,-31.9 L428.2,-36.4 L431.0,-41.0 L433.9,-45.6 L436.7,-50.2 L439.6,-54.7 L442.4,-59.3 L445.3,-63.9 L448.2,-68.5 L451.1,-73.1 L454.0,-77.6 L456.9,-82.2 L459.8,-86.8 L462.7,-91.4 L465.6,-96.0 L468.6,-100.6 L471.5,-105.2 L474.4,-109.7 L477.4,-114.3 L480.4,-118.9 L483.3,-123.5 L486.3,-128.1 L489.3,-132.7 L492.3,-137.3 L495.3,-141.9 L498.3,-146.5 L501.3,-151.1 L504.3,-155.7 L507.3,-160.3 L510.4,-164.9 L513.4,-169.5 L516.5,-174.1 L519.5,-178.7 L522.6,-183.4 L525.7,-188.0 L528.7,-192.6 L531.8,-197.2 L534.9,-201.8 L538.0,-206.5 L541.2,-211.1 L544.3,-215.7 L547.4,-220.3 L550.5,-225.0 L553.7,-229.6 L556.9,-234.2 L560.0,-238.9 L563.2,-243.5 L566.4,-248.2 L569.6,-252.8 L572.8,-257.4 L576.0,-262.1 L579.2,-266.8 L582.4,-271.4 L585.7,-276.1 L588.9,-280.7 L592.2,-285.4 L595.4,-290.1 L598.7,-294.7 L602.0,-299.4 L605.3,-304.1 L608.6,-308.7 L611.9,-313.4 L615.2,-318.1 L618.5,-322.8 L621.9,-327.5 L625.2,-332.2 L628.6,-336.9 L632.0,-341.6 L635.3,-346.3 L638.7,-351.0 M104.8,1157.5 L106.1,1151.9 L107.4,1146.2 L108.8,1140.6 L110.1,1134.9 L111.4,1129.3 L112.8,1123.7 L114.1,1118.1 L115.5,1112.5 L116.8,1106.9 L118.2,1101.4 L119.5,1095.8 L120.9,1090.3 L122.2,1084.7 L123.6,1079.2 L125.0,1073.7 L126.3,1068.2 L127.7,1062.7 L129.1,1057.2 L130.4,1051.7 L131.8,1046.2 L133.2,1040.7 L134.6,1035.3 L136.0,1029.8 L137.3,1024.4 L138.7,1018.9 L140.1,1013.5 L141.5,1008.1 L142.9,1002.7 L144.3,997.3 L145.7,991.9 L147.1,986.5 L148.5,981.1 L149.9,975.8 L151.3,970.4 L152.7,965.1 L154.1,959.7 L155.5,954.4 L156.9,949.1 L158.4,943.7 L159.8,938.4 L161.2,933.1 L162.6,927.8 L164.1,922.5 L165.5,917.2 L166.9,912.0 L168.4,906.7 L169.8,901.4 L171.2,896.2 L172.7,890.9 L174.1,885.7 L175.6,880.4 L177.0,875.2 L178.5,870.0 L179.9,864.8 L181.4,859.6 L182.8,854.4 L184.3,849.2 L185.7,844.0 L187.2,838.8 L188.7,833.6 L190.1,828.4 L191.6,823.3 L193.1,818.1 L194.6,813.0 L196.0,807.8 L197.5,802.7 L199.0,797.5 L200.5,792.4 L202.0,787.3 L203.5,782.2 L205.0,777.1 L206.5,771.9 L208.0,766.8 L209.5,761.7 L211.0,756.7 L212.5,751.6 L214.0,746.5 L215.5,741.4 L217.0,736.3 L218.5,731.3 L220.0,726.2 L221.6,721.1 L223.1,716.1 L224.6,711.0 L226.1,706.0 L227.7,701.0 L229.2,695.9 L230.7,690.9 L232.3,685.9 L233.8,680.9 L235.4,675.8 L236.9,670.8 L238.5,665.8 L240.0,660.8 L241.6,655.8 L243.1,650.8 L244.7,645.8 L246.2,640.9 L247.8,635.9 L249.4,630.9 L250.9,625.9 L252.5,620.9 L254.1,616.0 L255.7,611.0 L257.3,606.1 L258.8,601.1 L260.4,596.1 L262.0,591.2 L263.6,586.2 L265.2,581.3 L266.8,576.4 L268.4,571.4 L270.0,566.5 L271.6,561.6 L273.2,556.6 L274.8,551.7 L276.5,546.8 L278.1,541.9 L279.7,536.9 L281.3,532.0 L282.9,527.1 L284.6,522.2 L286.2,517.3 L287.8,512.4 L289.5,507.5 L291.1,502.6 L292.8,497.7 L294.4,492.8 L296.1,487.9 L297.7,483.0 L299.4,478.2 L301.0,473.3 L302.7,468.4 L304.4,463.5 L306.0,458.6 L307.7,453.8 L309.4,448.9 L311.1,444.0 L312.8,439.1 L314.4,434.3 L316.1,429.4 L317.8,424.5 L319.5,419.7 L321.2,414.8 L322.9,410.0 L324.6,405.1 L326.3,400.2 L328.1,395.4 L329.8,390.5 L331.5,385.7 L333.2,380.8 L334.9,376.0 L336.7,371.1 L338.4,366.3 L340.1,361.4 L341.9,356.6 L343.6,351.7 L345.4,346.9 L347.1,342.1 L348.9,337.2 L350.6,332.4 L352.4,327.5 L354.2,322.7 L355.9,317.9 L357.7,313.0 L359.5,308.2 L361.3,303.3 L363.0,298.5 L364.8,293.7 L366.6,288.8 L368.4,284.0 L370.2,279.1 L372.0,274.3 L373.8,269.5 L375.6,264.6 L377.4,259.8 L379.3,255.0 L381.1,250.1 L382.9,245.3 L384.7,240.5 L386.6,235.6 L388.4,230.8 L390.3,225.9 L392.1,221.1 L394.0,216.3 L395.8,211.4 L397.7,206.6 L399.5,201.7 L401.4,196.9 L403.3,192.1 L405.1,187.2 L407.0,182.4 L408.9,177.5 L410.8,172.7 L412.7,167.8 L414.6,163.0 L416.5,158.1 L418.4,153.3 L420.3,148.5 L422.2,143.6 L424.1,138.7 L426.1,133.9 L428.0,129.0 L429.9,124.2 L431.9,119.3 L433.8,114.5 L435.8,109.6 L437.7,104.7 L439.7,99.9 L441.6,95.0 L443.6,90.2 L445.6,85.3 L447.5,80.4 L449.5,75.5 L451.5,70.7 L453.5,65.8 L455.5,60.9 L457.5,56.0 L459.5,51.2 L461.5,46.3 L463.5,41.4 L465.5,36.5 L467.6,31.6 L469.6,26.7 L471.6,21.8 L473.7,16.9 L475.7,12.0 L477.8,7.1 L479.8,2.2 L481.9,-2.7 L483.9,-7.6 L486.0,-12.5 L488.1,-17.4 L490.2,-22.4 L492.3,-27.3 L494.4,-32.2 L496.5,-37.1 L498.6,-42.1 L500.7,-47.0 L502.8,-51.9 L504.9,-56.9 L507.0,-61.8 L509.2,-66.8 L511.3,-71.7 L513.5,-76.7 L515.6,-81.6 L517.8,-86.6 L519.9,-91.6 L522.1,-96.5 L524.3,-101.5 L526.4,-106.5 L528.6,-111.5 L530.8,-116.4 L533.0,-121.4 L535.2,-126.4 L537.4,-131.4 L539.7,-136.4 L541.9,-141.4 L544.1,-146.4 L546.4,-151.4 L548.6,-156.4 L550.8,-161.5 L553.1,-166.5 L555.4,-171.5 L557.6,-176.6 L559.9,-181.6 L562.2,-186.6 L564.5,-191.7 L566.8,-196.7 L569.1,-201.8 L571.4,-206.9 L573.7,-211.9 L576.0,-217.0 L578.4,-222.1 L580.7,-227.2 L583.1,-232.2 L585.4,-237.3 L587.8,-242.4 L590.1,-247.5 L592.5,-252.6 L594.9,-257.7 L597.3,-262.9 L599.7,-268.0 L602.1,-273.1 L604.5,-278.3 L606.9,-283.4 L609.3,-288.5 L611.8,-293.7 L614.2,-298.9 L616.7,-304.0 L619.1,-309.2 L621.6,-314.4 L624.0,-319.6 L626.5,-324.7 L629.0,-329.9 L631.5,-335.1 L634.0,-340.3 L636.5,-345.6 L639.1,-350.8 M312.8,1196.5 L313.6,1190.9 L314.4,1185.3 L315.2,1179.7 L316.0,1174.1 L316.8,1168.5 L317.6,1162.9 L318.4,1157.4 L319.2,1151.8 L320.0,1146.3 L320.8,1140.7 L321.7,1135.2 L322.5,1129.7 L323.3,1124.1 L324.1,1118.6 L324.9,1113.1 L325.7,1107.6 L326.5,1102.2 L327.4,1096.7 L328.2,1091.2 L329.0,1085.8 L329.8,1080.3 L330.6,1074.9 L331.5,1069.4 L332.3,1064.0 L333.1,1058.6 L334.0,1053.2 L334.8,1047.8 L335.6,1042.4 L336.5,1037.0 L337.3,1031.6 L338.1,1026.2 L339.0,1020.8 L339.8,1015.5 L340.7,1010.1 L341.5,1004.8 L342.4,999.4 L343.2,994.1 L344.1,988.8 L344.9,983.4 L345.8,978.1 L346.6,972.8 L347.5,967.5 L348.3,962.2 L349.2,956.9 L350.0,951.6 L350.9,946.3 L351.8,941.1 L352.6,935.8 L353.5,930.5 L354.4,925.3 L355.2,920.0 L356.1,914.8 L357.0,909.6 L357.8,904.3 L358.7,899.1 L359.6,893.9 L360.5,888.7 L361.3,883.5 L362.2,878.2 L363.1,873.0 L364.0,867.9 L364.9,862.7 L365.8,857.5 L366.6,852.3 L367.5,847.1 L368.4,841.9 L369.3,836.8 L370.2,831.6 L371.1,826.5 L372.0,821.3 L372.9,816.2 L373.8,811.0 L374.7,805.9 L375.6,800.8 L376.5,795.6 L377.4,790.5 L378.3,785.4 L379.2,780.3 L380.2,775.1 L381.1,770.0 L382.0,764.9 L382.9,759.8 L383.8,754.7 L384.7,749.6 L385.7,744.5 L386.6,739.5 L387.5,734.4 L388.4,729.3 L389.4,724.2 L390.3,719.1 L391.2,714.1 L392.2,709.0 L393.1,703.9 L394.0,698.9 L395.0,693.8 L395.9,688.8 L396.9,683.7 L397.8,678.7 L398.8,673.6 L399.7,668.6 L400.7,663.6 L401.6,658.5 L402.6,653.5 L403.5,648.5 L404.5,643.4 L405.4,638.4 L406.4,633.4 L407.3,628.4 L408.3,623.3 L409.3,618.3 L410.2,613.3 L411.2,608.3 L412.2,603.3 L413.2,598.3 L414.1,593.3 L415.1,588.3 L416.1,583.3 L417.1,578.3 L418.1,573.3 L419.0,568.3 L420.0,563.3 L421.0,558.3 L422.0,553.3 L423.0,548.3 L424.0,543.3 L425.0,538.3 L426.0,533.3 L427.0,528.4 L428.0,523.4 L429.0,518.4 L430.0,513.4 L431.0,508.4 L432.0,503.4 L433.0,498.5 L434.1,493.5 L435.1,488.5 L436.1,483.5 L437.1,478.6 L438.1,473.6 L439.2,468.6 L440.2,463.6 L441.2,458.7 L442.2,453.7 L443.3,448.7 L444.3,443.8 L445.4,438.8 L446.4,433.8 L447.4,428.9 L448.5,423.9 L449.5,418.9 L450.6,413.9 L451.6,409.0 L452.7,404.0 L453.7,399.0 L454.8,394.1 L455.9,389.1 L456.9,384.1 L458.0,379.2 L459.1,374.2 L460.1,369.2 L461.2,364.2 L462.3,359.3 L463.3,354.3 L464.4,349.3 L465.5,344.4 L466.6,339.4 L467.7,334.4 L468.8,329.4 L469.9,324.5 L471.0,319.5 L472.1,314.5 L473.2,309.5 L474.3,304.5 L475.4,299.6 L476.5,294.6 L477.6,289.6 L478.7,284.6 L479.8,279.6 L480.9,274.6 L482.0,269.7 L483.2,264.7 L484.3,259.7 L485.4,254.7 L486.5,249.7 L487.7,244.7 L488.8,239.7 L490.0,234.7 L491.1,229.7 L492.2,224.7 L493.4,219.7 L494.5,214.7 L495.7,209.7 L496.8,204.6 L498.0,199.6 L499.2,194.6 L500.3,189.6 L501.5,184.6 L502.7,179.5 L503.8,174.5 L505.0,169.5 L506.2,164.5 L507.4,159.4 L508.5,154.4 L509.7,149.3 L510.9,144.3 L512.1,139.3 L513.3,134.2 L514.5,129.2 L515.7,124.1 L516.9,119.0 L518.1,114.0 L519.3,108.9 L520.6,103.9 L521.8,98.8 L523.0,93.7 L524.2,88.6 L525.5,83.6 L526.7,78.5 L527.9,73.4 L529.2,68.3 L530.4,63.2 L531.6,58.1 L532.9,53.0 L534.1,47.9 L535.4,42.8 L536.7,37.7 L537.9,32.6 L539.2,27.4 L540.4,22.3 L541.7,17.2 L543.0,12.0 L544.3,6.9 L545.6,1.8 L546.8,-3.4 L548.1,-8.5 L549.4,-13.7 L550.7,-18.9 L552.0,-24.0 L553.3,-29.2 L554.6,-34.4 L556.0,-39.6 L557.3,-44.7 L558.6,-49.9 L559.9,-55.1 L561.2,-60.3 L562.6,-65.5 L563.9,-70.8 L565.2,-76.0 L566.6,-81.2 L567.9,-86.4 L569.3,-91.7 L570.6,-96.9 L572.0,-102.1 L573.4,-107.4 L574.7,-112.6 L576.1,-117.9 L577.5,-123.2 L578.9,-128.4 L580.2,-133.7 L581.6,-139.0 L583.0,-144.3 L584.4,-149.6 L585.8,-154.9 L587.2,-160.2 L588.6,-165.5 L590.1,-170.9 L591.5,-176.2 L592.9,-181.5 L594.3,-186.9 L595.8,-192.2 L597.2,-197.6 L598.6,-202.9 L600.1,-208.3 L601.5,-213.7 L603.0,-219.1 L604.4,-224.5 L605.9,-229.9 L607.4,-235.3 L608.9,-240.7 L610.3,-246.1 L611.8,-251.5 L613.3,-257.0 L614.8,-262.4 L616.3,-267.9 L617.8,-273.3 L619.3,-278.8 L620.8,-284.3 L622.3,-289.8 L623.9,-295.3 L625.4,-300.8 L626.9,-306.3 L628.5,-311.8 L630.0,-317.3 L631.6,-322.8 L633.1,-328.4 L634.7,-333.9 L636.3,-339.5 L637.8,-345.1 L639.4,-350.6 M519.8,1216.4 L520.1,1210.8 L520.4,1205.2 L520.7,1199.6 L520.9,1194.1 L521.2,1188.5 L521.5,1182.9 L521.8,1177.4 L522.1,1171.8 L522.4,1166.3 L522.7,1160.8 L523.0,1155.3 L523.3,1149.7 L523.6,1144.2 L523.9,1138.7 L524.2,1133.3 L524.5,1127.8 L524.8,1122.3 L525.1,1116.8 L525.4,1111.4 L525.7,1105.9 L526.0,1100.5 L526.3,1095.1 L526.6,1089.6 L526.9,1084.2 L527.2,1078.8 L527.5,1073.4 L527.8,1068.0 L528.1,1062.6 L528.4,1057.2 L528.7,1051.8 L529.0,1046.5 L529.3,1041.1 L529.6,1035.7 L529.9,1030.4 L530.2,1025.0 L530.5,1019.7 L530.8,1014.4 L531.1,1009.0 L531.4,1003.7 L531.8,998.4 L532.1,993.1 L532.4,987.8 L532.7,982.5 L533.0,977.2 L533.3,971.9 L533.6,966.6 L533.9,961.4 L534.3,956.1 L534.6,950.8 L534.9,945.6 L535.2,940.3 L535.5,935.1 L535.8,929.8 L536.2,924.6 L536.5,919.3 L536.8,914.1 L537.1,908.9 L537.4,903.7 L537.8,898.5 L538.1,893.2 L538.4,888.0 L538.7,882.8 L539.0,877.6 L539.4,872.5 L539.7,867.3 L540.0,862.1 L540.3,856.9 L540.7,851.7 L541.0,846.6 L541.3,841.4 L541.6,836.2 L542.0,831.1 L542.3,825.9 L542.6,820.8 L543.0,815.6 L543.3,810.5 L543.6,805.3 L544.0,800.2 L544.3,795.1 L544.6,789.9 L545.0,784.8 L545.3,779.7 L545.6,774.6 L546.0,769.5 L546.3,764.3 L546.6,759.2 L547.0,754.1 L547.3,749.0 L547.7,743.9 L548.0,738.8 L548.3,733.7 L548.7,728.6 L549.0,723.5 L549.4,718.5 L549.7,713.4 L550.0,708.3 L550.4,703.2 L550.7,698.1 L551.1,693.1 L551.4,688.0 L551.8,682.9 L552.1,677.9 L552.5,672.8 L552.8,667.7 L553.2,662.7 L553.5,657.6 L553.9,652.5 L554.2,647.5 L554.6,642.4 L554.9,637.4 L555.3,632.3 L555.6,627.3 L556.0,622.2 L556.3,617.2 L556.7,612.1 L557.1,607.1 L557.4,602.1 L557.8,597.0 L558.1,592.0 L558.5,586.9 L558.9,581.9 L559.2,576.9 L559.6,571.8 L559.9,566.8 L560.3,561.8 L560.7,556.7 L561.0,551.7 L561.4,546.7 L561.8,541.7 L562.1,536.6 L562.5,531.6 L562.9,526.6 L563.2,521.5 L563.6,516.5 L564.0,511.5 L564.4,506.5 L564.7,501.4 L565.1,496.4 L565.5,491.4 L565.9,486.4 L566.2,481.3 L566.6,476.3 L567.0,471.3 L567.4,466.3 L567.7,461.2 L568.1,456.2 L568.5,451.2 L568.9,446.2 L569.3,441.1 L569.7,436.1 L570.0,431.1 L570.4,426.0 L570.8,421.0 L571.2,416.0 L571.6,411.0 L572.0,405.9 L572.4,400.9 L572.8,395.9 L573.2,390.8 L573.5,385.8 L573.9,380.8 L574.3,375.7 L574.7,370.7 L575.1,365.6 L575.5,360.6 L575.9,355.6 L576.3,350.5 L576.7,345.5 L577.1,340.4 L577.5,335.4 L577.9,330.3 L578.3,325.3 L578.7,320.2 L579.1,315.2 L579.5,310.1 L580.0,305.1 L580.4,300.0 L580.8,294.9 L581.2,289.9 L581.6,284.8 L582.0,279.7 L582.4,274.7 L582.8,269.6 L583.2,264.5 L583.7,259.4 L584.1,254.4 L584.5,249.3 L584.9,244.2 L585.3,239.1 L585.8,234.0 L586.2,228.9 L586.6,223.8 L587.0,218.7 L587.5,213.6 L587.9,208.5 L588.3,203.4 L588.7,198.3 L589.2,193.2 L589.6,188.1 L590.0,183.0 L590.5,177.8 L590.9,172.7 L591.3,167.6 L591.8,162.4 L592.2,157.3 L592.7,152.2 L593.1,147.0 L593.5,141.9 L594.0,136.7 L594.4,131.6 L594.9,126.4 L595.3,121.2 L595.8,116.1 L596.2,110.9 L596.7,105.7 L597.1,100.6 L597.6,95.4 L598.0,90.2 L598.5,85.0 L598.9,79.8 L599.4,74.6 L599.9,69.4 L600.3,64.2 L600.8,59.0 L601.2,53.7 L601.7,48.5 L602.2,43.3 L602.6,38.0 L603.1,32.8 L603.6,27.6 L604.1,22.3 L604.5,17.1 L605.0,11.8 L605.5,6.5 L605.9,1.3 L606.4,-4.0 L606.9,-9.3 L607.4,-14.6 L607.9,-19.9 L608.4,-25.2 L608.8,-30.5 L609.3,-35.8 L609.8,-41.1 L610.3,-46.4 L610.8,-51.8 L611.3,-57.1 L611.8,-62.5 L612.3,-67.8 L612.8,-73.2 L613.3,-78.5 L613.8,-83.9 L614.3,-89.3 L614.8,-94.6 L615.3,-100.0 L615.8,-105.4 L616.3,-110.8 L616.8,-116.2 L617.3,-121.6 L617.8,-127.1 L618.3,-132.5 L618.9,-137.9 L619.4,-143.4 L619.9,-148.8 L620.4,-154.3 L620.9,-159.7 L621.5,-165.2 L622.0,-170.7 L622.5,-176.2 L623.0,-181.7 L623.6,-187.2 L624.1,-192.7 L624.6,-198.2 L625.2,-203.7 L625.7,-209.3 L626.3,-214.8 L626.8,-220.4 L627.3,-225.9 L627.9,-231.5 L628.4,-237.1 L629.0,-242.7 L629.5,-248.3 L630.1,-253.9 L630.6,-259.5 L631.2,-265.1 L631.8,-270.7 L632.3,-276.4 L632.9,-282.0 L633.4,-287.7 L634.0,-293.4 L634.6,-299.0 L635.1,-304.7 L635.7,-310.4 L636.3,-316.1 L636.9,-321.8 L637.4,-327.6 L638.0,-333.3 L638.6,-339.0 L639.2,-344.8 L639.8,-350.6 M726.3,1217.9 L726.1,1212.3 L725.9,1206.7 L725.7,1201.1 L725.5,1195.6 L725.3,1190.0 L725.1,1184.4 L724.9,1178.9 L724.7,1173.3 L724.5,1167.8 L724.2,1162.3 L724.0,1156.8 L723.8,1151.3 L723.6,1145.8 L723.4,1140.3 L723.2,1134.8 L723.0,1129.3 L722.8,1123.8 L722.5,1118.4 L722.3,1112.9 L722.1,1107.5 L721.9,1102.0 L721.7,1096.6 L721.5,1091.2 L721.3,1085.7 L721.0,1080.3 L720.8,1074.9 L720.6,1069.5 L720.4,1064.1 L720.2,1058.7 L720.0,1053.4 L719.7,1048.0 L719.5,1042.6 L719.3,1037.3 L719.1,1031.9 L718.9,1026.6 L718.6,1021.2 L718.4,1015.9 L718.2,1010.6 L718.0,1005.3 L717.7,999.9 L717.5,994.6 L717.3,989.3 L717.1,984.0 L716.9,978.7 L716.6,973.4 L716.4,968.2 L716.2,962.9 L716.0,957.6 L715.7,952.4 L715.5,947.1 L715.3,941.8 L715.0,936.6 L714.8,931.3 L714.6,926.1 L714.4,920.9 L714.1,915.6 L713.9,910.4 L713.7,905.2 L713.4,900.0 L713.2,894.8 L713.0,889.6 L712.8,884.4 L712.5,879.2 L712.3,874.0 L712.1,868.8 L711.8,863.6 L711.6,858.4 L711.4,853.2 L711.1,848.1 L710.9,842.9 L710.7,837.7 L710.4,832.6 L710.2,827.4 L709.9,822.3 L709.7,817.1 L709.5,812.0 L709.2,806.8 L709.0,801.7 L708.8,796.6 L708.5,791.4 L708.3,786.3 L708.0,781.2 L707.8,776.1 L707.6,770.9 L707.3,765.8 L707.1,760.7 L706.8,755.6 L706.6,750.5 L706.3,745.4 L706.1,740.3 L705.9,735.2 L705.6,730.1 L705.4,725.0 L705.1,719.9 L704.9,714.8 L704.6,709.8 L704.4,704.7 L704.1,699.6 L703.9,694.5 L703.6,689.5 L703.4,684.4 L703.1,679.3 L702.9,674.2 L702.6,669.2 L702.4,664.1 L702.1,659.1 L701.9,654.0 L701.6,648.9 L701.4,643.9 L701.1,638.8 L700.9,633.8 L700.6,628.7 L700.4,623.7 L700.1,618.6 L699.8,613.6 L699.6,608.5 L699.3,603.5 L699.1,598.4 L698.8,593.4 L698.6,588.4 L698.3,583.3 L698.0,578.3 L697.8,573.2 L697.5,568.2 L697.3,563.2 L697.0,558.1 L696.7,553.1 L696.5,548.1 L696.2,543.0 L695.9,538.0 L695.7,533.0 L695.4,527.9 L695.1,522.9 L694.9,517.9 L694.6,512.8 L694.3,507.8 L694.1,502.8 L693.8,497.8 L693.5,492.7 L693.3,487.7 L693.0,482.7 L692.7,477.6 L692.5,472.6 L692.2,467.6 L691.9,462.6 L691.6,457.5 L691.4,452.5 L691.1,447.5 L690.8,442.4 L690.5,437.4 L690.3,432.4 L690.0,427.3 L689.7,422.3 L689.4,417.3 L689.2,412.2 L688.9,407.2 L688.6,402.2 L688.3,397.1 L688.0,392.1 L687.7,387.0 L687.5,382.0 L687.2,377.0 L686.9,371.9 L686.6,366.9 L686.3,361.8 L686.0,356.8 L685.8,351.7 L685.5,346.7 L685.2,341.6 L684.9,336.6 L684.6,331.5 L684.3,326.5 L684.0,321.4 L683.7,316.4 L683.4,311.3 L683.1,306.2 L682.9,301.2 L682.6,296.1 L682.3,291.0 L682.0,286.0 L681.7,280.9 L681.4,275.8 L681.1,270.7 L680.8,265.6 L680.5,260.6 L680.2,255.5 L679.9,250.4 L679.6,245.3 L679.3,240.2 L679.0,235.1 L678.7,230.0 L678.4,224.9 L678.1,219.8 L677.8,214.7 L677.4,209.6 L677.1,204.5 L676.8,199.3 L676.5,194.2 L676.2,189.1 L675.9,184.0 L675.6,178.8 L675.3,173.7 L675.0,168.6 L674.6,163.4 L674.3,158.3 L674.0,153.1 L673.7,148.0 L673.4,142.8 L673.1,137.7 L672.7,132.5 L672.4,127.4 L672.1,122.2 L671.8,117.0 L671.5,111.8 L671.1,106.6 L670.8,101.5 L670.5,96.3 L670.2,91.1 L669.8,85.9 L669.5,80.7 L669.2,75.4 L668.8,70.2 L668.5,65.0 L668.2,59.8 L667.9,54.6 L667.5,49.3 L667.2,44.1 L666.8,38.8 L666.5,33.6 L666.2,28.3 L665.8,23.1 L665.5,17.8 L665.2,12.6 L664.8,7.3 L664.5,2.0 L664.1,-3.3 L663.8,-8.6 L663.4,-13.9 L663.1,-19.2 L662.7,-24.5 L662.4,-29.8 L662.0,-35.1 L661.7,-40.5 L661.3,-45.8 L661.0,-51.1 L660.6,-56.5 L660.3,-61.8 L659.9,-67.2 L659.6,-72.5 L659.2,-77.9 L658.9,-83.3 L658.5,-88.7 L658.1,-94.1 L657.8,-99.5 L657.4,-104.9 L657.0,-110.3 L656.7,-115.7 L656.3,-121.1 L655.9,-126.6 L655.6,-132.0 L655.2,-137.4 L654.8,-142.9 L654.5,-148.4 L654.1,-153.8 L653.7,-159.3 L653.3,-164.8 L653.0,-170.3 L652.6,-175.8 L652.2,-181.3 L651.8,-186.8 L651.4,-192.3 L651.0,-197.9 L650.7,-203.4 L650.3,-208.9 L649.9,-214.5 L649.5,-220.1 L649.1,-225.6 L648.7,-231.2 L648.3,-236.8 L647.9,-242.4 L647.5,-248.0 L647.1,-253.6 L646.7,-259.3 L646.3,-264.9 L645.9,-270.5 L645.5,-276.2 L645.1,-281.9 L644.7,-287.5 L644.3,-293.2 L643.9,-298.9 L643.5,-304.6 L643.1,-310.3 L642.7,-316.0 L642.3,-321.8 L641.8,-327.5 L641.4,-333.3 L641.0,-339.0 L640.6,-344.8 L640.2,-350.6 M933.2,1201.1 L932.5,1195.5 L931.8,1189.8 L931.0,1184.2 L930.3,1178.7 L929.6,1173.1 L928.9,1167.5 L928.2,1161.9 L927.5,1156.4 L926.7,1150.8 L926.0,1145.3 L925.3,1139.8 L924.6,1134.2 L923.8,1128.7 L923.1,1123.2 L922.4,1117.7 L921.7,1112.2 L920.9,1106.8 L920.2,1101.3 L919.5,1095.8 L918.7,1090.4 L918.0,1084.9 L917.3,1079.5 L916.5,1074.0 L915.8,1068.6 L915.0,1063.2 L914.3,1057.8 L913.5,1052.4 L912.8,1047.0 L912.1,1041.6 L911.3,1036.2 L910.6,1030.8 L909.8,1025.5 L909.1,1020.1 L908.3,1014.7 L907.5,1009.4 L906.8,1004.0 L906.0,998.7 L905.3,993.4 L904.5,988.1 L903.8,982.7 L903.0,977.4 L902.2,972.1 L901.5,966.8 L900.7,961.5 L899.9,956.3 L899.2,951.0 L898.4,945.7 L897.6,940.4 L896.8,935.2 L896.1,929.9 L895.3,924.7 L894.5,919.4 L893.7,914.2 L892.9,908.9 L892.2,903.7 L891.4,898.5 L890.6,893.3 L889.8,888.1 L889.0,882.9 L888.2,877.7 L887.4,872.5 L886.7,867.3 L885.9,862.1 L885.1,856.9 L884.3,851.7 L883.5,846.5 L882.7,841.4 L881.9,836.2 L881.1,831.0 L880.3,825.9 L879.5,820.7 L878.7,815.6 L877.9,810.5 L877.0,805.3 L876.2,800.2 L875.4,795.1 L874.6,789.9 L873.8,784.8 L873.0,779.7 L872.2,774.6 L871.3,769.5 L870.5,764.4 L869.7,759.3 L868.9,754.2 L868.1,749.1 L867.2,744.0 L866.4,738.9 L865.6,733.8 L864.7,728.7 L863.9,723.6 L863.1,718.6 L862.2,713.5 L861.4,708.4 L860.6,703.3 L859.7,698.3 L858.9,693.2 L858.0,688.2 L857.2,683.1 L856.3,678.1 L855.5,673.0 L854.6,668.0 L853.8,662.9 L852.9,657.9 L852.1,652.8 L851.2,647.8 L850.4,642.8 L849.5,637.7 L848.6,632.7 L847.8,627.7 L846.9,622.7 L846.1,617.6 L845.2,612.6 L844.3,607.6 L843.4,602.6 L842.6,597.6 L841.7,592.6 L840.8,587.5 L839.9,582.5 L839.1,577.5 L838.2,572.5 L837.3,567.5 L836.4,562.5 L835.5,557.5 L834.6,552.5 L833.7,547.5 L832.9,542.5 L832.0,537.5 L831.1,532.5 L830.2,527.5 L829.3,522.5 L828.4,517.5 L827.5,512.6 L826.6,507.6 L825.7,502.6 L824.7,497.6 L823.8,492.6 L822.9,487.6 L822.0,482.6 L821.1,477.6 L820.2,472.7 L819.3,467.7 L818.3,462.7 L817.4,457.7 L816.5,452.7 L815.6,447.7 L814.6,442.8 L813.7,437.8 L812.8,432.8 L811.8,427.8 L810.9,422.8 L809.9,417.8 L809.0,412.9 L808.1,407.9 L807.1,402.9 L806.2,397.9 L805.2,392.9 L804.3,387.9 L803.3,383.0 L802.3,378.0 L801.4,373.0 L800.4,368.0 L799.5,363.0 L798.5,358.0 L797.5,353.0 L796.6,348.1 L795.6,343.1 L794.6,338.1 L793.6,333.1 L792.7,328.1 L791.7,323.1 L790.7,318.1 L789.7,313.1 L788.7,308.1 L787.7,303.1 L786.7,298.1 L785.8,293.1 L784.8,288.1 L783.8,283.1 L782.8,278.1 L781.8,273.1 L780.8,268.1 L779.7,263.1 L778.7,258.1 L777.7,253.1 L776.7,248.0 L775.7,243.0 L774.7,238.0 L773.6,233.0 L772.6,228.0 L771.6,222.9 L770.6,217.9 L769.5,212.9 L768.5,207.8 L767.5,202.8 L766.4,197.8 L765.4,192.7 L764.3,187.7 L763.3,182.6 L762.2,177.6 L761.2,172.5 L760.1,167.5 L759.1,162.4 L758.0,157.4 L756.9,152.3 L755.9,147.3 L754.8,142.2 L753.7,137.1 L752.6,132.0 L751.6,127.0 L750.5,121.9 L749.4,116.8 L748.3,111.7 L747.2,106.6 L746.1,101.5 L745.0,96.4 L743.9,91.3 L742.8,86.2 L741.7,81.1 L740.6,76.0 L739.5,70.9 L738.4,65.8 L737.3,60.7 L736.2,55.5 L735.0,50.4 L733.9,45.3 L732.8,40.1 L731.7,35.0 L730.5,29.8 L729.4,24.7 L728.2,19.5 L727.1,14.4 L725.9,9.2 L724.8,4.0 L723.6,-1.1 L722.5,-6.3 L721.3,-11.5 L720.2,-16.7 L719.0,-21.9 L717.8,-27.1 L716.6,-32.3 L715.5,-37.5 L714.3,-42.7 L713.1,-47.9 L711.9,-53.2 L710.7,-58.4 L709.5,-63.6 L708.3,-68.9 L707.1,-74.1 L705.9,-79.4 L704.7,-84.6 L703.5,-89.9 L702.3,-95.2 L701.1,-100.4 L699.8,-105.7 L698.6,-111.0 L697.4,-116.3 L696.2,-121.6 L694.9,-126.9 L693.7,-132.2 L692.4,-137.5 L691.2,-142.9 L689.9,-148.2 L688.7,-153.5 L687.4,-158.9 L686.1,-164.2 L684.9,-169.6 L683.6,-174.9 L682.3,-180.3 L681.0,-185.7 L679.7,-191.1 L678.5,-196.5 L677.2,-201.9 L675.9,-207.3 L674.6,-212.7 L673.3,-218.1 L671.9,-223.5 L670.6,-229.0 L669.3,-234.4 L668.0,-239.9 L666.7,-245.3 L665.3,-250.8 L664.0,-256.3 L662.6,-261.8 L661.3,-267.2 L659.9,-272.7 L658.6,-278.3 L657.2,-283.8 L655.9,-289.3 L654.5,-294.8 L653.1,-300.4 L651.7,-305.9 L650.4,-311.5 L649.0,-317.0 L647.6,-322.6 L646.2,-328.2 L644.8,-333.8 L643.4,-339.4 L641.9,-345.0 L640.5,-350.6 M1141.0,1165.3 L1139.8,1159.6 L1138.5,1154.0 L1137.3,1148.4 L1136.0,1142.7 L1134.8,1137.1 L1133.5,1131.5 L1132.3,1125.9 L1131.0,1120.3 L1129.8,1114.8 L1128.5,1109.2 L1127.3,1103.6 L1126.0,1098.1 L1124.7,1092.6 L1123.5,1087.0 L1122.2,1081.5 L1120.9,1076.0 L1119.6,1070.5 L1118.4,1065.0 L1117.1,1059.5 L1115.8,1054.1 L1114.5,1048.6 L1113.2,1043.1 L1112.0,1037.7 L1110.7,1032.2 L1109.4,1026.8 L1108.1,1021.4 L1106.8,1016.0 L1105.5,1010.6 L1104.2,1005.2 L1102.9,999.8 L1101.6,994.4 L1100.3,989.0 L1099.0,983.7 L1097.6,978.3 L1096.3,972.9 L1095.0,967.6 L1093.7,962.3 L1092.4,956.9 L1091.1,951.6 L1089.7,946.3 L1088.4,941.0 L1087.1,935.7 L1085.7,930.4 L1084.4,925.1 L1083.1,919.8 L1081.7,914.6 L1080.4,909.3 L1079.1,904.0 L1077.7,898.8 L1076.4,893.5 L1075.0,888.3 L1073.7,883.1 L1072.3,877.8 L1071.0,872.6 L1069.6,867.4 L1068.2,862.2 L1066.9,857.0 L1065.5,851.8 L1064.2,846.6 L1062.8,841.4 L1061.4,836.3 L1060.0,831.1 L1058.7,825.9 L1057.3,820.8 L1055.9,815.6 L1054.5,810.5 L1053.1,805.3 L1051.8,800.2 L1050.4,795.1 L1049.0,789.9 L1047.6,784.8 L1046.2,779.7 L1044.8,774.6 L1043.4,769.5 L1042.0,764.4 L1040.6,759.3 L1039.2,754.2 L1037.8,749.1 L1036.3,744.0 L1034.9,738.9 L1033.5,733.9 L1032.1,728.8 L1030.7,723.7 L1029.2,718.7 L1027.8,713.6 L1026.4,708.6 L1025.0,703.5 L1023.5,698.5 L1022.1,693.5 L1020.7,688.4 L1019.2,683.4 L1017.8,678.4 L1016.3,673.4 L1014.9,668.4 L1013.4,663.3 L1012.0,658.3 L1010.5,653.3 L1009.0,648.3 L1007.6,643.3 L1006.1,638.4 L1004.7,633.4 L1003.2,628.4 L1001.7,623.4 L1000.2,618.4 L998.8,613.4 L997.3,608.5 L995.8,603.5 L994.3,598.5 L992.8,593.6 L991.3,588.6 L989.8,583.7 L988.3,578.7 L986.8,573.8 L985.3,568.8 L983.8,563.9 L982.3,558.9 L980.8,554.0 L979.3,549.1 L977.8,544.1 L976.3,539.2 L974.8,534.3 L973.2,529.3 L971.7,524.4 L970.2,519.5 L968.6,514.6 L967.1,509.7 L965.6,504.8 L964.0,499.8 L962.5,494.9 L960.9,490.0 L959.4,485.1 L957.8,480.2 L956.3,475.3 L954.7,470.4 L953.2,465.5 L951.6,460.6 L950.0,455.7 L948.5,450.8 L946.9,445.9 L945.3,441.1 L943.7,436.2 L942.1,431.3 L940.6,426.4 L939.0,421.5 L937.4,416.6 L935.8,411.8 L934.2,406.9 L932.6,402.0 L931.0,397.1 L929.4,392.2 L927.8,387.4 L926.1,382.5 L924.5,377.6 L922.9,372.7 L921.3,367.9 L919.6,363.0 L918.0,358.1 L916.4,353.3 L914.7,348.4 L913.1,343.5 L911.5,338.7 L909.8,333.8 L908.2,328.9 L906.5,324.1 L904.8,319.2 L903.2,314.3 L901.5,309.5 L899.8,304.6 L898.2,299.7 L896.5,294.9 L894.8,290.0 L893.1,285.1 L891.4,280.3 L889.7,275.4 L888.1,270.5 L886.4,265.7 L884.7,260.8 L882.9,255.9 L881.2,251.1 L879.5,246.2 L877.8,241.3 L876.1,236.5 L874.4,231.6 L872.6,226.7 L870.9,221.9 L869.2,217.0 L867.4,212.1 L865.7,207.2 L863.9,202.4 L862.2,197.5 L860.4,192.6 L858.7,187.7 L856.9,182.9 L855.1,178.0 L853.3,173.1 L851.6,168.2 L849.8,163.3 L848.0,158.5 L846.2,153.6 L844.4,148.7 L842.6,143.8 L840.8,138.9 L839.0,134.0 L837.2,129.1 L835.4,124.2 L833.6,119.3 L831.7,114.4 L829.9,109.5 L828.1,104.6 L826.2,99.7 L824.4,94.8 L822.6,89.9 L820.7,85.0 L818.8,80.1 L817.0,75.2 L815.1,70.3 L813.3,65.4 L811.4,60.4 L809.5,55.5 L807.6,50.6 L805.7,45.7 L803.8,40.7 L801.9,35.8 L800.0,30.9 L798.1,25.9 L796.2,21.0 L794.3,16.0 L792.4,11.1 L790.4,6.2 L788.5,1.2 L786.6,-3.8 L784.6,-8.7 L782.7,-13.7 L780.7,-18.6 L778.8,-23.6 L776.8,-28.6 L774.8,-33.6 L772.9,-38.5 L770.9,-43.5 L768.9,-48.5 L766.9,-53.5 L764.9,-58.5 L762.9,-63.5 L760.9,-68.5 L758.9,-73.5 L756.9,-78.5 L754.8,-83.5 L752.8,-88.5 L750.8,-93.5 L748.7,-98.5 L746.7,-103.6 L744.6,-108.6 L742.6,-113.6 L740.5,-118.7 L738.4,-123.7 L736.4,-128.8 L734.3,-133.8 L732.2,-138.9 L730.1,-143.9 L728.0,-149.0 L725.9,-154.1 L723.8,-159.1 L721.7,-164.2 L719.5,-169.3 L717.4,-174.4 L715.3,-179.5 L713.1,-184.6 L711.0,-189.7 L708.8,-194.8 L706.7,-199.9 L704.5,-205.0 L702.3,-210.2 L700.1,-215.3 L697.9,-220.4 L695.7,-225.6 L693.5,-230.7 L691.3,-235.9 L689.1,-241.0 L686.9,-246.2 L684.7,-251.4 L682.4,-256.5 L680.2,-261.7 L677.9,-266.9 L675.7,-272.1 L673.4,-277.3 L671.1,-282.5 L668.8,-287.7 L666.6,-292.9 L664.3,-298.2 L662.0,-303.4 L659.6,-308.6 L657.3,-313.9 L655.0,-319.1 L652.7,-324.4 L650.3,-329.6 L648.0,-334.9 L645.6,-340.2 L643.3,-345.5 L640.9,-350.8 M1350.4,1109.2 L1348.6,1103.5 L1346.8,1097.8 L1345.0,1092.1 L1343.1,1086.4 L1341.3,1080.8 L1339.5,1075.1 L1337.6,1069.5 L1335.8,1063.9 L1334.0,1058.3 L1332.1,1052.7 L1330.3,1047.1 L1328.4,1041.5 L1326.6,1035.9 L1324.7,1030.4 L1322.9,1024.8 L1321.0,1019.3 L1319.1,1013.8 L1317.3,1008.3 L1315.4,1002.8 L1313.5,997.3 L1311.6,991.8 L1309.8,986.3 L1307.9,980.9 L1306.0,975.4 L1304.1,970.0 L1302.2,964.5 L1300.3,959.1 L1298.4,953.7 L1296.6,948.3 L1294.7,942.9 L1292.7,937.5 L1290.8,932.1 L1288.9,926.8 L1287.0,921.4 L1285.1,916.1 L1283.2,910.7 L1281.3,905.4 L1279.3,900.1 L1277.4,894.8 L1275.5,889.5 L1273.6,884.2 L1271.6,878.9 L1269.7,873.6 L1267.8,868.3 L1265.8,863.1 L1263.9,857.8 L1261.9,852.6 L1260.0,847.3 L1258.0,842.1 L1256.1,836.9 L1254.1,831.7 L1252.1,826.5 L1250.2,821.3 L1248.2,816.1 L1246.2,810.9 L1244.3,805.7 L1242.3,800.6 L1240.3,795.4 L1238.3,790.3 L1236.3,785.1 L1234.3,780.0 L1232.4,774.9 L1230.4,769.7 L1228.4,764.6 L1226.4,759.5 L1224.4,754.4 L1222.4,749.3 L1220.3,744.2 L1218.3,739.2 L1216.3,734.1 L1214.3,729.0 L1212.3,724.0 L1210.3,718.9 L1208.2,713.9 L1206.2,708.8 L1204.2,703.8 L1202.1,698.8 L1200.1,693.8 L1198.1,688.7 L1196.0,683.7 L1194.0,678.7 L1191.9,673.7 L1189.9,668.8 L1187.8,663.8 L1185.7,658.8 L1183.7,653.8 L1181.6,648.9 L1179.5,643.9 L1177.5,638.9 L1175.4,634.0 L1173.3,629.1 L1171.2,624.1 L1169.1,619.2 L1167.1,614.3 L1165.0,609.3 L1162.9,604.4 L1160.8,599.5 L1158.7,594.6 L1156.6,589.7 L1154.5,584.8 L1152.3,579.9 L1150.2,575.0 L1148.1,570.2 L1146.0,565.3 L1143.9,560.4 L1141.7,555.5 L1139.6,550.7 L1137.5,545.8 L1135.3,541.0 L1133.2,536.1 L1131.0,531.3 L1128.9,526.4 L1126.7,521.6 L1124.6,516.8 L1122.4,512.0 L1120.3,507.1 L1118.1,502.3 L1115.9,497.5 L1113.7,492.7 L1111.6,487.9 L1109.4,483.1 L1107.2,478.3 L1105.0,473.5 L1102.8,468.7 L1100.6,463.9 L1098.4,459.1 L1096.2,454.4 L1094.0,449.6 L1091.8,444.8 L1089.6,440.1 L1087.4,435.3 L1085.2,430.5 L1082.9,425.8 L1080.7,421.0 L1078.5,416.3 L1076.2,411.5 L1074.0,406.8 L1071.8,402.0 L1069.5,397.3 L1067.3,392.6 L1065.0,387.8 L1062.7,383.1 L1060.5,378.4 L1058.2,373.7 L1055.9,369.0 L1053.7,364.2 L1051.4,359.5 L1049.1,354.8 L1046.8,350.1 L1044.5,345.4 L1042.2,340.7 L1039.9,336.0 L1037.6,331.3 L1035.3,326.6 L1033.0,321.9 L1030.7,317.2 L1028.4,312.5 L1026.0,307.8 L1023.7,303.2 L1021.4,298.5 L1019.0,293.8 L1016.7,289.1 L1014.3,284.4 L1012.0,279.8 L1009.6,275.1 L1007.3,270.4 L1004.9,265.8 L1002.5,261.1 L1000.2,256.4 L997.8,251.8 L995.4,247.1 L993.0,242.5 L990.6,237.8 L988.2,233.1 L985.8,228.5 L983.4,223.8 L981.0,219.2 L978.6,214.5 L976.2,209.9 L973.7,205.2 L971.3,200.6 L968.9,195.9 L966.4,191.3 L964.0,186.7 L961.5,182.0 L959.1,177.4 L956.6,172.7 L954.2,168.1 L951.7,163.5 L949.2,158.8 L946.7,154.2 L944.2,149.5 L941.8,144.9 L939.3,140.3 L936.8,135.6 L934.2,131.0 L931.7,126.4 L929.2,121.8 L926.7,117.1 L924.2,112.5 L921.6,107.9 L919.1,103.2 L916.6,98.6 L914.0,94.0 L911.4,89.3 L908.9,84.7 L906.3,80.1 L903.7,75.5 L901.2,70.8 L898.6,66.2 L896.0,61.6 L893.4,56.9 L890.8,52.3 L888.2,47.7 L885.6,43.0 L883.0,38.4 L880.3,33.8 L877.7,29.2 L875.1,24.5 L872.4,19.9 L869.8,15.3 L867.1,10.6 L864.5,6.0 L861.8,1.4 L859.1,-3.3 L856.5,-7.9 L853.8,-12.5 L851.1,-17.2 L848.4,-21.8 L845.7,-26.4 L843.0,-31.1 L840.3,-35.7 L837.5,-40.4 L834.8,-45.0 L832.1,-49.7 L829.3,-54.3 L826.6,-58.9 L823.8,-63.6 L821.0,-68.2 L818.3,-72.9 L815.5,-77.5 L812.7,-82.2 L809.9,-86.8 L807.1,-91.5 L804.3,-96.1 L801.5,-100.8 L798.7,-105.5 L795.9,-110.1 L793.0,-114.8 L790.2,-119.4 L787.3,-124.1 L784.5,-128.8 L781.6,-133.4 L778.8,-138.1 L775.9,-142.8 L773.0,-147.5 L770.1,-152.1 L767.2,-156.8 L764.3,-161.5 L761.4,-166.2 L758.5,-170.9 L755.5,-175.6 L752.6,-180.2 L749.7,-184.9 L746.7,-189.6 L743.7,-194.3 L740.8,-199.0 L737.8,-203.7 L734.8,-208.4 L731.8,-213.1 L728.8,-217.8 L725.8,-222.6 L722.8,-227.3 L719.8,-232.0 L716.7,-236.7 L713.7,-241.4 L710.6,-246.2 L707.6,-250.9 L704.5,-255.6 L701.4,-260.4 L698.3,-265.1 L695.2,-269.8 L692.1,-274.6 L689.0,-279.3 L685.9,-284.1 L682.8,-288.8 L679.6,-293.6 L676.5,-298.3 L673.3,-303.1 L670.2,-307.9 L667.0,-312.6 L663.8,-317.4 L660.6,-322.2 L657.4,-327.0 L654.2,-331.8 L651.0,-336.5 L647.7,-341.3 L644.5,-346.1 L641.2,-350.9 M1561.7,1030.5 L1559.2,1024.8 L1556.8,1019.1 L1554.3,1013.3 L1551.8,1007.6 L1549.3,1001.9 L1546.8,996.2 L1544.4,990.6 L1541.9,984.9 L1539.4,979.3 L1536.9,973.6 L1534.4,968.0 L1531.9,962.4 L1529.4,956.8 L1526.9,951.3 L1524.3,945.7 L1521.8,940.1 L1519.3,934.6 L1516.8,929.1 L1514.3,923.6 L1511.7,918.1 L1509.2,912.6 L1506.7,907.1 L1504.1,901.6 L1501.6,896.2 L1499.1,890.7 L1496.5,885.3 L1494.0,879.9 L1491.4,874.5 L1488.8,869.1 L1486.3,863.7 L1483.7,858.3 L1481.2,853.0 L1478.6,847.6 L1476.0,842.3 L1473.4,837.0 L1470.9,831.7 L1468.3,826.4 L1465.7,821.1 L1463.1,815.8 L1460.5,810.5 L1457.9,805.2 L1455.3,800.0 L1452.7,794.8 L1450.1,789.5 L1447.5,784.3 L1444.9,779.1 L1442.3,773.9 L1439.7,768.7 L1437.0,763.5 L1434.4,758.4 L1431.8,753.2 L1429.2,748.1 L1426.5,742.9 L1423.9,737.8 L1421.3,732.7 L1418.6,727.6 L1416.0,722.5 L1413.3,717.4 L1410.7,712.3 L1408.0,707.2 L1405.4,702.2 L1402.7,697.1 L1400.0,692.1 L1397.4,687.0 L1394.7,682.0 L1392.0,677.0 L1389.3,672.0 L1386.7,667.0 L1384.0,662.0 L1381.3,657.0 L1378.6,652.1 L1375.9,647.1 L1373.2,642.1 L1370.5,637.2 L1367.8,632.3 L1365.1,627.3 L1362.4,622.4 L1359.7,617.5 L1357.0,612.6 L1354.2,607.7 L1351.5,602.8 L1348.8,597.9 L1346.1,593.1 L1343.3,588.2 L1340.6,583.3 L1337.8,578.5 L1335.1,573.6 L1332.4,568.8 L1329.6,564.0 L1326.8,559.2 L1324.1,554.4 L1321.3,549.6 L1318.6,544.8 L1315.8,540.0 L1313.0,535.2 L1310.2,530.4 L1307.5,525.6 L1304.7,520.9 L1301.9,516.1 L1299.1,511.4 L1296.3,506.7 L1293.5,501.9 L1290.7,497.2 L1287.9,492.5 L1285.1,487.8 L1282.3,483.1 L1279.5,478.4 L1276.7,473.7 L1273.8,469.0 L1271.0,464.3 L1268.2,459.6 L1265.3,455.0 L1262.5,450.3 L1259.7,445.7 L1256.8,441.0 L1254.0,436.4 L1251.1,431.7 L1248.2,427.1 L1245.4,422.5 L1242.5,417.9 L1239.7,413.3 L1236.8,408.7 L1233.9,404.1 L1231.0,399.5 L1228.1,394.9 L1225.2,390.3 L1222.4,385.7 L1219.5,381.2 L1216.6,376.6 L1213.7,372.0 L1210.7,367.5 L1207.8,362.9 L1204.9,358.4 L1202.0,353.8 L1199.1,349.3 L1196.1,344.8 L1193.2,340.3 L1190.3,335.8 L1187.3,331.2 L1184.4,326.7 L1181.4,322.2 L1178.5,317.7 L1175.5,313.2 L1172.5,308.8 L1169.6,304.3 L1166.6,299.8 L1163.6,295.3 L1160.6,290.9 L1157.6,286.4 L1154.7,281.9 L1151.7,277.5 L1148.7,273.0 L1145.7,268.6 L1142.6,264.2 L1139.6,259.7 L1136.6,255.3 L1133.6,250.9 L1130.6,246.4 L1127.5,242.0 L1124.5,237.6 L1121.5,233.2 L1118.4,228.8 L1115.4,224.4 L1112.3,220.0 L1109.2,215.6 L1106.2,211.2 L1103.1,206.8 L1100.0,202.5 L1096.9,198.1 L1093.9,193.7 L1090.8,189.3 L1087.7,185.0 L1084.6,180.6 L1081.5,176.2 L1078.3,171.9 L1075.2,167.5 L1072.1,163.2 L1069.0,158.8 L1065.8,154.5 L1062.7,150.2 L1059.6,145.8 L1056.4,141.5 L1053.3,137.2 L1050.1,132.9 L1046.9,128.5 L1043.8,124.2 L1040.6,119.9 L1037.4,115.6 L1034.2,111.3 L1031.0,107.0 L1027.8,102.7 L1024.6,98.4 L1021.4,94.1 L1018.2,89.8 L1015.0,85.5 L1011.8,81.2 L1008.5,76.9 L1005.3,72.6 L1002.1,68.4 L998.8,64.1 L995.6,59.8 L992.3,55.6 L989.0,51.3 L985.7,47.0 L982.5,42.8 L979.2,38.5 L975.9,34.2 L972.6,30.0 L969.3,25.7 L966.0,21.5 L962.7,17.2 L959.3,13.0 L956.0,8.7 L952.7,4.5 L949.3,0.3 L946.0,-4.0 L942.6,-8.2 L939.3,-12.4 L935.9,-16.7 L932.5,-20.9 L929.2,-25.1 L925.8,-29.4 L922.4,-33.6 L919.0,-37.8 L915.6,-42.0 L912.2,-46.2 L908.7,-50.5 L905.3,-54.7 L901.9,-58.9 L898.4,-63.1 L895.0,-67.3 L891.5,-71.5 L888.1,-75.7 L884.6,-79.9 L881.1,-84.1 L877.6,-88.3 L874.1,-92.5 L870.6,-96.7 L867.1,-100.9 L863.6,-105.1 L860.1,-109.3 L856.6,-113.5 L853.0,-117.7 L849.5,-121.9 L845.9,-126.1 L842.4,-130.2 L838.8,-134.4 L835.2,-138.6 L831.7,-142.8 L828.1,-147.0 L824.5,-151.2 L820.9,-155.3 L817.2,-159.5 L813.6,-163.7 L810.0,-167.9 L806.4,-172.1 L802.7,-176.2 L799.1,-180.4 L795.4,-184.6 L791.7,-188.8 L788.0,-192.9 L784.4,-197.1 L780.7,-201.3 L777.0,-205.4 L773.2,-209.6 L769.5,-213.8 L765.8,-217.9 L762.0,-222.1 L758.3,-226.3 L754.5,-230.4 L750.8,-234.6 L747.0,-238.8 L743.2,-242.9 L739.4,-247.1 L735.6,-251.3 L731.8,-255.4 L728.0,-259.6 L724.2,-263.8 L720.3,-267.9 L716.5,-272.1 L712.6,-276.3 L708.8,-280.4 L704.9,-284.6 L701.0,-288.7 L697.1,-292.9 L693.2,-297.1 L689.3,-301.2 L685.4,-305.4 L681.4,-309.5 L677.5,-313.7 L673.5,-317.9 L669.6,-322.0 L665.6,-326.2 L661.6,-330.4 L657.6,-334.5 L653.6,-338.7 L649.6,-342.8 L645.6,-347.0 L641.5,-351.2 M1774.7,926.3 L1771.5,920.5 L1768.3,914.8 L1765.0,909.0 L1761.8,903.3 L1758.6,897.5 L1755.4,891.8 L1752.1,886.1 L1748.9,880.5 L1745.7,874.8 L1742.4,869.2 L1739.2,863.6 L1735.9,857.9 L1732.7,852.4 L1729.4,846.8 L1726.2,841.2 L1722.9,835.7 L1719.6,830.1 L1716.4,824.6 L1713.1,819.1 L1709.8,813.6 L1706.6,808.2 L1703.3,802.7 L1700.0,797.3 L1696.7,791.9 L1693.4,786.4 L1690.1,781.0 L1686.8,775.7 L1683.5,770.3 L1680.2,765.0 L1676.9,759.6 L1673.6,754.3 L1670.3,749.0 L1667.0,743.7 L1663.7,738.4 L1660.4,733.1 L1657.0,727.9 L1653.7,722.6 L1650.4,717.4 L1647.1,712.2 L1643.7,707.0 L1640.4,701.8 L1637.1,696.6 L1633.7,691.5 L1630.4,686.3 L1627.0,681.2 L1623.7,676.1 L1620.3,671.0 L1617.0,665.9 L1613.6,660.8 L1610.2,655.7 L1606.9,650.7 L1603.5,645.6 L1600.1,640.6 L1596.8,635.6 L1593.4,630.6 L1590.0,625.6 L1586.6,620.6 L1583.2,615.6 L1579.8,610.7 L1576.4,605.7 L1573.0,600.8 L1569.6,595.9 L1566.2,591.0 L1562.8,586.1 L1559.4,581.2 L1556.0,576.3 L1552.6,571.4 L1549.2,566.6 L1545.8,561.7 L1542.3,556.9 L1538.9,552.1 L1535.5,547.3 L1532.1,542.5 L1528.6,537.7 L1525.2,532.9 L1521.7,528.1 L1518.3,523.4 L1514.9,518.6 L1511.4,513.9 L1507.9,509.2 L1504.5,504.5 L1501.0,499.8 L1497.6,495.1 L1494.1,490.4 L1490.6,485.7 L1487.2,481.1 L1483.7,476.4 L1480.2,471.8 L1476.7,467.1 L1473.2,462.5 L1469.8,457.9 L1466.3,453.3 L1462.8,448.7 L1459.3,444.1 L1455.8,439.6 L1452.3,435.0 L1448.8,430.5 L1445.2,425.9 L1441.7,421.4 L1438.2,416.9 L1434.7,412.3 L1431.2,407.8 L1427.6,403.3 L1424.1,398.9 L1420.6,394.4 L1417.0,389.9 L1413.5,385.4 L1409.9,381.0 L1406.4,376.6 L1402.8,372.1 L1399.3,367.7 L1395.7,363.3 L1392.2,358.9 L1388.6,354.5 L1385.0,350.1 L1381.5,345.7 L1377.9,341.3 L1374.3,337.0 L1370.7,332.6 L1367.1,328.3 L1363.5,323.9 L1360.0,319.6 L1356.4,315.3 L1352.8,311.0 L1349.1,306.7 L1345.5,302.4 L1341.9,298.1 L1338.3,293.8 L1334.7,289.5 L1331.1,285.3 L1327.4,281.0 L1323.8,276.7 L1320.2,272.5 L1316.5,268.3 L1312.9,264.0 L1309.2,259.8 L1305.6,255.6 L1301.9,251.4 L1298.3,247.2 L1294.6,243.0 L1290.9,238.8 L1287.3,234.7 L1283.6,230.5 L1279.9,226.3 L1276.2,222.2 L1272.5,218.0 L1268.8,213.9 L1265.1,209.8 L1261.4,205.6 L1257.7,201.5 L1254.0,197.4 L1250.3,193.3 L1246.6,189.2 L1242.9,185.1 L1239.2,181.0 L1235.4,177.0 L1231.7,172.9 L1228.0,168.8 L1224.2,164.8 L1220.5,160.7 L1216.7,156.7 L1213.0,152.7 L1209.2,148.6 L1205.4,144.6 L1201.7,140.6 L1197.9,136.6 L1194.1,132.6 L1190.3,128.6 L1186.5,124.6 L1182.7,120.6 L1178.9,116.6 L1175.1,112.6 L1171.3,108.7 L1167.5,104.7 L1163.7,100.8 L1159.9,96.8 L1156.0,92.9 L1152.2,88.9 L1148.4,85.0 L1144.5,81.1 L1140.7,77.2 L1136.8,73.3 L1133.0,69.3 L1129.1,65.4 L1125.2,61.6 L1121.4,57.7 L1117.5,53.8 L1113.6,49.9 L1109.7,46.0 L1105.8,42.2 L1101.9,38.3 L1098.0,34.4 L1094.1,30.6 L1090.2,26.8 L1086.3,22.9 L1082.3,19.1 L1078.4,15.3 L1074.5,11.4 L1070.5,7.6 L1066.6,3.8 L1062.6,-0.0 L1058.7,-3.8 L1054.7,-7.6 L1050.7,-11.4 L1046.8,-15.2 L1042.8,-19.0 L1038.8,-22.7 L1034.8,-26.5 L1030.8,-30.3 L1026.8,-34.0 L1022.8,-37.8 L1018.8,-41.5 L1014.7,-45.3 L1010.7,-49.0 L1006.7,-52.8 L1002.6,-56.5 L998.6,-60.2 L994.5,-63.9 L990.5,-67.7 L986.4,-71.4 L982.3,-75.1 L978.2,-78.8 L974.2,-82.5 L970.1,-86.2 L966.0,-89.9 L961.9,-93.6 L957.8,-97.2 L953.6,-100.9 L949.5,-104.6 L945.4,-108.2 L941.2,-111.9 L937.1,-115.6 L932.9,-119.2 L928.8,-122.9 L924.6,-126.5 L920.4,-130.1 L916.3,-133.8 L912.1,-137.4 L907.9,-141.0 L903.7,-144.7 L899.5,-148.3 L895.3,-151.9 L891.0,-155.5 L886.8,-159.1 L882.6,-162.7 L878.3,-166.3 L874.1,-169.9 L869.8,-173.5 L865.6,-177.1 L861.3,-180.7 L857.0,-184.2 L852.7,-187.8 L848.4,-191.4 L844.1,-194.9 L839.8,-198.5 L835.5,-202.0 L831.2,-205.6 L826.8,-209.2 L822.5,-212.7 L818.1,-216.2 L813.8,-219.8 L809.4,-223.3 L805.0,-226.8 L800.7,-230.4 L796.3,-233.9 L791.9,-237.4 L787.5,-240.9 L783.0,-244.4 L778.6,-247.9 L774.2,-251.4 L769.7,-254.9 L765.3,-258.4 L760.8,-261.9 L756.4,-265.4 L751.9,-268.9 L747.4,-272.4 L742.9,-275.9 L738.4,-279.3 L733.9,-282.8 L729.4,-286.3 L724.9,-289.7 L720.3,-293.2 L715.8,-296.6 L711.2,-300.1 L706.7,-303.5 L702.1,-307.0 L697.5,-310.4 L692.9,-313.9 L688.3,-317.3 L683.7,-320.7 L679.1,-324.2 L674.4,-327.6 L669.8,-331.0 L665.2,-334.4 L660.5,-337.8 L655.8,-341.2 L651.1,-344.7 L646.5,-348.1 L641.8,-351.5 M1988.6,792.3 L1984.5,786.6 L1980.4,780.8 L1976.3,775.0 L1972.2,769.3 L1968.1,763.6 L1964.0,757.9 L1959.9,752.2 L1955.8,746.6 L1951.7,741.0 L1947.6,735.4 L1943.5,729.8 L1939.4,724.2 L1935.3,718.7 L1931.1,713.1 L1927.0,707.6 L1922.9,702.1 L1918.8,696.7 L1914.6,691.2 L1910.5,685.8 L1906.4,680.4 L1902.3,675.0 L1898.1,669.6 L1894.0,664.2 L1889.8,658.9 L1885.7,653.6 L1881.5,648.3 L1877.4,643.0 L1873.3,637.7 L1869.1,632.5 L1864.9,627.2 L1860.8,622.0 L1856.6,616.8 L1852.5,611.6 L1848.3,606.5 L1844.1,601.3 L1840.0,596.2 L1835.8,591.1 L1831.6,586.0 L1827.5,580.9 L1823.3,575.9 L1819.1,570.8 L1814.9,565.8 L1810.8,560.8 L1806.6,555.8 L1802.4,550.8 L1798.2,545.9 L1794.0,540.9 L1789.8,536.0 L1785.6,531.1 L1781.4,526.2 L1777.3,521.3 L1773.1,516.4 L1768.9,511.6 L1764.7,506.7 L1760.4,501.9 L1756.2,497.1 L1752.0,492.3 L1747.8,487.6 L1743.6,482.8 L1739.4,478.1 L1735.2,473.3 L1731.0,468.6 L1726.8,463.9 L1722.5,459.2 L1718.3,454.6 L1714.1,449.9 L1709.9,445.3 L1705.6,440.6 L1701.4,436.0 L1697.2,431.4 L1692.9,426.8 L1688.7,422.3 L1684.5,417.7 L1680.2,413.2 L1676.0,408.6 L1671.7,404.1 L1667.5,399.6 L1663.2,395.1 L1659.0,390.7 L1654.7,386.2 L1650.5,381.8 L1646.2,377.3 L1642.0,372.9 L1637.7,368.5 L1633.4,364.1 L1629.2,359.7 L1624.9,355.4 L1620.6,351.0 L1616.4,346.7 L1612.1,342.4 L1607.8,338.0 L1603.5,333.7 L1599.2,329.4 L1595.0,325.2 L1590.7,320.9 L1586.4,316.6 L1582.1,312.4 L1577.8,308.2 L1573.5,304.0 L1569.2,299.8 L1564.9,295.6 L1560.6,291.4 L1556.3,287.2 L1552.0,283.1 L1547.7,278.9 L1543.4,274.8 L1539.1,270.7 L1534.8,266.6 L1530.5,262.5 L1526.1,258.4 L1521.8,254.3 L1517.5,250.2 L1513.2,246.2 L1508.8,242.2 L1504.5,238.1 L1500.2,234.1 L1495.9,230.1 L1491.5,226.1 L1487.2,222.1 L1482.8,218.2 L1478.5,214.2 L1474.1,210.2 L1469.8,206.3 L1465.4,202.4 L1461.1,198.5 L1456.7,194.5 L1452.4,190.7 L1448.0,186.8 L1443.6,182.9 L1439.3,179.0 L1434.9,175.2 L1430.5,171.3 L1426.1,167.5 L1421.8,163.7 L1417.4,159.9 L1413.0,156.1 L1408.6,152.3 L1404.2,148.5 L1399.8,144.7 L1395.4,140.9 L1391.0,137.2 L1386.6,133.5 L1382.2,129.7 L1377.8,126.0 L1373.4,122.3 L1369.0,118.6 L1364.6,114.9 L1360.2,111.2 L1355.7,107.5 L1351.3,103.9 L1346.9,100.2 L1342.5,96.6 L1338.0,92.9 L1333.6,89.3 L1329.1,85.7 L1324.7,82.1 L1320.2,78.5 L1315.8,74.9 L1311.3,71.3 L1306.9,67.8 L1302.4,64.2 L1298.0,60.6 L1293.5,57.1 L1289.0,53.6 L1284.5,50.0 L1280.1,46.5 L1275.6,43.0 L1271.1,39.5 L1266.6,36.0 L1262.1,32.6 L1257.6,29.1 L1253.1,25.6 L1248.6,22.2 L1244.1,18.7 L1239.6,15.3 L1235.1,11.9 L1230.6,8.4 L1226.1,5.0 L1221.5,1.6 L1217.0,-1.8 L1212.5,-5.2 L1207.9,-8.5 L1203.4,-11.9 L1198.9,-15.3 L1194.3,-18.6 L1189.8,-21.9 L1185.2,-25.3 L1180.6,-28.6 L1176.1,-31.9 L1171.5,-35.2 L1166.9,-38.5 L1162.4,-41.8 L1157.8,-45.1 L1153.2,-48.4 L1148.6,-51.7 L1144.0,-54.9 L1139.4,-58.2 L1134.8,-61.4 L1130.2,-64.7 L1125.6,-67.9 L1121.0,-71.1 L1116.4,-74.3 L1111.8,-77.5 L1107.1,-80.7 L1102.5,-83.9 L1097.9,-87.1 L1093.2,-90.3 L1088.6,-93.4 L1083.9,-96.6 L1079.3,-99.8 L1074.6,-102.9 L1069.9,-106.0 L1065.3,-109.2 L1060.6,-112.3 L1055.9,-115.4 L1051.2,-118.5 L1046.5,-121.6 L1041.9,-124.7 L1037.2,-127.8 L1032.5,-130.9 L1027.7,-133.9 L1023.0,-137.0 L1018.3,-140.0 L1013.6,-143.1 L1008.9,-146.1 L1004.1,-149.2 L999.4,-152.2 L994.6,-155.2 L989.9,-158.2 L985.1,-161.2 L980.4,-164.2 L975.6,-167.2 L970.8,-170.2 L966.1,-173.2 L961.3,-176.1 L956.5,-179.1 L951.7,-182.0 L946.9,-185.0 L942.1,-187.9 L937.3,-190.9 L932.5,-193.8 L927.6,-196.7 L922.8,-199.6 L918.0,-202.5 L913.1,-205.4 L908.3,-208.3 L903.5,-211.2 L898.6,-214.1 L893.7,-216.9 L888.9,-219.8 L884.0,-222.6 L879.1,-225.5 L874.2,-228.3 L869.3,-231.2 L864.4,-234.0 L859.5,-236.8 L854.6,-239.6 L849.7,-242.4 L844.8,-245.2 L839.8,-248.0 L834.9,-250.8 L829.9,-253.6 L825.0,-256.4 L820.0,-259.1 L815.1,-261.9 L810.1,-264.7 L805.1,-267.4 L800.1,-270.1 L795.1,-272.9 L790.1,-275.6 L785.1,-278.3 L780.1,-281.0 L775.1,-283.7 L770.1,-286.4 L765.0,-289.1 L760.0,-291.8 L754.9,-294.5 L749.9,-297.2 L744.8,-299.8 L739.8,-302.5 L734.7,-305.2 L729.6,-307.8 L724.5,-310.4 L719.4,-313.1 L714.3,-315.7 L709.2,-318.3 L704.1,-320.9 L698.9,-323.5 L693.8,-326.1 L688.6,-328.7 L683.5,-331.3 L678.3,-333.9 L673.1,-336.5 L668.0,-339.0 L662.8,-341.6 L657.6,-344.2 L652.4,-346.7 L647.2,-349.3 L642.0,-351.8"/>
</g>
<rect x="270.4" y="123.3" width="739.8" height="740.9" fill="none" stroke="#000" stroke-width="2.3"/>
<g class="t">
<text x="640" y="38.8" text-anchor="middle" font-family="DejaVu Sans, Liberation Sans, sans-serif" font-size="26.93" font-weight="bold">MODIS IR Cloud Phase</text>
<text x="640" y="112" text-anchor="middle" font-family="DejaVu Sans, Liberation Sans, sans-serif" font-size="22.22" font-style="italic">Aqua 20260429 0948 UTC</text>
<text x="263" y="147" text-anchor="end" font-family="DejaVu Sans, Liberation Sans, sans-serif" font-size="17.8">60°N</text>
<text x="263" y="368" text-anchor="end" font-family="DejaVu Sans, Liberation Sans, sans-serif" font-size="17.8">50°N</text>
<text x="263" y="577" text-anchor="end" font-family="DejaVu Sans, Liberation Sans, sans-serif" font-size="17.8">40°N</text>
<text x="263" y="780" text-anchor="end" font-family="DejaVu Sans, Liberation Sans, sans-serif" font-size="17.8">30°N</text>
<text x="365.5" y="884" text-anchor="middle" font-family="DejaVu Sans, Liberation Sans, sans-serif" font-size="17.8">100°W</text>
<text x="540" y="884" text-anchor="middle" font-family="DejaVu Sans, Liberation Sans, sans-serif" font-size="17.8">90°W</text>
<text x="711" y="884" text-anchor="middle" font-family="DejaVu Sans, Liberation Sans, sans-serif" font-size="17.8">80°W</text>
<text x="886" y="884" text-anchor="middle" font-family="DejaVu Sans, Liberation Sans, sans-serif" font-size="17.8">70°W</text>
</g>
<rect x="272" y="914.8" width="736.4" height="34.4" fill="#fff" stroke="#000" stroke-width="2"/>
<rect x="281" y="925" width="45.2" height="15.3" fill="#0000ff" stroke="#000" stroke-width="2"/>
<text x="341.5" y="940" font-family="DejaVu Sans, Liberation Sans, sans-serif" font-size="22.2" class="t">Water</text>
<rect x="452" y="925" width="45.2" height="15.3" fill="#e67f7f" stroke="#000" stroke-width="2"/>
<text x="511.5" y="940" font-family="DejaVu Sans, Liberation Sans, sans-serif" font-size="22.2" class="t">Ice</text>
<rect x="588" y="925" width="45.2" height="15.3" fill="#f5d5d5" stroke="#000" stroke-width="2"/>
<text x="649" y="940" font-family="DejaVu Sans, Liberation Sans, sans-serif" font-size="22.2" class="t">Mixed Phase</text>
<rect x="833.2" y="925" width="45.2" height="15.3" fill="#cccccc" stroke="#000" stroke-width="2"/>
<text x="892.5" y="940" font-family="DejaVu Sans, Liberation Sans, sans-serif" font-size="22.2" class="t">Uncertain</text>
</svg>
</body></html>
